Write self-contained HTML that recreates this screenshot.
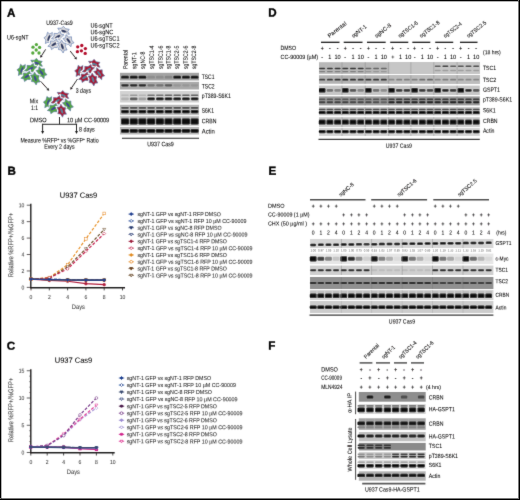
<!DOCTYPE html><html><head><meta charset="utf-8"><style>html,body{margin:0;padding:0;background:#fff;}svg{display:block;will-change:transform;}text{font-family:"Liberation Sans", sans-serif;text-rendering:geometricPrecision;}</style></head><body>
<svg width="520" height="500" viewBox="0 0 520 500">
<defs><filter id="bl" x="-20%" y="-50%" width="140%" height="200%"><feGaussianBlur stdDeviation="0.55"/></filter><filter id="gb" x="0" y="0" width="520" height="500" filterUnits="userSpaceOnUse"><feConvolveMatrix order="3" kernelMatrix="8.1 73.8 8.1 73.8 672.4 73.8 8.1 73.8 8.1" divisor="1000.0" edgeMode="duplicate" preserveAlpha="false"/></filter></defs>
<rect x="0.00" y="0.00" width="520.00" height="500.00" fill="#ffffff"/>
<g filter="url(#gb)">
<text x="7.00" y="16.70" font-size="11.6" font-weight="bold" fill="#000" stroke="#000" stroke-width="0.35" transform="rotate(0.05 7.00 12.70)">A</text>
<text x="7.45" y="174.80" font-size="11.6" font-weight="bold" fill="#000" stroke="#000" stroke-width="0.35" transform="rotate(0.05 7.45 170.80)">B</text>
<text x="6.85" y="349.80" font-size="11.6" font-weight="bold" fill="#000" stroke="#000" stroke-width="0.35" transform="rotate(0.05 6.85 345.80)">C</text>
<text x="268.25" y="16.45" font-size="11.6" font-weight="bold" fill="#000" stroke="#000" stroke-width="0.35" transform="rotate(0.05 268.25 12.45)">D</text>
<text x="268.55" y="174.75" font-size="11.6" font-weight="bold" fill="#000" stroke="#000" stroke-width="0.35" transform="rotate(0.05 268.55 170.75)">E</text>
<text x="268.35" y="349.55" font-size="11.6" font-weight="bold" fill="#000" stroke="#000" stroke-width="0.35" transform="rotate(0.05 268.35 345.55)">F</text>
<text x="46.20" y="24.94" font-size="6.48" textLength="26.50" lengthAdjust="spacingAndGlyphs" stroke="#231f20" stroke-width="0.06" transform="rotate(0.05 46.20 22.70)">U937-Cas9</text>
<text x="7.00" y="39.44" font-size="6.48" textLength="21.60" lengthAdjust="spacingAndGlyphs" stroke="#231f20" stroke-width="0.06" transform="rotate(0.05 7.00 37.20)">U6-sgNT</text>
<text x="90.40" y="27.64" font-size="6.48" textLength="22.29" lengthAdjust="spacingAndGlyphs" stroke="#231f20" stroke-width="0.06" transform="rotate(0.05 90.40 25.40)">U6-sgNT</text>
<text x="90.40" y="34.24" font-size="6.48" textLength="22.91" lengthAdjust="spacingAndGlyphs" stroke="#231f20" stroke-width="0.06" transform="rotate(0.05 90.40 32.00)">U6-sgNC</text>
<text x="90.40" y="40.84" font-size="6.48" textLength="29.11" lengthAdjust="spacingAndGlyphs" stroke="#231f20" stroke-width="0.06" transform="rotate(0.05 90.40 38.60)">U6-sgTSC1</text>
<text x="90.40" y="47.44" font-size="6.48" textLength="29.11" lengthAdjust="spacingAndGlyphs" stroke="#231f20" stroke-width="0.06" transform="rotate(0.05 90.40 45.20)">U6-sgTSC2</text>
<path d="M69.44,34.25 L65.81,34.12 L63.82,36.15 L61.63,33.70 L57.98,33.10 L59.42,30.78 L57.76,28.15 L61.39,28.28 L63.38,26.25 L65.57,28.70 L69.22,29.30 L67.78,31.62Z" fill="none" stroke="#ffffff" stroke-width="2.4"/>
<path d="M69.44,34.25 L65.81,34.12 L63.82,36.15 L61.63,33.70 L57.98,33.10 L59.42,30.78 L57.76,28.15 L61.39,28.28 L63.38,26.25 L65.57,28.70 L69.22,29.30 L67.78,31.62Z" fill="#d6d6da" stroke="#4466a6" stroke-width="0.55"/>
<ellipse cx="63.60" cy="31.20" rx="3.1" ry="1.15" fill="#22315e" transform="rotate(15 63.60 31.20)"/>
<path d="M52.44,32.45 L52.00,36.06 L53.85,38.21 L51.22,40.18 L50.31,43.76 L48.12,42.12 L45.36,43.55 L45.80,39.94 L43.95,37.79 L46.58,35.82 L47.49,32.24 L49.68,33.88Z" fill="none" stroke="#ffffff" stroke-width="2.4"/>
<path d="M52.44,32.45 L52.00,36.06 L53.85,38.21 L51.22,40.18 L50.31,43.76 L48.12,42.12 L45.36,43.55 L45.80,39.94 L43.95,37.79 L46.58,35.82 L47.49,32.24 L49.68,33.88Z" fill="#d6d6da" stroke="#4466a6" stroke-width="0.55"/>
<ellipse cx="48.90" cy="38.00" rx="3.1" ry="1.15" fill="#22315e" transform="rotate(-70 48.90 38.00)"/>
<path d="M63.98,34.73 L61.32,37.20 L61.35,40.05 L58.07,39.86 L55.07,42.02 L54.45,39.36 L51.42,38.67 L54.08,36.20 L54.05,33.35 L57.33,33.54 L60.33,31.38 L60.95,34.04Z" fill="none" stroke="#ffffff" stroke-width="2.4"/>
<path d="M63.98,34.73 L61.32,37.20 L61.35,40.05 L58.07,39.86 L55.07,42.02 L54.45,39.36 L51.42,38.67 L54.08,36.20 L54.05,33.35 L57.33,33.54 L60.33,31.38 L60.95,34.04Z" fill="#d6d6da" stroke="#4466a6" stroke-width="0.55"/>
<ellipse cx="57.70" cy="36.70" rx="3.1" ry="1.15" fill="#22315e" transform="rotate(-30 57.70 36.70)"/>
<path d="M71.01,46.78 L68.32,44.35 L65.49,44.63 L65.39,41.35 L62.97,38.55 L65.57,37.70 L65.99,34.62 L68.68,37.05 L71.51,36.77 L71.61,40.05 L74.03,42.85 L71.43,43.70Z" fill="none" stroke="#ffffff" stroke-width="2.4"/>
<path d="M71.01,46.78 L68.32,44.35 L65.49,44.63 L65.39,41.35 L62.97,38.55 L65.57,37.70 L65.99,34.62 L68.68,37.05 L71.51,36.77 L71.61,40.05 L74.03,42.85 L71.43,43.70Z" fill="#d6d6da" stroke="#4466a6" stroke-width="0.55"/>
<ellipse cx="68.50" cy="40.70" rx="3.1" ry="1.15" fill="#22315e" transform="rotate(55 68.50 40.70)"/>
<path d="M60.38,42.33 L57.72,44.80 L57.75,47.65 L54.47,47.46 L51.47,49.62 L50.85,46.96 L47.82,46.27 L50.48,43.80 L50.45,40.95 L53.73,41.14 L56.73,38.98 L57.35,41.64Z" fill="none" stroke="#ffffff" stroke-width="2.4"/>
<path d="M60.38,42.33 L57.72,44.80 L57.75,47.65 L54.47,47.46 L51.47,49.62 L50.85,46.96 L47.82,46.27 L50.48,43.80 L50.45,40.95 L53.73,41.14 L56.73,38.98 L57.35,41.64Z" fill="#d6d6da" stroke="#4466a6" stroke-width="0.55"/>
<ellipse cx="54.10" cy="44.30" rx="3.1" ry="1.15" fill="#22315e" transform="rotate(-30 54.10 44.30)"/>
<path d="M63.15,53.03 L61.18,49.98 L58.37,49.52 L59.12,46.32 L57.52,42.99 L60.25,42.84 L61.45,39.97 L63.42,43.02 L66.23,43.48 L65.48,46.68 L67.08,50.01 L64.35,50.16Z" fill="none" stroke="#ffffff" stroke-width="2.4"/>
<path d="M63.15,53.03 L61.18,49.98 L58.37,49.52 L59.12,46.32 L57.52,42.99 L60.25,42.84 L61.45,39.97 L63.42,43.02 L66.23,43.48 L65.48,46.68 L67.08,50.01 L64.35,50.16Z" fill="#d6d6da" stroke="#4466a6" stroke-width="0.55"/>
<ellipse cx="62.30" cy="46.50" rx="3.1" ry="1.15" fill="#22315e" transform="rotate(70 62.30 46.50)"/>
<circle cx="36.4" cy="44.6" r="1.65" fill="#55a83d"/>
<circle cx="33" cy="47.2" r="1.65" fill="#55a83d"/>
<circle cx="39.6" cy="47.4" r="1.65" fill="#55a83d"/>
<circle cx="36.2" cy="50" r="1.65" fill="#55a83d"/>
<circle cx="32.8" cy="53" r="1.65" fill="#55a83d"/>
<circle cx="39" cy="53" r="1.65" fill="#55a83d"/>
<circle cx="77.7" cy="46.8" r="1.65" fill="#b30f2d"/>
<circle cx="81.8" cy="45.5" r="1.65" fill="#b30f2d"/>
<circle cx="85.4" cy="48.6" r="1.65" fill="#b30f2d"/>
<circle cx="77.4" cy="51.7" r="1.65" fill="#b30f2d"/>
<circle cx="81.4" cy="50.8" r="1.65" fill="#b30f2d"/>
<circle cx="85.2" cy="53.4" r="1.65" fill="#b30f2d"/>
<path d="M42.44,66.25 L38.81,66.12 L36.82,68.15 L34.63,65.70 L30.98,65.10 L32.42,62.78 L30.76,60.15 L34.39,60.28 L36.38,58.25 L38.57,60.70 L42.22,61.30 L40.78,63.62Z" fill="none" stroke="#ffffff" stroke-width="2.4"/>
<path d="M42.44,66.25 L38.81,66.12 L36.82,68.15 L34.63,65.70 L30.98,65.10 L32.42,62.78 L30.76,60.15 L34.39,60.28 L36.38,58.25 L38.57,60.70 L42.22,61.30 L40.78,63.62Z" fill="#55a83e" stroke="#4466a6" stroke-width="0.55"/>
<ellipse cx="36.60" cy="63.20" rx="3.1" ry="1.15" fill="#3f4a8e" transform="rotate(15 36.60 63.20)"/>
<path d="M25.44,64.45 L25.00,68.06 L26.85,70.21 L24.22,72.18 L23.31,75.76 L21.12,74.12 L18.36,75.55 L18.80,71.94 L16.95,69.79 L19.58,67.82 L20.49,64.24 L22.68,65.88Z" fill="none" stroke="#ffffff" stroke-width="2.4"/>
<path d="M25.44,64.45 L25.00,68.06 L26.85,70.21 L24.22,72.18 L23.31,75.76 L21.12,74.12 L18.36,75.55 L18.80,71.94 L16.95,69.79 L19.58,67.82 L20.49,64.24 L22.68,65.88Z" fill="#55a83e" stroke="#4466a6" stroke-width="0.55"/>
<ellipse cx="21.90" cy="70.00" rx="3.1" ry="1.15" fill="#3f4a8e" transform="rotate(-70 21.90 70.00)"/>
<path d="M36.98,66.73 L34.32,69.20 L34.35,72.05 L31.07,71.86 L28.07,74.02 L27.45,71.36 L24.42,70.67 L27.08,68.20 L27.05,65.35 L30.33,65.54 L33.33,63.38 L33.95,66.04Z" fill="none" stroke="#ffffff" stroke-width="2.4"/>
<path d="M36.98,66.73 L34.32,69.20 L34.35,72.05 L31.07,71.86 L28.07,74.02 L27.45,71.36 L24.42,70.67 L27.08,68.20 L27.05,65.35 L30.33,65.54 L33.33,63.38 L33.95,66.04Z" fill="#55a83e" stroke="#4466a6" stroke-width="0.55"/>
<ellipse cx="30.70" cy="68.70" rx="3.1" ry="1.15" fill="#3f4a8e" transform="rotate(-30 30.70 68.70)"/>
<path d="M44.01,78.78 L41.32,76.35 L38.49,76.63 L38.39,73.35 L35.97,70.55 L38.57,69.70 L38.99,66.62 L41.68,69.05 L44.51,68.77 L44.61,72.05 L47.03,74.85 L44.43,75.70Z" fill="none" stroke="#ffffff" stroke-width="2.4"/>
<path d="M44.01,78.78 L41.32,76.35 L38.49,76.63 L38.39,73.35 L35.97,70.55 L38.57,69.70 L38.99,66.62 L41.68,69.05 L44.51,68.77 L44.61,72.05 L47.03,74.85 L44.43,75.70Z" fill="#55a83e" stroke="#4466a6" stroke-width="0.55"/>
<ellipse cx="41.50" cy="72.70" rx="3.1" ry="1.15" fill="#3f4a8e" transform="rotate(55 41.50 72.70)"/>
<path d="M33.38,74.33 L30.72,76.80 L30.75,79.65 L27.47,79.46 L24.47,81.62 L23.85,78.96 L20.82,78.27 L23.48,75.80 L23.45,72.95 L26.73,73.14 L29.73,70.98 L30.35,73.64Z" fill="none" stroke="#ffffff" stroke-width="2.4"/>
<path d="M33.38,74.33 L30.72,76.80 L30.75,79.65 L27.47,79.46 L24.47,81.62 L23.85,78.96 L20.82,78.27 L23.48,75.80 L23.45,72.95 L26.73,73.14 L29.73,70.98 L30.35,73.64Z" fill="#55a83e" stroke="#4466a6" stroke-width="0.55"/>
<ellipse cx="27.10" cy="76.30" rx="3.1" ry="1.15" fill="#3f4a8e" transform="rotate(-30 27.10 76.30)"/>
<path d="M36.15,85.03 L34.18,81.98 L31.37,81.52 L32.12,78.32 L30.52,74.99 L33.25,74.84 L34.45,71.97 L36.42,75.02 L39.23,75.48 L38.48,78.68 L40.08,82.01 L37.35,82.16Z" fill="none" stroke="#ffffff" stroke-width="2.4"/>
<path d="M36.15,85.03 L34.18,81.98 L31.37,81.52 L32.12,78.32 L30.52,74.99 L33.25,74.84 L34.45,71.97 L36.42,75.02 L39.23,75.48 L38.48,78.68 L40.08,82.01 L37.35,82.16Z" fill="#55a83e" stroke="#4466a6" stroke-width="0.55"/>
<ellipse cx="35.30" cy="78.50" rx="3.1" ry="1.15" fill="#3f4a8e" transform="rotate(70 35.30 78.50)"/>
<path d="M100.14,67.25 L96.51,67.12 L94.52,69.15 L92.33,66.70 L88.68,66.10 L90.12,63.78 L88.46,61.15 L92.09,61.28 L94.08,59.25 L96.27,61.70 L99.92,62.30 L98.48,64.62Z" fill="none" stroke="#ffffff" stroke-width="2.4"/>
<path d="M100.14,67.25 L96.51,67.12 L94.52,69.15 L92.33,66.70 L88.68,66.10 L90.12,63.78 L88.46,61.15 L92.09,61.28 L94.08,59.25 L96.27,61.70 L99.92,62.30 L98.48,64.62Z" fill="#a8102e" stroke="#4466a6" stroke-width="0.55"/>
<ellipse cx="94.30" cy="64.20" rx="3.1" ry="1.15" fill="#5a7d96" transform="rotate(15 94.30 64.20)"/>
<path d="M83.14,65.45 L82.70,69.06 L84.55,71.21 L81.92,73.18 L81.01,76.76 L78.82,75.12 L76.06,76.55 L76.50,72.94 L74.65,70.79 L77.28,68.82 L78.19,65.24 L80.38,66.88Z" fill="none" stroke="#ffffff" stroke-width="2.4"/>
<path d="M83.14,65.45 L82.70,69.06 L84.55,71.21 L81.92,73.18 L81.01,76.76 L78.82,75.12 L76.06,76.55 L76.50,72.94 L74.65,70.79 L77.28,68.82 L78.19,65.24 L80.38,66.88Z" fill="#a8102e" stroke="#4466a6" stroke-width="0.55"/>
<ellipse cx="79.60" cy="71.00" rx="3.1" ry="1.15" fill="#5a7d96" transform="rotate(-70 79.60 71.00)"/>
<path d="M94.68,67.73 L92.02,70.20 L92.05,73.05 L88.77,72.86 L85.77,75.02 L85.15,72.36 L82.12,71.67 L84.78,69.20 L84.75,66.35 L88.03,66.54 L91.03,64.38 L91.65,67.04Z" fill="none" stroke="#ffffff" stroke-width="2.4"/>
<path d="M94.68,67.73 L92.02,70.20 L92.05,73.05 L88.77,72.86 L85.77,75.02 L85.15,72.36 L82.12,71.67 L84.78,69.20 L84.75,66.35 L88.03,66.54 L91.03,64.38 L91.65,67.04Z" fill="#a8102e" stroke="#4466a6" stroke-width="0.55"/>
<ellipse cx="88.40" cy="69.70" rx="3.1" ry="1.15" fill="#5a7d96" transform="rotate(-30 88.40 69.70)"/>
<path d="M101.71,79.78 L99.02,77.35 L96.19,77.63 L96.09,74.35 L93.67,71.55 L96.27,70.70 L96.69,67.62 L99.38,70.05 L102.21,69.77 L102.31,73.05 L104.73,75.85 L102.13,76.70Z" fill="none" stroke="#ffffff" stroke-width="2.4"/>
<path d="M101.71,79.78 L99.02,77.35 L96.19,77.63 L96.09,74.35 L93.67,71.55 L96.27,70.70 L96.69,67.62 L99.38,70.05 L102.21,69.77 L102.31,73.05 L104.73,75.85 L102.13,76.70Z" fill="#a8102e" stroke="#4466a6" stroke-width="0.55"/>
<ellipse cx="99.20" cy="73.70" rx="3.1" ry="1.15" fill="#5a7d96" transform="rotate(55 99.20 73.70)"/>
<path d="M91.08,75.33 L88.42,77.80 L88.45,80.65 L85.17,80.46 L82.17,82.62 L81.55,79.96 L78.52,79.27 L81.18,76.80 L81.15,73.95 L84.43,74.14 L87.43,71.98 L88.05,74.64Z" fill="none" stroke="#ffffff" stroke-width="2.4"/>
<path d="M91.08,75.33 L88.42,77.80 L88.45,80.65 L85.17,80.46 L82.17,82.62 L81.55,79.96 L78.52,79.27 L81.18,76.80 L81.15,73.95 L84.43,74.14 L87.43,71.98 L88.05,74.64Z" fill="#a8102e" stroke="#4466a6" stroke-width="0.55"/>
<ellipse cx="84.80" cy="77.30" rx="3.1" ry="1.15" fill="#5a7d96" transform="rotate(-30 84.80 77.30)"/>
<path d="M93.85,86.03 L91.88,82.98 L89.07,82.52 L89.82,79.32 L88.22,75.99 L90.95,75.84 L92.15,72.97 L94.12,76.02 L96.93,76.48 L96.18,79.68 L97.78,83.01 L95.05,83.16Z" fill="none" stroke="#ffffff" stroke-width="2.4"/>
<path d="M93.85,86.03 L91.88,82.98 L89.07,82.52 L89.82,79.32 L88.22,75.99 L90.95,75.84 L92.15,72.97 L94.12,76.02 L96.93,76.48 L96.18,79.68 L97.78,83.01 L95.05,83.16Z" fill="#a8102e" stroke="#4466a6" stroke-width="0.55"/>
<ellipse cx="93.00" cy="79.50" rx="3.1" ry="1.15" fill="#5a7d96" transform="rotate(70 93.00 79.50)"/>
<path d="M68.84,98.45 L65.21,98.32 L63.22,100.35 L61.03,97.90 L57.38,97.30 L58.82,94.98 L57.16,92.35 L60.79,92.48 L62.78,90.45 L64.97,92.90 L68.62,93.50 L67.18,95.82Z" fill="none" stroke="#ffffff" stroke-width="2.4"/>
<path d="M68.84,98.45 L65.21,98.32 L63.22,100.35 L61.03,97.90 L57.38,97.30 L58.82,94.98 L57.16,92.35 L60.79,92.48 L62.78,90.45 L64.97,92.90 L68.62,93.50 L67.18,95.82Z" fill="#a8102e" stroke="#4466a6" stroke-width="0.55"/>
<ellipse cx="63.00" cy="95.40" rx="3.1" ry="1.15" fill="#5a7d96" transform="rotate(15 63.00 95.40)"/>
<path d="M51.84,96.65 L51.40,100.26 L53.25,102.41 L50.62,104.38 L49.71,107.96 L47.52,106.32 L44.76,107.75 L45.20,104.14 L43.35,101.99 L45.98,100.02 L46.89,96.44 L49.08,98.08Z" fill="none" stroke="#ffffff" stroke-width="2.4"/>
<path d="M51.84,96.65 L51.40,100.26 L53.25,102.41 L50.62,104.38 L49.71,107.96 L47.52,106.32 L44.76,107.75 L45.20,104.14 L43.35,101.99 L45.98,100.02 L46.89,96.44 L49.08,98.08Z" fill="#55a83e" stroke="#4466a6" stroke-width="0.55"/>
<ellipse cx="48.30" cy="102.20" rx="3.1" ry="1.15" fill="#3f4a8e" transform="rotate(-70 48.30 102.20)"/>
<path d="M63.38,98.93 L60.72,101.40 L60.75,104.25 L57.47,104.06 L54.47,106.22 L53.85,103.56 L50.82,102.87 L53.48,100.40 L53.45,97.55 L56.73,97.74 L59.73,95.58 L60.35,98.24Z" fill="none" stroke="#ffffff" stroke-width="2.4"/>
<path d="M63.38,98.93 L60.72,101.40 L60.75,104.25 L57.47,104.06 L54.47,106.22 L53.85,103.56 L50.82,102.87 L53.48,100.40 L53.45,97.55 L56.73,97.74 L59.73,95.58 L60.35,98.24Z" fill="#a8102e" stroke="#4466a6" stroke-width="0.55"/>
<ellipse cx="57.10" cy="100.90" rx="3.1" ry="1.15" fill="#5a7d96" transform="rotate(-30 57.10 100.90)"/>
<path d="M70.41,110.98 L67.72,108.55 L64.89,108.83 L64.79,105.55 L62.37,102.75 L64.97,101.90 L65.39,98.82 L68.08,101.25 L70.91,100.97 L71.01,104.25 L73.43,107.05 L70.83,107.90Z" fill="none" stroke="#ffffff" stroke-width="2.4"/>
<path d="M70.41,110.98 L67.72,108.55 L64.89,108.83 L64.79,105.55 L62.37,102.75 L64.97,101.90 L65.39,98.82 L68.08,101.25 L70.91,100.97 L71.01,104.25 L73.43,107.05 L70.83,107.90Z" fill="#55a83e" stroke="#4466a6" stroke-width="0.55"/>
<ellipse cx="67.90" cy="104.90" rx="3.1" ry="1.15" fill="#3f4a8e" transform="rotate(55 67.90 104.90)"/>
<path d="M59.78,106.53 L57.12,109.00 L57.15,111.85 L53.87,111.66 L50.87,113.82 L50.25,111.16 L47.22,110.47 L49.88,108.00 L49.85,105.15 L53.13,105.34 L56.13,103.18 L56.75,105.84Z" fill="none" stroke="#ffffff" stroke-width="2.4"/>
<path d="M59.78,106.53 L57.12,109.00 L57.15,111.85 L53.87,111.66 L50.87,113.82 L50.25,111.16 L47.22,110.47 L49.88,108.00 L49.85,105.15 L53.13,105.34 L56.13,103.18 L56.75,105.84Z" fill="#55a83e" stroke="#4466a6" stroke-width="0.55"/>
<ellipse cx="53.50" cy="108.50" rx="3.1" ry="1.15" fill="#3f4a8e" transform="rotate(-30 53.50 108.50)"/>
<path d="M62.55,117.23 L60.58,114.18 L57.77,113.72 L58.52,110.52 L56.92,107.19 L59.65,107.04 L60.85,104.17 L62.82,107.22 L65.63,107.68 L64.88,110.88 L66.48,114.21 L63.75,114.36Z" fill="none" stroke="#ffffff" stroke-width="2.4"/>
<path d="M62.55,117.23 L60.58,114.18 L57.77,113.72 L58.52,110.52 L56.92,107.19 L59.65,107.04 L60.85,104.17 L62.82,107.22 L65.63,107.68 L64.88,110.88 L66.48,114.21 L63.75,114.36Z" fill="#a8102e" stroke="#4466a6" stroke-width="0.55"/>
<ellipse cx="61.70" cy="110.70" rx="3.1" ry="1.15" fill="#5a7d96" transform="rotate(70 61.70 110.70)"/>
<line x1="45.60" y1="49.40" x2="41.41" y2="55.92" stroke="#231f20" stroke-width="0.95"/>
<polygon points="40.20,57.80 40.30,55.00 42.70,56.54" fill="#231f20"/>
<line x1="70.20" y1="51.00" x2="75.44" y2="57.82" stroke="#231f20" stroke-width="0.95"/>
<polygon points="76.80,59.60 74.20,58.56 76.46,56.82" fill="#231f20"/>
<line x1="40.50" y1="81.20" x2="47.69" y2="89.05" stroke="#231f20" stroke-width="0.95"/>
<polygon points="49.20,90.70 46.52,89.89 48.62,87.96" fill="#231f20"/>
<line x1="77.50" y1="79.00" x2="71.55" y2="87.84" stroke="#231f20" stroke-width="0.95"/>
<polygon points="70.30,89.70 70.46,86.90 72.83,88.50" fill="#231f20"/>
<text x="75.80" y="92.74" font-size="6.48" textLength="15.20" lengthAdjust="spacingAndGlyphs" stroke="#231f20" stroke-width="0.06" transform="rotate(0.05 75.80 90.50)">3 days</text>
<text x="29.80" y="103.24" font-size="6.48" textLength="8.40" lengthAdjust="spacingAndGlyphs" stroke="#231f20" stroke-width="0.06" transform="rotate(0.05 29.80 101.00)">Mix</text>
<text x="31.00" y="110.04" font-size="6.48" textLength="7.03" lengthAdjust="spacingAndGlyphs" stroke="#231f20" stroke-width="0.06" transform="rotate(0.05 31.00 107.80)">1:1</text>
<rect x="59.00" y="117.00" width="1.00" height="7.30" fill="#2a2a2a"/>
<rect x="42.10" y="123.80" width="35.00" height="1.00" fill="#2a2a2a"/>
<rect x="42.10" y="123.80" width="1.00" height="7.60" fill="#2a2a2a"/>
<rect x="76.00" y="123.80" width="1.00" height="7.60" fill="#2a2a2a"/>
<polygon points="41.1,130.9 44.1,130.9 42.6,134.0" fill="#1a1a1a"/>
<polygon points="75.0,130.9 78.0,130.9 76.5,134.0" fill="#1a1a1a"/>
<text x="30.00" y="122.24" font-size="6.48" textLength="16.70" lengthAdjust="spacingAndGlyphs" stroke="#231f20" stroke-width="0.06" transform="rotate(0.05 30.00 120.00)">DMSO</text>
<text x="67.00" y="122.24" font-size="6.48" textLength="42.20" lengthAdjust="spacingAndGlyphs" stroke="#231f20" stroke-width="0.06" transform="rotate(0.05 67.00 120.00)">10 µM CC-90009</text>
<text x="79.00" y="131.44" font-size="6.48" textLength="15.80" lengthAdjust="spacingAndGlyphs" stroke="#231f20" stroke-width="0.06" transform="rotate(0.05 79.00 129.20)">8 days</text>
<text x="20.40" y="142.44" font-size="6.48" textLength="78.30" lengthAdjust="spacingAndGlyphs" stroke="#231f20" stroke-width="0.06" transform="rotate(0.05 20.40 140.20)">Measure %RFP<tspan font-size="3.8" dy="-2">+</tspan><tspan dy="2"> vs %GFP</tspan><tspan font-size="3.8" dy="-2">+</tspan><tspan dy="2"> Ratio</tspan></text>
<text x="44.20" y="148.74" font-size="6.48" textLength="30.40" lengthAdjust="spacingAndGlyphs" stroke="#231f20" stroke-width="0.06" transform="rotate(0.05 44.20 146.50)">Every 2 days</text>
<text x="125.30" y="71.26" font-size="6.26" textLength="19.36" lengthAdjust="spacingAndGlyphs" stroke="#231f20" stroke-width="0.06" transform="rotate(-89.95 125.30 69.10)">Parental</text>
<text x="134.00" y="71.26" font-size="6.26" textLength="16.76" lengthAdjust="spacingAndGlyphs" stroke="#231f20" stroke-width="0.06" transform="rotate(-89.95 134.00 69.10)">sgNT-1</text>
<text x="142.60" y="71.26" font-size="6.26" textLength="17.62" lengthAdjust="spacingAndGlyphs" stroke="#231f20" stroke-width="0.06" transform="rotate(-89.95 142.60 69.10)">sgNC-8</text>
<text x="151.60" y="71.26" font-size="6.26" textLength="23.40" lengthAdjust="spacingAndGlyphs" stroke="#231f20" stroke-width="0.06" transform="rotate(-89.95 151.60 69.10)">sgTSC1-4</text>
<text x="160.50" y="71.26" font-size="6.26" textLength="23.40" lengthAdjust="spacingAndGlyphs" stroke="#231f20" stroke-width="0.06" transform="rotate(-89.95 160.50 69.10)">sgTSC1-6</text>
<text x="168.40" y="71.26" font-size="6.26" textLength="23.40" lengthAdjust="spacingAndGlyphs" stroke="#231f20" stroke-width="0.06" transform="rotate(-89.95 168.40 69.10)">sgTSC1-8</text>
<text x="176.60" y="71.26" font-size="6.26" textLength="23.40" lengthAdjust="spacingAndGlyphs" stroke="#231f20" stroke-width="0.06" transform="rotate(-89.95 176.60 69.10)">sgTSC2-5</text>
<text x="185.70" y="71.26" font-size="6.26" textLength="23.40" lengthAdjust="spacingAndGlyphs" stroke="#231f20" stroke-width="0.06" transform="rotate(-89.95 185.70 69.10)">sgTSC2-6</text>
<text x="193.90" y="71.26" font-size="6.26" textLength="23.40" lengthAdjust="spacingAndGlyphs" stroke="#231f20" stroke-width="0.06" transform="rotate(-89.95 193.90 69.10)">sgTSC2-8</text>
<rect x="120.00" y="72.80" width="79.00" height="7.70" fill="#a4a4a4"/>
<g filter="url(#bl)">
<rect x="121.20" y="75.80" width="7.60" height="2.80" rx="1.20" fill="#141414"/>
<rect x="129.90" y="75.80" width="7.60" height="2.80" rx="1.20" fill="#0c0c0c"/>
<rect x="138.60" y="75.80" width="7.60" height="2.80" rx="1.20" fill="#0c0c0c"/>
<rect x="147.30" y="75.80" width="7.60" height="2.80" rx="1.20" fill="#8d8d8d"/>
<rect x="156.00" y="75.80" width="7.60" height="2.80" rx="1.20" fill="#8d8d8d"/>
<rect x="164.70" y="75.80" width="7.60" height="2.80" rx="1.20" fill="#868686"/>
<rect x="173.40" y="75.80" width="7.60" height="2.80" rx="1.20" fill="#0c0c0c"/>
<rect x="182.10" y="75.80" width="7.60" height="2.80" rx="1.20" fill="#0c0c0c"/>
<rect x="190.80" y="75.80" width="7.60" height="2.80" rx="1.20" fill="#0c0c0c"/>
</g>
<rect x="120.00" y="81.80" width="79.00" height="7.70" fill="#a9a9a9"/>
<g filter="url(#bl)">
<rect x="121.30" y="84.20" width="7.40" height="2.20" rx="1.10" fill="#242424"/>
<rect x="130.00" y="84.20" width="7.40" height="2.20" rx="1.10" fill="#242424"/>
<rect x="138.70" y="84.20" width="7.40" height="2.20" rx="1.10" fill="#242424"/>
<rect x="147.40" y="84.20" width="7.40" height="2.20" rx="1.10" fill="#727272"/>
<rect x="156.10" y="84.20" width="7.40" height="2.20" rx="1.10" fill="#727272"/>
<rect x="164.80" y="84.20" width="7.40" height="2.20" rx="1.10" fill="#5a5a5a"/>
<rect x="173.50" y="84.20" width="7.40" height="2.20" rx="1.10" fill="#969696"/>
<rect x="182.20" y="84.20" width="7.40" height="2.20" rx="1.10" fill="#969696"/>
<rect x="190.90" y="84.20" width="7.40" height="2.20" rx="1.10" fill="#969696"/>
</g>
<rect x="120.00" y="91.00" width="79.00" height="11.50" fill="#d2d2d2"/>
<g filter="url(#bl)">
<rect x="121.20" y="94.40" width="7.60" height="1.60" rx="0.80" fill="#bababa"/>
<rect x="129.90" y="94.40" width="7.60" height="1.60" rx="0.80" fill="#979797"/>
<rect x="138.60" y="94.40" width="7.60" height="1.60" rx="0.80" fill="#b4b4b4"/>
<rect x="147.30" y="94.40" width="7.60" height="1.60" rx="0.80" fill="#6f6f6f"/>
<rect x="156.00" y="94.40" width="7.60" height="1.60" rx="0.80" fill="#6f6f6f"/>
<rect x="164.70" y="94.40" width="7.60" height="1.60" rx="0.80" fill="#5b5b5b"/>
<rect x="173.40" y="94.40" width="7.60" height="1.60" rx="0.80" fill="#5b5b5b"/>
<rect x="182.10" y="94.40" width="7.60" height="1.60" rx="0.80" fill="#5b5b5b"/>
<rect x="190.80" y="94.40" width="7.60" height="1.60" rx="0.80" fill="#5b5b5b"/>
<rect x="121.20" y="97.50" width="7.60" height="2.80" rx="1.20" fill="#b4b4b4"/>
<rect x="129.90" y="97.50" width="7.60" height="2.80" rx="1.20" fill="#5b5b5b"/>
<rect x="138.60" y="97.50" width="7.60" height="2.80" rx="1.20" fill="#a0a0a0"/>
<rect x="147.30" y="97.50" width="7.60" height="2.80" rx="1.20" fill="#0c0c0c"/>
<rect x="156.00" y="97.50" width="7.60" height="2.80" rx="1.20" fill="#0c0c0c"/>
<rect x="164.70" y="97.50" width="7.60" height="2.80" rx="1.20" fill="#0c0c0c"/>
<rect x="173.40" y="97.50" width="7.60" height="2.80" rx="1.20" fill="#0c0c0c"/>
<rect x="182.10" y="97.50" width="7.60" height="2.80" rx="1.20" fill="#0c0c0c"/>
<rect x="190.80" y="97.50" width="7.60" height="2.80" rx="1.20" fill="#0c0c0c"/>
</g>
<rect x="120.00" y="104.80" width="79.00" height="10.00" fill="#b6b6b6"/>
<g filter="url(#bl)">
<rect x="121.20" y="106.90" width="7.60" height="1.80" rx="0.90" fill="#484848"/>
<rect x="129.90" y="106.90" width="7.60" height="1.80" rx="0.90" fill="#484848"/>
<rect x="138.60" y="106.90" width="7.60" height="1.80" rx="0.90" fill="#484848"/>
<rect x="147.30" y="106.90" width="7.60" height="1.80" rx="0.90" fill="#484848"/>
<rect x="156.00" y="106.90" width="7.60" height="1.80" rx="0.90" fill="#484848"/>
<rect x="164.70" y="106.90" width="7.60" height="1.80" rx="0.90" fill="#484848"/>
<rect x="173.40" y="106.90" width="7.60" height="1.80" rx="0.90" fill="#484848"/>
<rect x="182.10" y="106.90" width="7.60" height="1.80" rx="0.90" fill="#484848"/>
<rect x="190.80" y="106.90" width="7.60" height="1.80" rx="0.90" fill="#484848"/>
<rect x="121.20" y="110.05" width="7.60" height="3.10" rx="1.20" fill="#0c0c0c"/>
<rect x="129.90" y="110.05" width="7.60" height="3.10" rx="1.20" fill="#0c0c0c"/>
<rect x="138.60" y="110.05" width="7.60" height="3.10" rx="1.20" fill="#0c0c0c"/>
<rect x="147.30" y="110.05" width="7.60" height="3.10" rx="1.20" fill="#0c0c0c"/>
<rect x="156.00" y="110.05" width="7.60" height="3.10" rx="1.20" fill="#0c0c0c"/>
<rect x="164.70" y="110.05" width="7.60" height="3.10" rx="1.20" fill="#0c0c0c"/>
<rect x="173.40" y="110.05" width="7.60" height="3.10" rx="1.20" fill="#0c0c0c"/>
<rect x="182.10" y="110.05" width="7.60" height="3.10" rx="1.20" fill="#0c0c0c"/>
<rect x="190.80" y="110.05" width="7.60" height="3.10" rx="1.20" fill="#0c0c0c"/>
</g>
<rect x="120.00" y="115.80" width="79.00" height="10.00" fill="#cacaca"/>
<g filter="url(#bl)">
<rect x="121.00" y="117.60" width="8.00" height="1.20" rx="0.60" fill="#9a9a9a"/>
<rect x="129.70" y="117.60" width="8.00" height="1.20" rx="0.60" fill="#9a9a9a"/>
<rect x="138.40" y="117.60" width="8.00" height="1.20" rx="0.60" fill="#9a9a9a"/>
<rect x="147.10" y="117.60" width="8.00" height="1.20" rx="0.60" fill="#9a9a9a"/>
<rect x="155.80" y="117.60" width="8.00" height="1.20" rx="0.60" fill="#9a9a9a"/>
<rect x="164.50" y="117.60" width="8.00" height="1.20" rx="0.60" fill="#9a9a9a"/>
<rect x="173.20" y="117.60" width="8.00" height="1.20" rx="0.60" fill="#9a9a9a"/>
<rect x="181.90" y="117.60" width="8.00" height="1.20" rx="0.60" fill="#9a9a9a"/>
<rect x="190.60" y="117.60" width="8.00" height="1.20" rx="0.60" fill="#9a9a9a"/>
<rect x="121.00" y="118.50" width="8.00" height="6.00" rx="1.20" fill="#0c0c0c"/>
<rect x="129.70" y="118.50" width="8.00" height="6.00" rx="1.20" fill="#0c0c0c"/>
<rect x="138.40" y="118.50" width="8.00" height="6.00" rx="1.20" fill="#0c0c0c"/>
<rect x="147.10" y="118.50" width="8.00" height="6.00" rx="1.20" fill="#0c0c0c"/>
<rect x="155.80" y="118.50" width="8.00" height="6.00" rx="1.20" fill="#0c0c0c"/>
<rect x="164.50" y="118.50" width="8.00" height="6.00" rx="1.20" fill="#0c0c0c"/>
<rect x="173.20" y="118.50" width="8.00" height="6.00" rx="1.20" fill="#0c0c0c"/>
<rect x="181.90" y="118.50" width="8.00" height="6.00" rx="1.20" fill="#0c0c0c"/>
<rect x="190.60" y="118.50" width="8.00" height="6.00" rx="1.20" fill="#0c0c0c"/>
</g>
<rect x="120.00" y="127.00" width="79.00" height="7.50" fill="#b8b8b8"/>
<g filter="url(#bl)">
<rect x="121.00" y="129.05" width="8.00" height="3.70" rx="1.20" fill="#0c0c0c"/>
<rect x="129.70" y="129.05" width="8.00" height="3.70" rx="1.20" fill="#0c0c0c"/>
<rect x="138.40" y="129.05" width="8.00" height="3.70" rx="1.20" fill="#0c0c0c"/>
<rect x="147.10" y="129.05" width="8.00" height="3.70" rx="1.20" fill="#0c0c0c"/>
<rect x="155.80" y="129.05" width="8.00" height="3.70" rx="1.20" fill="#0c0c0c"/>
<rect x="164.50" y="129.05" width="8.00" height="3.70" rx="1.20" fill="#0c0c0c"/>
<rect x="173.20" y="129.05" width="8.00" height="3.70" rx="1.20" fill="#0c0c0c"/>
<rect x="181.90" y="129.05" width="8.00" height="3.70" rx="1.20" fill="#0c0c0c"/>
<rect x="190.60" y="129.05" width="8.00" height="3.70" rx="1.20" fill="#0c0c0c"/>
</g>
<line x1="122.00" y1="138.30" x2="199.00" y2="138.30" stroke="#222222" stroke-width="1.1"/>
<text x="160.50" y="146.24" font-size="6.48" text-anchor="middle" textLength="26.50" lengthAdjust="spacingAndGlyphs" stroke="#231f20" stroke-width="0.06" transform="rotate(0.05 160.50 144.00)">U937 Cas9</text>
<text x="201.80" y="78.94" font-size="6.48" textLength="12.60" lengthAdjust="spacingAndGlyphs" stroke="#231f20" stroke-width="0.06" transform="rotate(0.05 201.80 76.70)">TSC1</text>
<text x="201.80" y="88.54" font-size="6.48" textLength="12.80" lengthAdjust="spacingAndGlyphs" stroke="#231f20" stroke-width="0.06" transform="rotate(0.05 201.80 86.30)">TSC2</text>
<text x="201.80" y="98.04" font-size="6.48" textLength="29.00" lengthAdjust="spacingAndGlyphs" stroke="#231f20" stroke-width="0.06" transform="rotate(0.05 201.80 95.80)">pT389-S6K1</text>
<text x="201.80" y="112.84" font-size="6.48" textLength="12.10" lengthAdjust="spacingAndGlyphs" stroke="#231f20" stroke-width="0.06" transform="rotate(0.05 201.80 110.60)">S6K1</text>
<text x="201.80" y="123.24" font-size="6.48" textLength="14.70" lengthAdjust="spacingAndGlyphs" stroke="#231f20" stroke-width="0.06" transform="rotate(0.05 201.80 121.00)">CRBN</text>
<text x="201.80" y="133.44" font-size="6.48" textLength="13.00" lengthAdjust="spacingAndGlyphs" stroke="#231f20" stroke-width="0.06" transform="rotate(0.05 201.80 131.20)">Actin</text>
<line x1="30.80" y1="203.70" x2="30.80" y2="288.20" stroke="#231f20" stroke-width="1.4"/>
<line x1="30.10" y1="287.75" x2="125.00" y2="287.75" stroke="#231f20" stroke-width="1.5"/>
<line x1="26.80" y1="287.40" x2="30.60" y2="287.40" stroke="#231f20" stroke-width="0.7"/>
<text x="24.40" y="289.41" font-size="5.83" text-anchor="end" textLength="2.79" lengthAdjust="spacingAndGlyphs" fill="#3a3a3a" stroke="#3a3a3a" stroke-width="0.06" transform="rotate(0.05 24.40 287.40)">0</text>
<line x1="26.80" y1="270.96" x2="30.60" y2="270.96" stroke="#231f20" stroke-width="0.7"/>
<text x="24.40" y="272.97" font-size="5.83" text-anchor="end" textLength="2.79" lengthAdjust="spacingAndGlyphs" fill="#3a3a3a" stroke="#3a3a3a" stroke-width="0.06" transform="rotate(0.05 24.40 270.96)">2</text>
<line x1="26.80" y1="254.52" x2="30.60" y2="254.52" stroke="#231f20" stroke-width="0.7"/>
<text x="24.40" y="256.53" font-size="5.83" text-anchor="end" textLength="2.79" lengthAdjust="spacingAndGlyphs" fill="#3a3a3a" stroke="#3a3a3a" stroke-width="0.06" transform="rotate(0.05 24.40 254.52)">4</text>
<line x1="26.80" y1="238.08" x2="30.60" y2="238.08" stroke="#231f20" stroke-width="0.7"/>
<text x="24.40" y="240.09" font-size="5.83" text-anchor="end" textLength="2.79" lengthAdjust="spacingAndGlyphs" fill="#3a3a3a" stroke="#3a3a3a" stroke-width="0.06" transform="rotate(0.05 24.40 238.08)">6</text>
<line x1="26.80" y1="221.64" x2="30.60" y2="221.64" stroke="#231f20" stroke-width="0.7"/>
<text x="24.40" y="223.65" font-size="5.83" text-anchor="end" textLength="2.79" lengthAdjust="spacingAndGlyphs" fill="#3a3a3a" stroke="#3a3a3a" stroke-width="0.06" transform="rotate(0.05 24.40 221.64)">8</text>
<line x1="26.80" y1="205.20" x2="30.60" y2="205.20" stroke="#231f20" stroke-width="0.7"/>
<text x="24.40" y="207.21" font-size="5.83" text-anchor="end" textLength="5.58" lengthAdjust="spacingAndGlyphs" fill="#3a3a3a" stroke="#3a3a3a" stroke-width="0.06" transform="rotate(0.05 24.40 205.20)">10</text>
<line x1="31.00" y1="287.40" x2="31.00" y2="290.40" stroke="#231f20" stroke-width="0.8"/>
<text x="31.00" y="299.01" font-size="5.83" text-anchor="middle" textLength="2.79" lengthAdjust="spacingAndGlyphs" fill="#3a3a3a" stroke="#3a3a3a" stroke-width="0.06" transform="rotate(0.05 31.00 297.00)">0</text>
<line x1="49.30" y1="287.40" x2="49.30" y2="290.40" stroke="#231f20" stroke-width="0.8"/>
<text x="49.30" y="299.01" font-size="5.83" text-anchor="middle" textLength="2.79" lengthAdjust="spacingAndGlyphs" fill="#3a3a3a" stroke="#3a3a3a" stroke-width="0.06" transform="rotate(0.05 49.30 297.00)">2</text>
<line x1="67.60" y1="287.40" x2="67.60" y2="290.40" stroke="#231f20" stroke-width="0.8"/>
<text x="67.60" y="299.01" font-size="5.83" text-anchor="middle" textLength="2.79" lengthAdjust="spacingAndGlyphs" fill="#3a3a3a" stroke="#3a3a3a" stroke-width="0.06" transform="rotate(0.05 67.60 297.00)">4</text>
<line x1="85.90" y1="287.40" x2="85.90" y2="290.40" stroke="#231f20" stroke-width="0.8"/>
<text x="85.90" y="299.01" font-size="5.83" text-anchor="middle" textLength="2.79" lengthAdjust="spacingAndGlyphs" fill="#3a3a3a" stroke="#3a3a3a" stroke-width="0.06" transform="rotate(0.05 85.90 297.00)">6</text>
<line x1="104.20" y1="287.40" x2="104.20" y2="290.40" stroke="#231f20" stroke-width="0.8"/>
<text x="104.20" y="299.01" font-size="5.83" text-anchor="middle" textLength="2.79" lengthAdjust="spacingAndGlyphs" fill="#3a3a3a" stroke="#3a3a3a" stroke-width="0.06" transform="rotate(0.05 104.20 297.00)">8</text>
<line x1="122.50" y1="287.40" x2="122.50" y2="290.40" stroke="#231f20" stroke-width="0.8"/>
<text x="122.50" y="299.01" font-size="5.83" text-anchor="middle" textLength="5.58" lengthAdjust="spacingAndGlyphs" fill="#3a3a3a" stroke="#3a3a3a" stroke-width="0.06" transform="rotate(0.05 122.50 297.00)">10</text>
<text x="78.50" y="197.79" font-size="7.51" text-anchor="middle" textLength="37.50" lengthAdjust="spacingAndGlyphs" stroke="#231f20" stroke-width="0.06" transform="rotate(0.05 78.50 195.20)">U937 Cas9</text>
<text x="10.80" y="247.42" font-size="7.02" text-anchor="middle" textLength="64.50" lengthAdjust="spacingAndGlyphs" fill="#3a3a3a" stroke="#3a3a3a" stroke-width="0.06" transform="rotate(-89.95 10.80 245.00)">Relative %RFP+/%GFP+</text>
<text x="78.40" y="308.94" font-size="6.48" text-anchor="middle" textLength="13.10" lengthAdjust="spacingAndGlyphs" fill="#3a3a3a" stroke="#3a3a3a" stroke-width="0.06" transform="rotate(0.05 78.40 306.70)">Days</text>
<path d="M31.00,279.18 L49.30,279.18 L67.60,279.76 L85.90,280.00 L104.20,280.00" fill="none" stroke="#1f4a9a" stroke-width="1.2" stroke-dasharray="3,1.6"/>
<polygon points="29.50,279.18 31.00,277.68 32.50,279.18 31.00,280.68" fill="#ffffff" stroke="#1f4a9a" stroke-width="0.6"/>
<polygon points="47.80,279.18 49.30,277.68 50.80,279.18 49.30,280.68" fill="#ffffff" stroke="#1f4a9a" stroke-width="0.6"/>
<polygon points="66.10,279.76 67.60,278.26 69.10,279.76 67.60,281.26" fill="#ffffff" stroke="#1f4a9a" stroke-width="0.6"/>
<polygon points="84.40,280.00 85.90,278.50 87.40,280.00 85.90,281.50" fill="#ffffff" stroke="#1f4a9a" stroke-width="0.6"/>
<polygon points="102.70,280.00 104.20,278.50 105.70,280.00 104.20,281.50" fill="#ffffff" stroke="#1f4a9a" stroke-width="0.6"/>
<path d="M31.00,279.18 L49.30,279.18 L67.60,279.76 L85.90,280.00 L104.20,280.00" fill="none" stroke="#4a5a8a" stroke-width="1.2" stroke-dasharray="3,1.6"/>
<polygon points="29.50,278.13 32.50,278.13 31.00,280.68" fill="#ffffff" stroke="#4a5a8a" stroke-width="0.6"/>
<polygon points="47.80,278.13 50.80,278.13 49.30,280.68" fill="#ffffff" stroke="#4a5a8a" stroke-width="0.6"/>
<polygon points="66.10,278.71 69.10,278.71 67.60,281.26" fill="#ffffff" stroke="#4a5a8a" stroke-width="0.6"/>
<polygon points="84.40,278.95 87.40,278.95 85.90,281.50" fill="#ffffff" stroke="#4a5a8a" stroke-width="0.6"/>
<polygon points="102.70,278.95 105.70,278.95 104.20,281.50" fill="#ffffff" stroke="#4a5a8a" stroke-width="0.6"/>
<path d="M31.00,279.18 L49.30,277.54 L67.60,264.79 L85.90,238.90 L104.20,213.42" fill="none" stroke="#e8922a" stroke-width="1.2" stroke-dasharray="3,1.6"/>
<rect x="29.70" y="277.88" width="2.60" height="2.60" fill="#ffffff" stroke="#e8922a" stroke-width="0.6"/>
<rect x="48.00" y="276.24" width="2.60" height="2.60" fill="#ffffff" stroke="#e8922a" stroke-width="0.6"/>
<rect x="66.30" y="263.49" width="2.60" height="2.60" fill="#ffffff" stroke="#e8922a" stroke-width="0.6"/>
<rect x="84.60" y="237.60" width="2.60" height="2.60" fill="#ffffff" stroke="#e8922a" stroke-width="0.6"/>
<rect x="102.90" y="212.12" width="2.60" height="2.60" fill="#ffffff" stroke="#e8922a" stroke-width="0.6"/>
<path d="M31.00,279.18 L49.30,278.36 L67.60,266.85 L85.90,248.77 L104.20,229.45" fill="none" stroke="#6e5030" stroke-width="1.2" stroke-dasharray="3,1.6"/>
<polygon points="29.50,278.13 32.50,278.13 31.00,280.68" fill="#ffffff" stroke="#6e5030" stroke-width="0.6"/>
<polygon points="47.80,277.31 50.80,277.31 49.30,279.86" fill="#ffffff" stroke="#6e5030" stroke-width="0.6"/>
<polygon points="66.10,265.80 69.10,265.80 67.60,268.35" fill="#ffffff" stroke="#6e5030" stroke-width="0.6"/>
<polygon points="84.40,247.72 87.40,247.72 85.90,250.27" fill="#ffffff" stroke="#6e5030" stroke-width="0.6"/>
<polygon points="102.70,228.40 105.70,228.40 104.20,230.95" fill="#ffffff" stroke="#6e5030" stroke-width="0.6"/>
<path d="M31.00,279.18 L49.30,277.95 L67.60,268.90 L85.90,251.23 L104.20,233.56" fill="none" stroke="#c4204c" stroke-width="1.2" stroke-dasharray="3,1.6"/>
<polygon points="29.50,279.18 31.00,277.68 32.50,279.18 31.00,280.68" fill="#ffffff" stroke="#c4204c" stroke-width="0.6"/>
<polygon points="47.80,277.95 49.30,276.45 50.80,277.95 49.30,279.45" fill="#ffffff" stroke="#c4204c" stroke-width="0.6"/>
<polygon points="66.10,268.90 67.60,267.40 69.10,268.90 67.60,270.40" fill="#ffffff" stroke="#c4204c" stroke-width="0.6"/>
<polygon points="84.40,251.23 85.90,249.73 87.40,251.23 85.90,252.73" fill="#ffffff" stroke="#c4204c" stroke-width="0.6"/>
<polygon points="102.70,233.56 104.20,232.06 105.70,233.56 104.20,235.06" fill="#ffffff" stroke="#c4204c" stroke-width="0.6"/>
<path d="M31.00,279.18 L49.30,280.41 L67.60,281.23 L85.90,283.70 L104.20,284.69" fill="none" stroke="#b01c3c" stroke-width="1.2"/>
<circle cx="31.00" cy="279.18" r="1.35" fill="#b01c3c" stroke="#b01c3c" stroke-width="0.6"/>
<circle cx="49.30" cy="280.41" r="1.35" fill="#b01c3c" stroke="#b01c3c" stroke-width="0.6"/>
<circle cx="67.60" cy="281.23" r="1.35" fill="#b01c3c" stroke="#b01c3c" stroke-width="0.6"/>
<circle cx="85.90" cy="283.70" r="1.35" fill="#b01c3c" stroke="#b01c3c" stroke-width="0.6"/>
<circle cx="104.20" cy="284.69" r="1.35" fill="#b01c3c" stroke="#b01c3c" stroke-width="0.6"/>
<path d="M31.00,279.18 L49.30,279.59 L67.60,280.00 L85.90,280.17 L104.20,280.17" fill="none" stroke="#6a4424" stroke-width="1.2"/>
<polygon points="29.50,278.13 32.50,278.13 31.00,280.68" fill="#6a4424" stroke="#6a4424" stroke-width="0.6"/>
<polygon points="47.80,278.54 50.80,278.54 49.30,281.09" fill="#6a4424" stroke="#6a4424" stroke-width="0.6"/>
<polygon points="66.10,278.95 69.10,278.95 67.60,281.50" fill="#6a4424" stroke="#6a4424" stroke-width="0.6"/>
<polygon points="84.40,279.12 87.40,279.12 85.90,281.67" fill="#6a4424" stroke="#6a4424" stroke-width="0.6"/>
<polygon points="102.70,279.12 105.70,279.12 104.20,281.67" fill="#6a4424" stroke="#6a4424" stroke-width="0.6"/>
<path d="M31.00,279.18 L49.30,279.59 L67.60,280.00 L85.90,280.17 L104.20,280.17" fill="none" stroke="#e08a1e" stroke-width="1.2"/>
<rect x="29.70" y="277.88" width="2.60" height="2.60" fill="#e08a1e" stroke="#e08a1e" stroke-width="0.6"/>
<rect x="48.00" y="278.29" width="2.60" height="2.60" fill="#e08a1e" stroke="#e08a1e" stroke-width="0.6"/>
<rect x="66.30" y="278.70" width="2.60" height="2.60" fill="#e08a1e" stroke="#e08a1e" stroke-width="0.6"/>
<rect x="84.60" y="278.87" width="2.60" height="2.60" fill="#e08a1e" stroke="#e08a1e" stroke-width="0.6"/>
<rect x="102.90" y="278.87" width="2.60" height="2.60" fill="#e08a1e" stroke="#e08a1e" stroke-width="0.6"/>
<path d="M31.00,279.18 L49.30,279.59 L67.60,280.00 L85.90,280.17 L104.20,280.17" fill="none" stroke="#2a3e70" stroke-width="1.2"/>
<polygon points="29.50,278.13 32.50,278.13 31.00,280.68" fill="#2a3e70" stroke="#2a3e70" stroke-width="0.6"/>
<polygon points="47.80,278.54 50.80,278.54 49.30,281.09" fill="#2a3e70" stroke="#2a3e70" stroke-width="0.6"/>
<polygon points="66.10,278.95 69.10,278.95 67.60,281.50" fill="#2a3e70" stroke="#2a3e70" stroke-width="0.6"/>
<polygon points="84.40,279.12 87.40,279.12 85.90,281.67" fill="#2a3e70" stroke="#2a3e70" stroke-width="0.6"/>
<polygon points="102.70,279.12 105.70,279.12 104.20,281.67" fill="#2a3e70" stroke="#2a3e70" stroke-width="0.6"/>
<path d="M31.00,279.18 L49.30,279.59 L67.60,280.00 L85.90,280.17 L104.20,280.17" fill="none" stroke="#1f3f8f" stroke-width="1.2"/>
<polygon points="29.50,279.18 31.00,277.68 32.50,279.18 31.00,280.68" fill="#1f3f8f" stroke="#1f3f8f" stroke-width="0.6"/>
<polygon points="47.80,279.59 49.30,278.09 50.80,279.59 49.30,281.09" fill="#1f3f8f" stroke="#1f3f8f" stroke-width="0.6"/>
<polygon points="66.10,280.00 67.60,278.50 69.10,280.00 67.60,281.50" fill="#1f3f8f" stroke="#1f3f8f" stroke-width="0.6"/>
<polygon points="84.40,280.17 85.90,278.67 87.40,280.17 85.90,281.67" fill="#1f3f8f" stroke="#1f3f8f" stroke-width="0.6"/>
<polygon points="102.70,280.17 104.20,278.67 105.70,280.17 104.20,281.67" fill="#1f3f8f" stroke="#1f3f8f" stroke-width="0.6"/>
<line x1="128.50" y1="214.10" x2="133.90" y2="214.10" stroke="#1f3f8f" stroke-width="0.8"/>
<polygon points="129.70,214.10 131.20,212.60 132.70,214.10 131.20,215.60" fill="#1f3f8f" stroke="#1f3f8f" stroke-width="0.85"/>
<text x="137.40" y="216.07" font-size="5.72" textLength="83.40" lengthAdjust="spacingAndGlyphs" fill="#2a2a2a" stroke="#2a2a2a" stroke-width="0.07" transform="rotate(0.05 137.40 214.10)">sgNT-1 GFP vs sgNT-1 RFP DMSO</text>
<line x1="128.50" y1="220.91" x2="133.90" y2="220.91" stroke="#1f4a9a" stroke-width="0.8"/>
<polygon points="129.70,220.91 131.20,219.41 132.70,220.91 131.20,222.41" fill="#ffffff" stroke="#1f4a9a" stroke-width="0.85"/>
<text x="137.40" y="222.88" font-size="5.72" textLength="109.00" lengthAdjust="spacingAndGlyphs" fill="#2a2a2a" stroke="#2a2a2a" stroke-width="0.07" transform="rotate(0.05 137.40 220.91)">sgNT-1 GFP vs sgNT-1 RFP 10 µM CC-90009</text>
<line x1="128.50" y1="227.72" x2="133.90" y2="227.72" stroke="#2a3e70" stroke-width="0.8"/>
<polygon points="129.70,226.67 132.70,226.67 131.20,229.22" fill="#2a3e70" stroke="#2a3e70" stroke-width="0.85"/>
<text x="137.40" y="229.69" font-size="5.72" textLength="84.20" lengthAdjust="spacingAndGlyphs" fill="#2a2a2a" stroke="#2a2a2a" stroke-width="0.07" transform="rotate(0.05 137.40 227.72)">sgNT-1 GFP vs sgNC-8 RFP DMSO</text>
<line x1="128.50" y1="234.53" x2="133.90" y2="234.53" stroke="#4a5a8a" stroke-width="0.8"/>
<polygon points="129.70,233.48 132.70,233.48 131.20,236.03" fill="#ffffff" stroke="#4a5a8a" stroke-width="0.85"/>
<text x="137.40" y="236.50" font-size="5.72" textLength="110.10" lengthAdjust="spacingAndGlyphs" fill="#2a2a2a" stroke="#2a2a2a" stroke-width="0.07" transform="rotate(0.05 137.40 234.53)">sgNT-1 GFP vs sgNC-8 RFP 10 µM CC-90009</text>
<line x1="128.50" y1="241.34" x2="133.90" y2="241.34" stroke="#9c1d3b" stroke-width="0.8"/>
<polygon points="129.70,241.34 131.20,239.84 132.70,241.34 131.20,242.84" fill="#9c1d3b" stroke="#9c1d3b" stroke-width="0.85"/>
<text x="137.40" y="243.31" font-size="5.72" textLength="89.50" lengthAdjust="spacingAndGlyphs" fill="#2a2a2a" stroke="#2a2a2a" stroke-width="0.07" transform="rotate(0.05 137.40 241.34)">sgNT-1 GFP vs sgTSC1-4 RFP DMSO</text>
<line x1="128.50" y1="248.15" x2="133.90" y2="248.15" stroke="#c4204c" stroke-width="0.8"/>
<polygon points="129.70,248.15 131.20,246.65 132.70,248.15 131.20,249.65" fill="#ffffff" stroke="#c4204c" stroke-width="0.85"/>
<text x="137.40" y="250.12" font-size="5.72" textLength="115.10" lengthAdjust="spacingAndGlyphs" fill="#2a2a2a" stroke="#2a2a2a" stroke-width="0.07" transform="rotate(0.05 137.40 248.15)">sgNT-1 GFP vs sgTSC1-4 RFP 10 µM CC-90009</text>
<line x1="128.50" y1="254.96" x2="133.90" y2="254.96" stroke="#e08a1e" stroke-width="0.8"/>
<polygon points="129.70,254.96 131.20,253.46 132.70,254.96 131.20,256.46" fill="#e08a1e" stroke="#e08a1e" stroke-width="0.85"/>
<text x="137.40" y="256.93" font-size="5.72" textLength="89.50" lengthAdjust="spacingAndGlyphs" fill="#2a2a2a" stroke="#2a2a2a" stroke-width="0.07" transform="rotate(0.05 137.40 254.96)">sgNT-1 GFP vs sgTSC1-6 RFP DMSO</text>
<line x1="128.50" y1="261.77" x2="133.90" y2="261.77" stroke="#e8922a" stroke-width="0.8"/>
<circle cx="131.20" cy="261.77" r="1.35" fill="#ffffff" stroke="#e8922a" stroke-width="0.85"/>
<text x="137.40" y="263.74" font-size="5.72" textLength="115.10" lengthAdjust="spacingAndGlyphs" fill="#2a2a2a" stroke="#2a2a2a" stroke-width="0.07" transform="rotate(0.05 137.40 261.77)">sgNT-1 GFP vs sgTSC1-6 RFP 10 µM CC-90009</text>
<line x1="128.50" y1="268.58" x2="133.90" y2="268.58" stroke="#6a4424" stroke-width="0.8"/>
<polygon points="129.70,267.53 132.70,267.53 131.20,270.08" fill="#6a4424" stroke="#6a4424" stroke-width="0.85"/>
<text x="137.40" y="270.55" font-size="5.72" textLength="89.50" lengthAdjust="spacingAndGlyphs" fill="#2a2a2a" stroke="#2a2a2a" stroke-width="0.07" transform="rotate(0.05 137.40 268.58)">sgNT-1 GFP vs sgTSC1-8 RFP DMSO</text>
<line x1="128.50" y1="275.39" x2="133.90" y2="275.39" stroke="#6e5030" stroke-width="0.8"/>
<polygon points="129.70,274.34 132.70,274.34 131.20,276.89" fill="#ffffff" stroke="#6e5030" stroke-width="0.85"/>
<text x="137.40" y="277.36" font-size="5.72" textLength="115.10" lengthAdjust="spacingAndGlyphs" fill="#2a2a2a" stroke="#2a2a2a" stroke-width="0.07" transform="rotate(0.05 137.40 275.39)">sgNT-1 GFP vs sgTSC1-8 RFP 10 µM CC-90009</text>
<line x1="30.80" y1="369.25" x2="30.80" y2="453.30" stroke="#231f20" stroke-width="1.4"/>
<line x1="30.10" y1="452.85" x2="114.70" y2="452.85" stroke="#231f20" stroke-width="1.5"/>
<line x1="26.80" y1="452.50" x2="30.60" y2="452.50" stroke="#231f20" stroke-width="0.7"/>
<text x="24.40" y="454.51" font-size="5.83" text-anchor="end" textLength="2.79" lengthAdjust="spacingAndGlyphs" fill="#3a3a3a" stroke="#3a3a3a" stroke-width="0.06" transform="rotate(0.05 24.40 452.50)">0</text>
<line x1="26.80" y1="425.25" x2="30.60" y2="425.25" stroke="#231f20" stroke-width="0.7"/>
<text x="24.40" y="427.26" font-size="5.83" text-anchor="end" textLength="2.79" lengthAdjust="spacingAndGlyphs" fill="#3a3a3a" stroke="#3a3a3a" stroke-width="0.06" transform="rotate(0.05 24.40 425.25)">5</text>
<line x1="26.80" y1="398.00" x2="30.60" y2="398.00" stroke="#231f20" stroke-width="0.7"/>
<text x="24.40" y="400.01" font-size="5.83" text-anchor="end" textLength="5.58" lengthAdjust="spacingAndGlyphs" fill="#3a3a3a" stroke="#3a3a3a" stroke-width="0.06" transform="rotate(0.05 24.40 398.00)">10</text>
<line x1="26.80" y1="370.75" x2="30.60" y2="370.75" stroke="#231f20" stroke-width="0.7"/>
<text x="24.40" y="372.76" font-size="5.83" text-anchor="end" textLength="5.58" lengthAdjust="spacingAndGlyphs" fill="#3a3a3a" stroke="#3a3a3a" stroke-width="0.06" transform="rotate(0.05 24.40 370.75)">15</text>
<line x1="29.10" y1="447.05" x2="30.60" y2="447.05" stroke="#231f20" stroke-width="0.45"/>
<line x1="29.10" y1="441.60" x2="30.60" y2="441.60" stroke="#231f20" stroke-width="0.45"/>
<line x1="29.10" y1="436.15" x2="30.60" y2="436.15" stroke="#231f20" stroke-width="0.45"/>
<line x1="29.10" y1="430.70" x2="30.60" y2="430.70" stroke="#231f20" stroke-width="0.45"/>
<line x1="29.10" y1="419.80" x2="30.60" y2="419.80" stroke="#231f20" stroke-width="0.45"/>
<line x1="29.10" y1="414.35" x2="30.60" y2="414.35" stroke="#231f20" stroke-width="0.45"/>
<line x1="29.10" y1="408.90" x2="30.60" y2="408.90" stroke="#231f20" stroke-width="0.45"/>
<line x1="29.10" y1="403.45" x2="30.60" y2="403.45" stroke="#231f20" stroke-width="0.45"/>
<line x1="29.10" y1="392.55" x2="30.60" y2="392.55" stroke="#231f20" stroke-width="0.45"/>
<line x1="29.10" y1="387.10" x2="30.60" y2="387.10" stroke="#231f20" stroke-width="0.45"/>
<line x1="29.10" y1="381.65" x2="30.60" y2="381.65" stroke="#231f20" stroke-width="0.45"/>
<line x1="29.10" y1="376.20" x2="30.60" y2="376.20" stroke="#231f20" stroke-width="0.45"/>
<line x1="30.80" y1="452.50" x2="30.80" y2="455.50" stroke="#231f20" stroke-width="0.8"/>
<text x="30.80" y="464.01" font-size="5.83" text-anchor="middle" textLength="2.79" lengthAdjust="spacingAndGlyphs" fill="#3a3a3a" stroke="#3a3a3a" stroke-width="0.06" transform="rotate(0.05 30.80 462.00)">0</text>
<line x1="47.20" y1="452.50" x2="47.20" y2="455.50" stroke="#231f20" stroke-width="0.8"/>
<text x="47.20" y="464.01" font-size="5.83" text-anchor="middle" textLength="2.79" lengthAdjust="spacingAndGlyphs" fill="#3a3a3a" stroke="#3a3a3a" stroke-width="0.06" transform="rotate(0.05 47.20 462.00)">2</text>
<line x1="63.60" y1="452.50" x2="63.60" y2="455.50" stroke="#231f20" stroke-width="0.8"/>
<text x="63.60" y="464.01" font-size="5.83" text-anchor="middle" textLength="2.79" lengthAdjust="spacingAndGlyphs" fill="#3a3a3a" stroke="#3a3a3a" stroke-width="0.06" transform="rotate(0.05 63.60 462.00)">4</text>
<line x1="80.00" y1="452.50" x2="80.00" y2="455.50" stroke="#231f20" stroke-width="0.8"/>
<text x="80.00" y="464.01" font-size="5.83" text-anchor="middle" textLength="2.79" lengthAdjust="spacingAndGlyphs" fill="#3a3a3a" stroke="#3a3a3a" stroke-width="0.06" transform="rotate(0.05 80.00 462.00)">6</text>
<line x1="96.40" y1="452.50" x2="96.40" y2="455.50" stroke="#231f20" stroke-width="0.8"/>
<text x="96.40" y="464.01" font-size="5.83" text-anchor="middle" textLength="2.79" lengthAdjust="spacingAndGlyphs" fill="#3a3a3a" stroke="#3a3a3a" stroke-width="0.06" transform="rotate(0.05 96.40 462.00)">8</text>
<line x1="112.80" y1="452.50" x2="112.80" y2="455.50" stroke="#231f20" stroke-width="0.8"/>
<text x="112.80" y="464.01" font-size="5.83" text-anchor="middle" textLength="5.58" lengthAdjust="spacingAndGlyphs" fill="#3a3a3a" stroke="#3a3a3a" stroke-width="0.06" transform="rotate(0.05 112.80 462.00)">10</text>
<text x="73.50" y="362.79" font-size="7.51" text-anchor="middle" textLength="37.50" lengthAdjust="spacingAndGlyphs" stroke="#231f20" stroke-width="0.06" transform="rotate(0.05 73.50 360.20)">U937 Cas9</text>
<text x="10.80" y="412.42" font-size="7.02" text-anchor="middle" textLength="64.50" lengthAdjust="spacingAndGlyphs" fill="#3a3a3a" stroke="#3a3a3a" stroke-width="0.06" transform="rotate(-89.95 10.80 410.00)">Relative %RFP+/%GFP+</text>
<text x="73.40" y="473.94" font-size="6.48" text-anchor="middle" textLength="13.10" lengthAdjust="spacingAndGlyphs" fill="#3a3a3a" stroke="#3a3a3a" stroke-width="0.06" transform="rotate(0.05 73.40 471.70)">Days</text>
<path d="M30.80,447.05 L47.20,447.05 L63.60,447.32 L80.00,447.60 L96.40,447.60" fill="none" stroke="#2f57a8" stroke-width="1.2" stroke-dasharray="3,1.6"/>
<polygon points="29.30,447.05 30.80,445.55 32.30,447.05 30.80,448.55" fill="#ffffff" stroke="#2f57a8" stroke-width="0.6"/>
<polygon points="45.70,447.05 47.20,445.55 48.70,447.05 47.20,448.55" fill="#ffffff" stroke="#2f57a8" stroke-width="0.6"/>
<polygon points="62.10,447.32 63.60,445.82 65.10,447.32 63.60,448.82" fill="#ffffff" stroke="#2f57a8" stroke-width="0.6"/>
<polygon points="78.50,447.60 80.00,446.10 81.50,447.60 80.00,449.10" fill="#ffffff" stroke="#2f57a8" stroke-width="0.6"/>
<polygon points="94.90,447.60 96.40,446.10 97.90,447.60 96.40,449.10" fill="#ffffff" stroke="#2f57a8" stroke-width="0.6"/>
<path d="M30.80,447.05 L47.20,445.96 L63.60,435.61 L80.00,419.80 L96.40,408.08" fill="none" stroke="#a89ad8" stroke-width="1.2" stroke-dasharray="3,1.6"/>
<polygon points="29.30,447.05 30.80,445.55 32.30,447.05 30.80,448.55" fill="#ffffff" stroke="#a89ad8" stroke-width="0.6"/>
<polygon points="45.70,445.96 47.20,444.46 48.70,445.96 47.20,447.46" fill="#ffffff" stroke="#a89ad8" stroke-width="0.6"/>
<polygon points="62.10,435.61 63.60,434.11 65.10,435.61 63.60,437.11" fill="#ffffff" stroke="#a89ad8" stroke-width="0.6"/>
<polygon points="78.50,419.80 80.00,418.30 81.50,419.80 80.00,421.30" fill="#ffffff" stroke="#a89ad8" stroke-width="0.6"/>
<polygon points="94.90,408.08 96.40,406.58 97.90,408.08 96.40,409.58" fill="#ffffff" stroke="#a89ad8" stroke-width="0.6"/>
<path d="M30.80,447.05 L47.20,445.69 L63.60,433.97 L80.00,419.25 L96.40,405.08" fill="none" stroke="#e0409a" stroke-width="1.2" stroke-dasharray="3,1.6"/>
<polygon points="29.30,446.00 32.30,446.00 30.80,448.55" fill="#ffffff" stroke="#e0409a" stroke-width="0.6"/>
<polygon points="45.70,444.64 48.70,444.64 47.20,447.19" fill="#ffffff" stroke="#e0409a" stroke-width="0.6"/>
<polygon points="62.10,432.92 65.10,432.92 63.60,435.47" fill="#ffffff" stroke="#e0409a" stroke-width="0.6"/>
<polygon points="78.50,418.20 81.50,418.20 80.00,420.75" fill="#ffffff" stroke="#e0409a" stroke-width="0.6"/>
<polygon points="94.90,404.03 97.90,404.03 96.40,406.58" fill="#ffffff" stroke="#e0409a" stroke-width="0.6"/>
<path d="M30.80,447.05 L47.20,445.42 L63.60,435.61 L80.00,414.89 L96.40,398.00" fill="none" stroke="#7a3a8a" stroke-width="1.2" stroke-dasharray="3,1.6"/>
<circle cx="30.80" cy="447.05" r="1.35" fill="#ffffff" stroke="#7a3a8a" stroke-width="0.6"/>
<circle cx="47.20" cy="445.42" r="1.35" fill="#ffffff" stroke="#7a3a8a" stroke-width="0.6"/>
<circle cx="63.60" cy="435.61" r="1.35" fill="#ffffff" stroke="#7a3a8a" stroke-width="0.6"/>
<circle cx="80.00" cy="414.89" r="1.35" fill="#ffffff" stroke="#7a3a8a" stroke-width="0.6"/>
<circle cx="96.40" cy="398.00" r="1.35" fill="#ffffff" stroke="#7a3a8a" stroke-width="0.6"/>
<path d="M30.80,447.05 L47.20,447.05 L63.60,446.78 L80.00,448.41 L96.40,449.23" fill="none" stroke="#6a2a6a" stroke-width="1.2"/>
<circle cx="30.80" cy="447.05" r="1.35" fill="#6a2a6a" stroke="#6a2a6a" stroke-width="0.6"/>
<circle cx="47.20" cy="447.05" r="1.35" fill="#6a2a6a" stroke="#6a2a6a" stroke-width="0.6"/>
<circle cx="63.60" cy="446.78" r="1.35" fill="#6a2a6a" stroke="#6a2a6a" stroke-width="0.6"/>
<circle cx="80.00" cy="448.41" r="1.35" fill="#6a2a6a" stroke="#6a2a6a" stroke-width="0.6"/>
<circle cx="96.40" cy="449.23" r="1.35" fill="#6a2a6a" stroke="#6a2a6a" stroke-width="0.6"/>
<path d="M30.80,447.05 L47.20,447.05 L63.60,447.32 L80.00,448.69 L96.40,449.50" fill="none" stroke="#d0208a" stroke-width="1.2"/>
<rect x="29.50" y="445.75" width="2.60" height="2.60" fill="#d0208a" stroke="#d0208a" stroke-width="0.6"/>
<rect x="45.90" y="445.75" width="2.60" height="2.60" fill="#d0208a" stroke="#d0208a" stroke-width="0.6"/>
<rect x="62.30" y="446.02" width="2.60" height="2.60" fill="#d0208a" stroke="#d0208a" stroke-width="0.6"/>
<rect x="78.70" y="447.38" width="2.60" height="2.60" fill="#d0208a" stroke="#d0208a" stroke-width="0.6"/>
<rect x="95.10" y="448.20" width="2.60" height="2.60" fill="#d0208a" stroke="#d0208a" stroke-width="0.6"/>
<path d="M30.80,447.05 L47.20,447.05 L63.60,447.32 L80.00,447.87 L96.40,448.14" fill="none" stroke="#9a8ad0" stroke-width="1.2"/>
<polygon points="29.30,447.05 30.80,445.55 32.30,447.05 30.80,448.55" fill="#9a8ad0" stroke="#9a8ad0" stroke-width="0.6"/>
<polygon points="45.70,447.05 47.20,445.55 48.70,447.05 47.20,448.55" fill="#9a8ad0" stroke="#9a8ad0" stroke-width="0.6"/>
<polygon points="62.10,447.32 63.60,445.82 65.10,447.32 63.60,448.82" fill="#9a8ad0" stroke="#9a8ad0" stroke-width="0.6"/>
<polygon points="78.50,447.87 80.00,446.37 81.50,447.87 80.00,449.37" fill="#9a8ad0" stroke="#9a8ad0" stroke-width="0.6"/>
<polygon points="94.90,448.14 96.40,446.64 97.90,448.14 96.40,449.64" fill="#9a8ad0" stroke="#9a8ad0" stroke-width="0.6"/>
<path d="M30.80,447.05 L47.20,447.32 L63.60,447.60 L80.00,447.70 L96.40,447.70" fill="none" stroke="#1f3f8f" stroke-width="1.2"/>
<polygon points="29.30,447.05 30.80,445.55 32.30,447.05 30.80,448.55" fill="#1f3f8f" stroke="#1f3f8f" stroke-width="0.6"/>
<polygon points="45.70,447.32 47.20,445.82 48.70,447.32 47.20,448.82" fill="#1f3f8f" stroke="#1f3f8f" stroke-width="0.6"/>
<polygon points="62.10,447.60 63.60,446.10 65.10,447.60 63.60,449.10" fill="#1f3f8f" stroke="#1f3f8f" stroke-width="0.6"/>
<polygon points="78.50,447.70 80.00,446.20 81.50,447.70 80.00,449.20" fill="#1f3f8f" stroke="#1f3f8f" stroke-width="0.6"/>
<polygon points="94.90,447.70 96.40,446.20 97.90,447.70 96.40,449.20" fill="#1f3f8f" stroke="#1f3f8f" stroke-width="0.6"/>
<path d="M30.80,447.05 L47.20,447.05 L63.60,447.32 L80.00,447.60 L96.40,447.60" fill="none" stroke="#3a4a70" stroke-width="1.2"/>
<polygon points="29.30,446.00 32.30,446.00 30.80,448.55" fill="#3a4a70" stroke="#3a4a70" stroke-width="0.6"/>
<polygon points="45.70,446.00 48.70,446.00 47.20,448.55" fill="#3a4a70" stroke="#3a4a70" stroke-width="0.6"/>
<polygon points="62.10,446.27 65.10,446.27 63.60,448.82" fill="#3a4a70" stroke="#3a4a70" stroke-width="0.6"/>
<polygon points="78.50,446.55 81.50,446.55 80.00,449.10" fill="#3a4a70" stroke="#3a4a70" stroke-width="0.6"/>
<polygon points="94.90,446.55 97.90,446.55 96.40,449.10" fill="#3a4a70" stroke="#3a4a70" stroke-width="0.6"/>
<line x1="118.80" y1="378.00" x2="124.20" y2="378.00" stroke="#1f3f8f" stroke-width="0.8"/>
<polygon points="120.00,378.00 121.50,376.50 123.00,378.00 121.50,379.50" fill="#1f3f8f" stroke="#1f3f8f" stroke-width="0.85"/>
<text x="126.70" y="379.97" font-size="5.72" textLength="84.50" lengthAdjust="spacingAndGlyphs" fill="#2a2a2a" stroke="#2a2a2a" stroke-width="0.07" transform="rotate(0.05 126.70 378.00)">sgNT-1 GFP vs sgNT-1 RFP DMSO</text>
<line x1="118.80" y1="385.04" x2="124.20" y2="385.04" stroke="#1f4a9a" stroke-width="0.8"/>
<polygon points="120.00,385.04 121.50,383.54 123.00,385.04 121.50,386.54" fill="#ffffff" stroke="#1f4a9a" stroke-width="0.85"/>
<text x="126.70" y="387.01" font-size="5.72" textLength="109.30" lengthAdjust="spacingAndGlyphs" fill="#2a2a2a" stroke="#2a2a2a" stroke-width="0.07" transform="rotate(0.05 126.70 385.04)">sgNT-1 GFP vs sgNT-1 RFP 10 µM CC-90009</text>
<line x1="118.80" y1="392.08" x2="124.20" y2="392.08" stroke="#3a4a70" stroke-width="0.8"/>
<polygon points="120.00,391.03 123.00,391.03 121.50,393.58" fill="#3a4a70" stroke="#3a4a70" stroke-width="0.85"/>
<text x="126.70" y="394.05" font-size="5.72" textLength="85.30" lengthAdjust="spacingAndGlyphs" fill="#2a2a2a" stroke="#2a2a2a" stroke-width="0.07" transform="rotate(0.05 126.70 392.08)">sgNT-1 GFP vs sgNC-8 RFP DMSO</text>
<line x1="118.80" y1="399.12" x2="124.20" y2="399.12" stroke="#4a5a8a" stroke-width="0.8"/>
<polygon points="120.00,398.07 123.00,398.07 121.50,400.62" fill="#ffffff" stroke="#4a5a8a" stroke-width="0.85"/>
<text x="126.70" y="401.09" font-size="5.72" textLength="110.90" lengthAdjust="spacingAndGlyphs" fill="#2a2a2a" stroke="#2a2a2a" stroke-width="0.07" transform="rotate(0.05 126.70 399.12)">sgNT-1 GFP vs sgNC-8 RFP 10 µM CC-90009</text>
<line x1="118.80" y1="406.16" x2="124.20" y2="406.16" stroke="#4a1a4a" stroke-width="0.8"/>
<ellipse cx="121.50" cy="406.16" rx="1.50" ry="1.05" fill="#4a1a4a" stroke="#4a1a4a" stroke-width="0.85"/>
<text x="126.70" y="408.13" font-size="5.72" textLength="90.10" lengthAdjust="spacingAndGlyphs" fill="#2a2a2a" stroke="#2a2a2a" stroke-width="0.07" transform="rotate(0.05 126.70 406.16)">sgNT-1 GFP vs sgTSC2-5 RFP DMSO</text>
<line x1="118.80" y1="413.20" x2="124.20" y2="413.20" stroke="#7a3a8a" stroke-width="0.8"/>
<circle cx="121.50" cy="413.20" r="1.35" fill="#ffffff" stroke="#7a3a8a" stroke-width="0.85"/>
<text x="126.70" y="415.17" font-size="5.72" textLength="115.70" lengthAdjust="spacingAndGlyphs" fill="#2a2a2a" stroke="#2a2a2a" stroke-width="0.07" transform="rotate(0.05 126.70 413.20)">sgNT-1 GFP vs sgTSC2-5 RFP 10 µM CC-90009</text>
<line x1="118.80" y1="420.24" x2="124.20" y2="420.24" stroke="#9a8ad0" stroke-width="0.8"/>
<polygon points="120.00,420.24 121.50,418.74 123.00,420.24 121.50,421.74" fill="#9a8ad0" stroke="#9a8ad0" stroke-width="0.85"/>
<text x="126.70" y="422.21" font-size="5.72" textLength="90.10" lengthAdjust="spacingAndGlyphs" fill="#2a2a2a" stroke="#2a2a2a" stroke-width="0.07" transform="rotate(0.05 126.70 420.24)">sgNT-1 GFP vs sgTSC2-6 RFP DMSO</text>
<line x1="118.80" y1="427.28" x2="124.20" y2="427.28" stroke="#9a8ad0" stroke-width="0.8"/>
<polygon points="120.00,427.28 121.50,425.78 123.00,427.28 121.50,428.78" fill="#ffffff" stroke="#9a8ad0" stroke-width="0.85"/>
<text x="126.70" y="429.25" font-size="5.72" textLength="115.70" lengthAdjust="spacingAndGlyphs" fill="#2a2a2a" stroke="#2a2a2a" stroke-width="0.07" transform="rotate(0.05 126.70 427.28)">sgNT-1 GFP vs sgTSC2-6 RFP 10 µM CC-90009</text>
<line x1="118.80" y1="434.32" x2="124.20" y2="434.32" stroke="#d0208a" stroke-width="0.8"/>
<ellipse cx="121.50" cy="434.32" rx="1.50" ry="1.05" fill="#d0208a" stroke="#d0208a" stroke-width="0.85"/>
<text x="126.70" y="436.29" font-size="5.72" textLength="90.10" lengthAdjust="spacingAndGlyphs" fill="#2a2a2a" stroke="#2a2a2a" stroke-width="0.07" transform="rotate(0.05 126.70 434.32)">sgNT-1 GFP vs sgTSC2-8 RFP DMSO</text>
<line x1="118.80" y1="441.36" x2="124.20" y2="441.36" stroke="#e0409a" stroke-width="0.8"/>
<polygon points="120.00,440.31 123.00,440.31 121.50,442.86" fill="#ffffff" stroke="#e0409a" stroke-width="0.85"/>
<text x="126.70" y="443.33" font-size="5.72" textLength="115.70" lengthAdjust="spacingAndGlyphs" fill="#2a2a2a" stroke="#2a2a2a" stroke-width="0.07" transform="rotate(0.05 126.70 441.36)">sgNT-1 GFP vs sgTSC2-8 RFP 10 µM CC-90009</text>
<line x1="321.00" y1="42.30" x2="339.50" y2="42.30" stroke="#1a1a1a" stroke-width="1.3"/>
<text x="328.30" y="38.54" font-size="5.62" textLength="22.30" lengthAdjust="spacingAndGlyphs" stroke="#231f20" stroke-width="0.06" transform="rotate(-38.45 328.30 36.60)">Parental</text>
<line x1="343.70" y1="42.30" x2="362.50" y2="42.30" stroke="#1a1a1a" stroke-width="1.3"/>
<text x="352.20" y="38.54" font-size="5.62" textLength="17.40" lengthAdjust="spacingAndGlyphs" stroke="#231f20" stroke-width="0.06" transform="rotate(-38.45 352.20 36.60)">sgNT-1</text>
<line x1="367.00" y1="42.30" x2="385.70" y2="42.30" stroke="#1a1a1a" stroke-width="1.3"/>
<text x="375.30" y="38.54" font-size="5.62" textLength="19.30" lengthAdjust="spacingAndGlyphs" stroke="#231f20" stroke-width="0.06" transform="rotate(-38.45 375.30 36.60)">sgNC-8</text>
<line x1="390.20" y1="42.30" x2="408.30" y2="42.30" stroke="#1a1a1a" stroke-width="1.3"/>
<text x="398.90" y="38.54" font-size="5.62" textLength="23.30" lengthAdjust="spacingAndGlyphs" stroke="#231f20" stroke-width="0.06" transform="rotate(-38.45 398.90 36.60)">sgTSC1-6</text>
<line x1="412.30" y1="42.30" x2="430.30" y2="42.30" stroke="#1a1a1a" stroke-width="1.3"/>
<text x="420.10" y="38.54" font-size="5.62" textLength="24.00" lengthAdjust="spacingAndGlyphs" stroke="#231f20" stroke-width="0.06" transform="rotate(-38.45 420.10 36.60)">sgTSC1-8</text>
<line x1="435.20" y1="42.30" x2="453.20" y2="42.30" stroke="#1a1a1a" stroke-width="1.3"/>
<text x="444.10" y="38.54" font-size="5.62" textLength="21.90" lengthAdjust="spacingAndGlyphs" stroke="#231f20" stroke-width="0.06" transform="rotate(-38.45 444.10 36.60)">sgTSC2-4</text>
<line x1="460.00" y1="42.30" x2="477.50" y2="42.30" stroke="#1a1a1a" stroke-width="1.3"/>
<text x="467.20" y="38.54" font-size="5.62" textLength="23.50" lengthAdjust="spacingAndGlyphs" stroke="#231f20" stroke-width="0.06" transform="rotate(-38.45 467.20 36.60)">sgTSC2.5</text>
<text x="280.50" y="49.89" font-size="6.05" textLength="15.60" lengthAdjust="spacingAndGlyphs" stroke="#231f20" stroke-width="0.06" transform="rotate(0.05 280.50 47.80)">DMSO</text>
<text x="280.50" y="59.09" font-size="6.05" textLength="37.50" lengthAdjust="spacingAndGlyphs" stroke="#231f20" stroke-width="0.06" transform="rotate(0.05 280.50 57.00)">CC-90009 (µM)</text>
<text x="322.20" y="50.31" font-size="5.83" text-anchor="middle" textLength="2.93" lengthAdjust="spacingAndGlyphs" stroke="#231f20" stroke-width="0.2" transform="rotate(0.05 322.20 48.30)">+</text>
<text x="322.20" y="59.09" font-size="6.05" text-anchor="middle" textLength="1.85" lengthAdjust="spacingAndGlyphs" stroke="#231f20" stroke-width="0.06" transform="rotate(0.05 322.20 57.00)">-</text>
<text x="329.90" y="50.31" font-size="5.83" text-anchor="middle" textLength="1.67" lengthAdjust="spacingAndGlyphs" stroke="#231f20" stroke-width="0.2" transform="rotate(0.05 329.90 48.30)">-</text>
<text x="329.90" y="59.09" font-size="6.05" text-anchor="middle" textLength="3.09" lengthAdjust="spacingAndGlyphs" stroke="#231f20" stroke-width="0.06" transform="rotate(0.05 329.90 57.00)">1</text>
<text x="337.60" y="50.31" font-size="5.83" text-anchor="middle" textLength="1.67" lengthAdjust="spacingAndGlyphs" stroke="#231f20" stroke-width="0.2" transform="rotate(0.05 337.60 48.30)">-</text>
<text x="337.60" y="59.09" font-size="6.05" text-anchor="middle" textLength="6.19" lengthAdjust="spacingAndGlyphs" stroke="#231f20" stroke-width="0.06" transform="rotate(0.05 337.60 57.00)">10</text>
<text x="345.30" y="50.31" font-size="5.83" text-anchor="middle" textLength="2.93" lengthAdjust="spacingAndGlyphs" stroke="#231f20" stroke-width="0.2" transform="rotate(0.05 345.30 48.30)">+</text>
<text x="345.30" y="59.09" font-size="6.05" text-anchor="middle" textLength="1.85" lengthAdjust="spacingAndGlyphs" stroke="#231f20" stroke-width="0.06" transform="rotate(0.05 345.30 57.00)">-</text>
<text x="353.00" y="50.31" font-size="5.83" text-anchor="middle" textLength="1.67" lengthAdjust="spacingAndGlyphs" stroke="#231f20" stroke-width="0.2" transform="rotate(0.05 353.00 48.30)">-</text>
<text x="353.00" y="59.09" font-size="6.05" text-anchor="middle" textLength="3.09" lengthAdjust="spacingAndGlyphs" stroke="#231f20" stroke-width="0.06" transform="rotate(0.05 353.00 57.00)">1</text>
<text x="360.70" y="50.31" font-size="5.83" text-anchor="middle" textLength="1.67" lengthAdjust="spacingAndGlyphs" stroke="#231f20" stroke-width="0.2" transform="rotate(0.05 360.70 48.30)">-</text>
<text x="360.70" y="59.09" font-size="6.05" text-anchor="middle" textLength="6.19" lengthAdjust="spacingAndGlyphs" stroke="#231f20" stroke-width="0.06" transform="rotate(0.05 360.70 57.00)">10</text>
<text x="368.40" y="50.31" font-size="5.83" text-anchor="middle" textLength="2.93" lengthAdjust="spacingAndGlyphs" stroke="#231f20" stroke-width="0.2" transform="rotate(0.05 368.40 48.30)">+</text>
<text x="368.40" y="59.09" font-size="6.05" text-anchor="middle" textLength="1.85" lengthAdjust="spacingAndGlyphs" stroke="#231f20" stroke-width="0.06" transform="rotate(0.05 368.40 57.00)">-</text>
<text x="376.10" y="50.31" font-size="5.83" text-anchor="middle" textLength="1.67" lengthAdjust="spacingAndGlyphs" stroke="#231f20" stroke-width="0.2" transform="rotate(0.05 376.10 48.30)">-</text>
<text x="376.10" y="59.09" font-size="6.05" text-anchor="middle" textLength="3.09" lengthAdjust="spacingAndGlyphs" stroke="#231f20" stroke-width="0.06" transform="rotate(0.05 376.10 57.00)">1</text>
<text x="383.80" y="50.31" font-size="5.83" text-anchor="middle" textLength="1.67" lengthAdjust="spacingAndGlyphs" stroke="#231f20" stroke-width="0.2" transform="rotate(0.05 383.80 48.30)">-</text>
<text x="383.80" y="59.09" font-size="6.05" text-anchor="middle" textLength="6.19" lengthAdjust="spacingAndGlyphs" stroke="#231f20" stroke-width="0.06" transform="rotate(0.05 383.80 57.00)">10</text>
<text x="392.80" y="50.31" font-size="5.83" text-anchor="middle" textLength="2.93" lengthAdjust="spacingAndGlyphs" stroke="#231f20" stroke-width="0.2" transform="rotate(0.05 392.80 48.30)">+</text>
<text x="392.80" y="59.09" font-size="6.05" text-anchor="middle" textLength="3.25" lengthAdjust="spacingAndGlyphs" stroke="#231f20" stroke-width="0.06" transform="rotate(0.05 392.80 57.00)">+</text>
<text x="400.50" y="50.31" font-size="5.83" text-anchor="middle" textLength="1.67" lengthAdjust="spacingAndGlyphs" stroke="#231f20" stroke-width="0.2" transform="rotate(0.05 400.50 48.30)">-</text>
<text x="400.50" y="59.09" font-size="6.05" text-anchor="middle" textLength="3.09" lengthAdjust="spacingAndGlyphs" stroke="#231f20" stroke-width="0.06" transform="rotate(0.05 400.50 57.00)">1</text>
<text x="408.20" y="50.31" font-size="5.83" text-anchor="middle" textLength="1.67" lengthAdjust="spacingAndGlyphs" stroke="#231f20" stroke-width="0.2" transform="rotate(0.05 408.20 48.30)">-</text>
<text x="408.20" y="59.09" font-size="6.05" text-anchor="middle" textLength="6.19" lengthAdjust="spacingAndGlyphs" stroke="#231f20" stroke-width="0.06" transform="rotate(0.05 408.20 57.00)">10</text>
<text x="414.60" y="50.31" font-size="5.83" text-anchor="middle" textLength="2.93" lengthAdjust="spacingAndGlyphs" stroke="#231f20" stroke-width="0.2" transform="rotate(0.05 414.60 48.30)">+</text>
<text x="414.60" y="59.09" font-size="6.05" text-anchor="middle" textLength="1.85" lengthAdjust="spacingAndGlyphs" stroke="#231f20" stroke-width="0.06" transform="rotate(0.05 414.60 57.00)">-</text>
<text x="422.30" y="50.31" font-size="5.83" text-anchor="middle" textLength="1.67" lengthAdjust="spacingAndGlyphs" stroke="#231f20" stroke-width="0.2" transform="rotate(0.05 422.30 48.30)">-</text>
<text x="422.30" y="59.09" font-size="6.05" text-anchor="middle" textLength="3.09" lengthAdjust="spacingAndGlyphs" stroke="#231f20" stroke-width="0.06" transform="rotate(0.05 422.30 57.00)">1</text>
<text x="430.00" y="50.31" font-size="5.83" text-anchor="middle" textLength="1.67" lengthAdjust="spacingAndGlyphs" stroke="#231f20" stroke-width="0.2" transform="rotate(0.05 430.00 48.30)">-</text>
<text x="430.00" y="59.09" font-size="6.05" text-anchor="middle" textLength="6.19" lengthAdjust="spacingAndGlyphs" stroke="#231f20" stroke-width="0.06" transform="rotate(0.05 430.00 57.00)">10</text>
<text x="437.70" y="50.31" font-size="5.83" text-anchor="middle" textLength="2.93" lengthAdjust="spacingAndGlyphs" stroke="#231f20" stroke-width="0.2" transform="rotate(0.05 437.70 48.30)">+</text>
<text x="437.70" y="59.09" font-size="6.05" text-anchor="middle" textLength="1.85" lengthAdjust="spacingAndGlyphs" stroke="#231f20" stroke-width="0.06" transform="rotate(0.05 437.70 57.00)">-</text>
<text x="445.40" y="50.31" font-size="5.83" text-anchor="middle" textLength="1.67" lengthAdjust="spacingAndGlyphs" stroke="#231f20" stroke-width="0.2" transform="rotate(0.05 445.40 48.30)">-</text>
<text x="445.40" y="59.09" font-size="6.05" text-anchor="middle" textLength="3.09" lengthAdjust="spacingAndGlyphs" stroke="#231f20" stroke-width="0.06" transform="rotate(0.05 445.40 57.00)">1</text>
<text x="453.10" y="50.31" font-size="5.83" text-anchor="middle" textLength="1.67" lengthAdjust="spacingAndGlyphs" stroke="#231f20" stroke-width="0.2" transform="rotate(0.05 453.10 48.30)">-</text>
<text x="453.10" y="59.09" font-size="6.05" text-anchor="middle" textLength="6.19" lengthAdjust="spacingAndGlyphs" stroke="#231f20" stroke-width="0.06" transform="rotate(0.05 453.10 57.00)">10</text>
<text x="460.80" y="50.31" font-size="5.83" text-anchor="middle" textLength="2.93" lengthAdjust="spacingAndGlyphs" stroke="#231f20" stroke-width="0.2" transform="rotate(0.05 460.80 48.30)">+</text>
<text x="460.80" y="59.09" font-size="6.05" text-anchor="middle" textLength="1.85" lengthAdjust="spacingAndGlyphs" stroke="#231f20" stroke-width="0.06" transform="rotate(0.05 460.80 57.00)">-</text>
<text x="468.50" y="50.31" font-size="5.83" text-anchor="middle" textLength="1.67" lengthAdjust="spacingAndGlyphs" stroke="#231f20" stroke-width="0.2" transform="rotate(0.05 468.50 48.30)">-</text>
<text x="468.50" y="59.09" font-size="6.05" text-anchor="middle" textLength="3.09" lengthAdjust="spacingAndGlyphs" stroke="#231f20" stroke-width="0.06" transform="rotate(0.05 468.50 57.00)">1</text>
<text x="476.20" y="50.31" font-size="5.83" text-anchor="middle" textLength="1.67" lengthAdjust="spacingAndGlyphs" stroke="#231f20" stroke-width="0.2" transform="rotate(0.05 476.20 48.30)">-</text>
<text x="476.20" y="59.09" font-size="6.05" text-anchor="middle" textLength="6.19" lengthAdjust="spacingAndGlyphs" stroke="#231f20" stroke-width="0.06" transform="rotate(0.05 476.20 57.00)">10</text>
<text x="483.00" y="54.31" font-size="5.83" textLength="17.60" lengthAdjust="spacingAndGlyphs" stroke="#231f20" stroke-width="0.06" transform="rotate(0.05 483.00 52.30)">(18 hrs)</text>
<rect x="319.00" y="62.20" width="160.80" height="11.70" fill="#b8b8b8"/>
<rect x="388.70" y="62.20" width="91.10" height="11.70" fill="#c6c6c6"/>
<g filter="url(#bl)">
<rect x="319.20" y="67.70" width="6.00" height="1.60" rx="0.80" fill="#262626"/>
<rect x="326.90" y="67.70" width="6.00" height="1.60" rx="0.80" fill="#262626"/>
<rect x="334.60" y="67.70" width="6.00" height="1.60" rx="0.80" fill="#262626"/>
<rect x="342.30" y="67.70" width="6.00" height="1.60" rx="0.80" fill="#262626"/>
<rect x="350.00" y="67.70" width="6.00" height="1.60" rx="0.80" fill="#262626"/>
<rect x="357.70" y="67.70" width="6.00" height="1.60" rx="0.80" fill="#262626"/>
<rect x="365.40" y="67.70" width="6.00" height="1.60" rx="0.80" fill="#626262"/>
<rect x="373.10" y="67.70" width="6.00" height="1.60" rx="0.80" fill="#626262"/>
<rect x="380.80" y="67.70" width="6.00" height="1.60" rx="0.80" fill="#626262"/>
<rect x="319.20" y="70.90" width="6.00" height="1.40" rx="0.70" fill="#7c7c7c"/>
<rect x="326.90" y="70.90" width="6.00" height="1.40" rx="0.70" fill="#7c7c7c"/>
<rect x="334.60" y="70.90" width="6.00" height="1.40" rx="0.70" fill="#7c7c7c"/>
<rect x="342.30" y="70.90" width="6.00" height="1.40" rx="0.70" fill="#7c7c7c"/>
<rect x="350.00" y="70.90" width="6.00" height="1.40" rx="0.70" fill="#7c7c7c"/>
<rect x="357.70" y="70.90" width="6.00" height="1.40" rx="0.70" fill="#7c7c7c"/>
<rect x="365.40" y="70.90" width="6.00" height="1.40" rx="0.70" fill="#969696"/>
<rect x="373.10" y="70.90" width="6.00" height="1.40" rx="0.70" fill="#969696"/>
<rect x="380.80" y="70.90" width="6.00" height="1.40" rx="0.70" fill="#969696"/>
<rect x="434.70" y="65.45" width="6.00" height="1.50" rx="0.75" fill="#565656"/>
<rect x="442.40" y="65.45" width="6.00" height="1.50" rx="0.75" fill="#313131"/>
<rect x="450.10" y="65.45" width="6.00" height="1.50" rx="0.75" fill="#565656"/>
<rect x="457.80" y="65.45" width="6.00" height="1.50" rx="0.75" fill="#4d4d4d"/>
<rect x="465.50" y="65.45" width="6.00" height="1.50" rx="0.75" fill="#444444"/>
<rect x="473.20" y="65.45" width="6.00" height="1.50" rx="0.75" fill="#444444"/>
<rect x="434.70" y="69.85" width="6.00" height="1.50" rx="0.75" fill="#9d9d9d"/>
<rect x="442.40" y="69.85" width="6.00" height="1.50" rx="0.75" fill="#9d9d9d"/>
<rect x="450.10" y="69.85" width="6.00" height="1.50" rx="0.75" fill="#9d9d9d"/>
<rect x="457.80" y="69.85" width="6.00" height="1.50" rx="0.75" fill="#9d9d9d"/>
<rect x="465.50" y="69.85" width="6.00" height="1.50" rx="0.75" fill="#9d9d9d"/>
<rect x="473.20" y="69.85" width="6.00" height="1.50" rx="0.75" fill="#9d9d9d"/>
</g>
<line x1="342.00" y1="62.20" x2="342.00" y2="73.90" stroke="#707070" stroke-width="0.35"/>
<line x1="365.20" y1="62.20" x2="365.20" y2="73.90" stroke="#707070" stroke-width="0.35"/>
<line x1="388.70" y1="62.20" x2="388.70" y2="73.90" stroke="#707070" stroke-width="0.35"/>
<line x1="410.90" y1="62.20" x2="410.90" y2="73.90" stroke="#707070" stroke-width="0.35"/>
<line x1="433.80" y1="62.20" x2="433.80" y2="73.90" stroke="#707070" stroke-width="0.35"/>
<line x1="457.10" y1="62.20" x2="457.10" y2="73.90" stroke="#707070" stroke-width="0.35"/>
<rect x="319.00" y="75.20" width="160.80" height="8.60" fill="#b3b3b3"/>
<rect x="388.70" y="75.20" width="91.10" height="8.60" fill="#bdbdbd"/>
<g filter="url(#bl)">
<rect x="319.20" y="78.80" width="6.00" height="1.80" rx="0.90" fill="#3e3e3e"/>
<rect x="326.90" y="78.80" width="6.00" height="1.80" rx="0.90" fill="#363636"/>
<rect x="334.60" y="78.80" width="6.00" height="1.80" rx="0.90" fill="#252525"/>
<rect x="342.30" y="78.80" width="6.00" height="1.80" rx="0.90" fill="#1d1d1d"/>
<rect x="350.00" y="78.80" width="6.00" height="1.80" rx="0.90" fill="#252525"/>
<rect x="357.70" y="78.80" width="6.00" height="1.80" rx="0.90" fill="#2d2d2d"/>
<rect x="365.40" y="78.80" width="6.00" height="1.80" rx="0.90" fill="#2d2d2d"/>
<rect x="373.10" y="78.80" width="6.00" height="1.80" rx="0.90" fill="#2d2d2d"/>
<rect x="380.80" y="78.80" width="6.00" height="1.80" rx="0.90" fill="#2d2d2d"/>
<rect x="388.50" y="78.80" width="6.00" height="1.80" rx="0.90" fill="#888888"/>
<rect x="396.20" y="78.80" width="6.00" height="1.80" rx="0.90" fill="#7f7f7f"/>
<rect x="403.90" y="78.80" width="6.00" height="1.80" rx="0.90" fill="#7f7f7f"/>
<rect x="411.60" y="78.80" width="6.00" height="1.80" rx="0.90" fill="#7f7f7f"/>
<rect x="419.30" y="78.80" width="6.00" height="1.80" rx="0.90" fill="#6d6d6d"/>
<rect x="427.00" y="78.80" width="6.00" height="1.80" rx="0.90" fill="#646464"/>
<rect x="434.70" y="78.80" width="6.00" height="1.80" rx="0.90" fill="#888888"/>
<rect x="442.40" y="78.80" width="6.00" height="1.80" rx="0.90" fill="#7f7f7f"/>
<rect x="450.10" y="78.80" width="6.00" height="1.80" rx="0.90" fill="#7f7f7f"/>
<rect x="457.80" y="78.80" width="6.00" height="1.80" rx="0.90" fill="#888888"/>
<rect x="465.50" y="78.80" width="6.00" height="1.80" rx="0.90" fill="#888888"/>
<rect x="473.20" y="78.80" width="6.00" height="1.80" rx="0.90" fill="#888888"/>
</g>
<line x1="342.00" y1="75.20" x2="342.00" y2="83.80" stroke="#707070" stroke-width="0.35"/>
<line x1="365.20" y1="75.20" x2="365.20" y2="83.80" stroke="#707070" stroke-width="0.35"/>
<line x1="388.70" y1="75.20" x2="388.70" y2="83.80" stroke="#707070" stroke-width="0.35"/>
<line x1="410.90" y1="75.20" x2="410.90" y2="83.80" stroke="#707070" stroke-width="0.35"/>
<line x1="433.80" y1="75.20" x2="433.80" y2="83.80" stroke="#707070" stroke-width="0.35"/>
<line x1="457.10" y1="75.20" x2="457.10" y2="83.80" stroke="#707070" stroke-width="0.35"/>
<rect x="319.00" y="85.60" width="160.80" height="9.40" fill="#c6c6c6"/>
<g filter="url(#bl)">
<rect x="319.00" y="88.00" width="6.40" height="4.60" rx="1.20" fill="#0c0c0c"/>
<rect x="326.70" y="88.90" width="6.40" height="2.80" rx="1.20" fill="#727272"/>
<rect x="334.40" y="88.90" width="6.40" height="2.80" rx="1.20" fill="#858585"/>
<rect x="342.10" y="88.00" width="6.40" height="4.60" rx="1.20" fill="#0c0c0c"/>
<rect x="349.80" y="88.90" width="6.40" height="2.80" rx="1.20" fill="#565656"/>
<rect x="357.50" y="88.90" width="6.40" height="2.80" rx="1.20" fill="#858585"/>
<rect x="365.20" y="88.00" width="6.40" height="4.60" rx="1.20" fill="#0c0c0c"/>
<rect x="372.90" y="88.90" width="6.40" height="2.80" rx="1.20" fill="#727272"/>
<rect x="380.60" y="88.90" width="6.40" height="2.80" rx="1.20" fill="#8e8e8e"/>
<rect x="388.30" y="88.00" width="6.40" height="4.60" rx="1.20" fill="#0c0c0c"/>
<rect x="396.00" y="88.90" width="6.40" height="2.80" rx="1.20" fill="#3a3a3a"/>
<rect x="403.70" y="88.90" width="6.40" height="2.80" rx="1.20" fill="#3a3a3a"/>
<rect x="411.40" y="88.00" width="6.40" height="4.60" rx="1.20" fill="#0c0c0c"/>
<rect x="419.10" y="88.90" width="6.40" height="2.80" rx="1.20" fill="#3a3a3a"/>
<rect x="426.80" y="88.90" width="6.40" height="2.80" rx="1.20" fill="#444444"/>
<rect x="434.50" y="88.00" width="6.40" height="4.60" rx="1.20" fill="#0c0c0c"/>
<rect x="442.20" y="88.90" width="6.40" height="2.80" rx="1.20" fill="#282828"/>
<rect x="449.90" y="88.90" width="6.40" height="2.80" rx="1.20" fill="#3a3a3a"/>
<rect x="457.60" y="88.00" width="6.40" height="4.60" rx="1.20" fill="#0c0c0c"/>
<rect x="465.30" y="88.90" width="6.40" height="2.80" rx="1.20" fill="#282828"/>
<rect x="473.00" y="88.90" width="6.40" height="2.80" rx="1.20" fill="#565656"/>
</g>
<line x1="342.00" y1="85.60" x2="342.00" y2="95.00" stroke="#707070" stroke-width="0.35"/>
<line x1="365.20" y1="85.60" x2="365.20" y2="95.00" stroke="#707070" stroke-width="0.35"/>
<line x1="388.70" y1="85.60" x2="388.70" y2="95.00" stroke="#707070" stroke-width="0.35"/>
<line x1="410.90" y1="85.60" x2="410.90" y2="95.00" stroke="#707070" stroke-width="0.35"/>
<line x1="433.80" y1="85.60" x2="433.80" y2="95.00" stroke="#707070" stroke-width="0.35"/>
<line x1="457.10" y1="85.60" x2="457.10" y2="95.00" stroke="#707070" stroke-width="0.35"/>
<rect x="319.00" y="96.40" width="160.80" height="9.00" fill="#9a9a9a"/>
<g filter="url(#bl)">
<rect x="319.00" y="98.55" width="6.40" height="1.70" rx="0.85" fill="#535353"/>
<rect x="326.70" y="98.55" width="6.40" height="1.70" rx="0.85" fill="#535353"/>
<rect x="334.40" y="98.55" width="6.40" height="1.70" rx="0.85" fill="#535353"/>
<rect x="342.10" y="98.55" width="6.40" height="1.70" rx="0.85" fill="#535353"/>
<rect x="349.80" y="98.55" width="6.40" height="1.70" rx="0.85" fill="#535353"/>
<rect x="357.50" y="98.55" width="6.40" height="1.70" rx="0.85" fill="#535353"/>
<rect x="365.20" y="98.55" width="6.40" height="1.70" rx="0.85" fill="#535353"/>
<rect x="372.90" y="98.55" width="6.40" height="1.70" rx="0.85" fill="#535353"/>
<rect x="380.60" y="98.55" width="6.40" height="1.70" rx="0.85" fill="#535353"/>
<rect x="388.30" y="98.55" width="6.40" height="1.70" rx="0.85" fill="#303030"/>
<rect x="396.00" y="98.55" width="6.40" height="1.70" rx="0.85" fill="#303030"/>
<rect x="403.70" y="98.55" width="6.40" height="1.70" rx="0.85" fill="#303030"/>
<rect x="411.40" y="98.55" width="6.40" height="1.70" rx="0.85" fill="#303030"/>
<rect x="419.10" y="98.55" width="6.40" height="1.70" rx="0.85" fill="#303030"/>
<rect x="426.80" y="98.55" width="6.40" height="1.70" rx="0.85" fill="#303030"/>
<rect x="434.50" y="98.55" width="6.40" height="1.70" rx="0.85" fill="#303030"/>
<rect x="442.20" y="98.55" width="6.40" height="1.70" rx="0.85" fill="#303030"/>
<rect x="449.90" y="98.55" width="6.40" height="1.70" rx="0.85" fill="#303030"/>
<rect x="457.60" y="98.55" width="6.40" height="1.70" rx="0.85" fill="#303030"/>
<rect x="465.30" y="98.55" width="6.40" height="1.70" rx="0.85" fill="#303030"/>
<rect x="473.00" y="98.55" width="6.40" height="1.70" rx="0.85" fill="#303030"/>
<rect x="319.00" y="101.30" width="6.40" height="2.00" rx="1.00" fill="#3e3e3e"/>
<rect x="326.70" y="101.30" width="6.40" height="2.00" rx="1.00" fill="#3e3e3e"/>
<rect x="334.40" y="101.30" width="6.40" height="2.00" rx="1.00" fill="#3e3e3e"/>
<rect x="342.10" y="101.30" width="6.40" height="2.00" rx="1.00" fill="#3e3e3e"/>
<rect x="349.80" y="101.30" width="6.40" height="2.00" rx="1.00" fill="#454545"/>
<rect x="357.50" y="101.30" width="6.40" height="2.00" rx="1.00" fill="#454545"/>
<rect x="365.20" y="101.30" width="6.40" height="2.00" rx="1.00" fill="#454545"/>
<rect x="372.90" y="101.30" width="6.40" height="2.00" rx="1.00" fill="#4c4c4c"/>
<rect x="380.60" y="101.30" width="6.40" height="2.00" rx="1.00" fill="#616161"/>
<rect x="388.30" y="101.30" width="6.40" height="2.00" rx="1.00" fill="#171717"/>
<rect x="396.00" y="101.30" width="6.40" height="2.00" rx="1.00" fill="#171717"/>
<rect x="403.70" y="101.30" width="6.40" height="2.00" rx="1.00" fill="#171717"/>
<rect x="411.40" y="101.30" width="6.40" height="2.00" rx="1.00" fill="#171717"/>
<rect x="419.10" y="101.30" width="6.40" height="2.00" rx="1.00" fill="#171717"/>
<rect x="426.80" y="101.30" width="6.40" height="2.00" rx="1.00" fill="#171717"/>
<rect x="434.50" y="101.30" width="6.40" height="2.00" rx="1.00" fill="#171717"/>
<rect x="442.20" y="101.30" width="6.40" height="2.00" rx="1.00" fill="#171717"/>
<rect x="449.90" y="101.30" width="6.40" height="2.00" rx="1.00" fill="#171717"/>
<rect x="457.60" y="101.30" width="6.40" height="2.00" rx="1.00" fill="#171717"/>
<rect x="465.30" y="101.30" width="6.40" height="2.00" rx="1.00" fill="#171717"/>
<rect x="473.00" y="101.30" width="6.40" height="2.00" rx="1.00" fill="#171717"/>
</g>
<line x1="342.00" y1="96.40" x2="342.00" y2="105.40" stroke="#707070" stroke-width="0.35"/>
<line x1="365.20" y1="96.40" x2="365.20" y2="105.40" stroke="#707070" stroke-width="0.35"/>
<line x1="388.70" y1="96.40" x2="388.70" y2="105.40" stroke="#707070" stroke-width="0.35"/>
<line x1="410.90" y1="96.40" x2="410.90" y2="105.40" stroke="#707070" stroke-width="0.35"/>
<line x1="433.80" y1="96.40" x2="433.80" y2="105.40" stroke="#707070" stroke-width="0.35"/>
<line x1="457.10" y1="96.40" x2="457.10" y2="105.40" stroke="#707070" stroke-width="0.35"/>
<rect x="319.00" y="107.20" width="160.80" height="8.10" fill="#bebebe"/>
<g filter="url(#bl)">
<rect x="318.80" y="108.70" width="6.80" height="1.60" rx="0.80" fill="#414141"/>
<rect x="326.50" y="108.70" width="6.80" height="1.60" rx="0.80" fill="#414141"/>
<rect x="334.20" y="108.70" width="6.80" height="1.60" rx="0.80" fill="#414141"/>
<rect x="341.90" y="108.70" width="6.80" height="1.60" rx="0.80" fill="#414141"/>
<rect x="349.60" y="108.70" width="6.80" height="1.60" rx="0.80" fill="#414141"/>
<rect x="357.30" y="108.70" width="6.80" height="1.60" rx="0.80" fill="#414141"/>
<rect x="365.00" y="108.70" width="6.80" height="1.60" rx="0.80" fill="#414141"/>
<rect x="372.70" y="108.70" width="6.80" height="1.60" rx="0.80" fill="#414141"/>
<rect x="380.40" y="108.70" width="6.80" height="1.60" rx="0.80" fill="#414141"/>
<rect x="388.10" y="108.70" width="6.80" height="1.60" rx="0.80" fill="#414141"/>
<rect x="395.80" y="108.70" width="6.80" height="1.60" rx="0.80" fill="#414141"/>
<rect x="403.50" y="108.70" width="6.80" height="1.60" rx="0.80" fill="#414141"/>
<rect x="411.20" y="108.70" width="6.80" height="1.60" rx="0.80" fill="#414141"/>
<rect x="418.90" y="108.70" width="6.80" height="1.60" rx="0.80" fill="#414141"/>
<rect x="426.60" y="108.70" width="6.80" height="1.60" rx="0.80" fill="#414141"/>
<rect x="434.30" y="108.70" width="6.80" height="1.60" rx="0.80" fill="#414141"/>
<rect x="442.00" y="108.70" width="6.80" height="1.60" rx="0.80" fill="#414141"/>
<rect x="449.70" y="108.70" width="6.80" height="1.60" rx="0.80" fill="#414141"/>
<rect x="457.40" y="108.70" width="6.80" height="1.60" rx="0.80" fill="#414141"/>
<rect x="465.10" y="108.70" width="6.80" height="1.60" rx="0.80" fill="#414141"/>
<rect x="472.80" y="108.70" width="6.80" height="1.60" rx="0.80" fill="#414141"/>
<rect x="318.80" y="111.10" width="6.80" height="3.00" rx="1.20" fill="#0c0c0c"/>
<rect x="326.50" y="111.10" width="6.80" height="3.00" rx="1.20" fill="#0c0c0c"/>
<rect x="334.20" y="111.10" width="6.80" height="3.00" rx="1.20" fill="#0c0c0c"/>
<rect x="341.90" y="111.10" width="6.80" height="3.00" rx="1.20" fill="#0c0c0c"/>
<rect x="349.60" y="111.10" width="6.80" height="3.00" rx="1.20" fill="#0c0c0c"/>
<rect x="357.30" y="111.10" width="6.80" height="3.00" rx="1.20" fill="#0c0c0c"/>
<rect x="365.00" y="111.10" width="6.80" height="3.00" rx="1.20" fill="#0c0c0c"/>
<rect x="372.70" y="111.10" width="6.80" height="3.00" rx="1.20" fill="#0c0c0c"/>
<rect x="380.40" y="111.10" width="6.80" height="3.00" rx="1.20" fill="#0c0c0c"/>
<rect x="388.10" y="111.10" width="6.80" height="3.00" rx="1.20" fill="#0c0c0c"/>
<rect x="395.80" y="111.10" width="6.80" height="3.00" rx="1.20" fill="#0c0c0c"/>
<rect x="403.50" y="111.10" width="6.80" height="3.00" rx="1.20" fill="#0c0c0c"/>
<rect x="411.20" y="111.10" width="6.80" height="3.00" rx="1.20" fill="#0c0c0c"/>
<rect x="418.90" y="111.10" width="6.80" height="3.00" rx="1.20" fill="#0c0c0c"/>
<rect x="426.60" y="111.10" width="6.80" height="3.00" rx="1.20" fill="#0c0c0c"/>
<rect x="434.30" y="111.10" width="6.80" height="3.00" rx="1.20" fill="#0c0c0c"/>
<rect x="442.00" y="111.10" width="6.80" height="3.00" rx="1.20" fill="#0c0c0c"/>
<rect x="449.70" y="111.10" width="6.80" height="3.00" rx="1.20" fill="#0c0c0c"/>
<rect x="457.40" y="111.10" width="6.80" height="3.00" rx="1.20" fill="#0c0c0c"/>
<rect x="465.10" y="111.10" width="6.80" height="3.00" rx="1.20" fill="#0c0c0c"/>
<rect x="472.80" y="111.10" width="6.80" height="3.00" rx="1.20" fill="#0c0c0c"/>
</g>
<line x1="342.00" y1="107.20" x2="342.00" y2="115.30" stroke="#707070" stroke-width="0.35"/>
<line x1="365.20" y1="107.20" x2="365.20" y2="115.30" stroke="#707070" stroke-width="0.35"/>
<line x1="388.70" y1="107.20" x2="388.70" y2="115.30" stroke="#707070" stroke-width="0.35"/>
<line x1="410.90" y1="107.20" x2="410.90" y2="115.30" stroke="#707070" stroke-width="0.35"/>
<line x1="433.80" y1="107.20" x2="433.80" y2="115.30" stroke="#707070" stroke-width="0.35"/>
<line x1="457.10" y1="107.20" x2="457.10" y2="115.30" stroke="#707070" stroke-width="0.35"/>
<rect x="319.00" y="117.10" width="160.80" height="9.90" fill="#cccccc"/>
<g filter="url(#bl)">
<rect x="318.80" y="118.80" width="6.80" height="1.00" rx="0.50" fill="#9c9c9c"/>
<rect x="326.50" y="118.80" width="6.80" height="1.00" rx="0.50" fill="#9c9c9c"/>
<rect x="334.20" y="118.80" width="6.80" height="1.00" rx="0.50" fill="#9c9c9c"/>
<rect x="341.90" y="118.80" width="6.80" height="1.00" rx="0.50" fill="#9c9c9c"/>
<rect x="349.60" y="118.80" width="6.80" height="1.00" rx="0.50" fill="#9c9c9c"/>
<rect x="357.30" y="118.80" width="6.80" height="1.00" rx="0.50" fill="#9c9c9c"/>
<rect x="365.00" y="118.80" width="6.80" height="1.00" rx="0.50" fill="#9c9c9c"/>
<rect x="372.70" y="118.80" width="6.80" height="1.00" rx="0.50" fill="#9c9c9c"/>
<rect x="380.40" y="118.80" width="6.80" height="1.00" rx="0.50" fill="#9c9c9c"/>
<rect x="388.10" y="118.80" width="6.80" height="1.00" rx="0.50" fill="#9c9c9c"/>
<rect x="395.80" y="118.80" width="6.80" height="1.00" rx="0.50" fill="#9c9c9c"/>
<rect x="403.50" y="118.80" width="6.80" height="1.00" rx="0.50" fill="#9c9c9c"/>
<rect x="411.20" y="118.80" width="6.80" height="1.00" rx="0.50" fill="#9c9c9c"/>
<rect x="418.90" y="118.80" width="6.80" height="1.00" rx="0.50" fill="#9c9c9c"/>
<rect x="426.60" y="118.80" width="6.80" height="1.00" rx="0.50" fill="#9c9c9c"/>
<rect x="434.30" y="118.80" width="6.80" height="1.00" rx="0.50" fill="#9c9c9c"/>
<rect x="442.00" y="118.80" width="6.80" height="1.00" rx="0.50" fill="#9c9c9c"/>
<rect x="449.70" y="118.80" width="6.80" height="1.00" rx="0.50" fill="#9c9c9c"/>
<rect x="457.40" y="118.80" width="6.80" height="1.00" rx="0.50" fill="#9c9c9c"/>
<rect x="465.10" y="118.80" width="6.80" height="1.00" rx="0.50" fill="#9c9c9c"/>
<rect x="472.80" y="118.80" width="6.80" height="1.00" rx="0.50" fill="#9c9c9c"/>
<rect x="318.80" y="119.80" width="6.80" height="4.80" rx="1.20" fill="#0c0c0c"/>
<rect x="326.50" y="119.80" width="6.80" height="4.80" rx="1.20" fill="#0c0c0c"/>
<rect x="334.20" y="119.80" width="6.80" height="4.80" rx="1.20" fill="#0c0c0c"/>
<rect x="341.90" y="119.80" width="6.80" height="4.80" rx="1.20" fill="#0c0c0c"/>
<rect x="349.60" y="119.80" width="6.80" height="4.80" rx="1.20" fill="#0c0c0c"/>
<rect x="357.30" y="119.80" width="6.80" height="4.80" rx="1.20" fill="#0c0c0c"/>
<rect x="365.00" y="119.80" width="6.80" height="4.80" rx="1.20" fill="#0c0c0c"/>
<rect x="372.70" y="119.80" width="6.80" height="4.80" rx="1.20" fill="#0c0c0c"/>
<rect x="380.40" y="119.80" width="6.80" height="4.80" rx="1.20" fill="#0c0c0c"/>
<rect x="388.10" y="119.80" width="6.80" height="4.80" rx="1.20" fill="#0c0c0c"/>
<rect x="395.80" y="119.80" width="6.80" height="4.80" rx="1.20" fill="#0c0c0c"/>
<rect x="403.50" y="119.80" width="6.80" height="4.80" rx="1.20" fill="#0c0c0c"/>
<rect x="411.20" y="119.80" width="6.80" height="4.80" rx="1.20" fill="#0c0c0c"/>
<rect x="418.90" y="119.80" width="6.80" height="4.80" rx="1.20" fill="#0c0c0c"/>
<rect x="426.60" y="119.80" width="6.80" height="4.80" rx="1.20" fill="#0c0c0c"/>
<rect x="434.30" y="119.80" width="6.80" height="4.80" rx="1.20" fill="#0c0c0c"/>
<rect x="442.00" y="119.80" width="6.80" height="4.80" rx="1.20" fill="#0c0c0c"/>
<rect x="449.70" y="119.80" width="6.80" height="4.80" rx="1.20" fill="#0c0c0c"/>
<rect x="457.40" y="119.80" width="6.80" height="4.80" rx="1.20" fill="#0c0c0c"/>
<rect x="465.10" y="119.80" width="6.80" height="4.80" rx="1.20" fill="#0c0c0c"/>
<rect x="472.80" y="119.80" width="6.80" height="4.80" rx="1.20" fill="#0c0c0c"/>
</g>
<line x1="342.00" y1="117.10" x2="342.00" y2="127.00" stroke="#707070" stroke-width="0.35"/>
<line x1="365.20" y1="117.10" x2="365.20" y2="127.00" stroke="#707070" stroke-width="0.35"/>
<line x1="388.70" y1="117.10" x2="388.70" y2="127.00" stroke="#707070" stroke-width="0.35"/>
<line x1="410.90" y1="117.10" x2="410.90" y2="127.00" stroke="#707070" stroke-width="0.35"/>
<line x1="433.80" y1="117.10" x2="433.80" y2="127.00" stroke="#707070" stroke-width="0.35"/>
<line x1="457.10" y1="117.10" x2="457.10" y2="127.00" stroke="#707070" stroke-width="0.35"/>
<rect x="319.00" y="127.90" width="160.80" height="8.10" fill="#d4d4d4"/>
<g filter="url(#bl)">
<rect x="318.80" y="130.10" width="6.80" height="3.20" rx="1.20" fill="#0c0c0c"/>
<rect x="326.50" y="130.10" width="6.80" height="3.20" rx="1.20" fill="#0c0c0c"/>
<rect x="334.20" y="130.10" width="6.80" height="3.20" rx="1.20" fill="#0c0c0c"/>
<rect x="341.90" y="130.10" width="6.80" height="3.20" rx="1.20" fill="#0c0c0c"/>
<rect x="349.60" y="130.10" width="6.80" height="3.20" rx="1.20" fill="#0c0c0c"/>
<rect x="357.30" y="130.10" width="6.80" height="3.20" rx="1.20" fill="#0c0c0c"/>
<rect x="365.00" y="130.10" width="6.80" height="3.20" rx="1.20" fill="#0c0c0c"/>
<rect x="372.70" y="130.10" width="6.80" height="3.20" rx="1.20" fill="#0c0c0c"/>
<rect x="380.40" y="130.10" width="6.80" height="3.20" rx="1.20" fill="#0c0c0c"/>
<rect x="388.10" y="130.10" width="6.80" height="3.20" rx="1.20" fill="#0c0c0c"/>
<rect x="395.80" y="130.10" width="6.80" height="3.20" rx="1.20" fill="#0c0c0c"/>
<rect x="403.50" y="130.10" width="6.80" height="3.20" rx="1.20" fill="#0c0c0c"/>
<rect x="411.20" y="130.10" width="6.80" height="3.20" rx="1.20" fill="#0c0c0c"/>
<rect x="418.90" y="130.10" width="6.80" height="3.20" rx="1.20" fill="#0c0c0c"/>
<rect x="426.60" y="130.10" width="6.80" height="3.20" rx="1.20" fill="#0c0c0c"/>
<rect x="434.30" y="130.10" width="6.80" height="3.20" rx="1.20" fill="#0c0c0c"/>
<rect x="442.00" y="130.10" width="6.80" height="3.20" rx="1.20" fill="#0c0c0c"/>
<rect x="449.70" y="130.10" width="6.80" height="3.20" rx="1.20" fill="#0c0c0c"/>
<rect x="457.40" y="130.10" width="6.80" height="3.20" rx="1.20" fill="#0c0c0c"/>
<rect x="465.10" y="130.10" width="6.80" height="3.20" rx="1.20" fill="#0c0c0c"/>
<rect x="472.80" y="130.10" width="6.80" height="3.20" rx="1.20" fill="#0c0c0c"/>
</g>
<line x1="342.00" y1="127.90" x2="342.00" y2="136.00" stroke="#707070" stroke-width="0.35"/>
<line x1="365.20" y1="127.90" x2="365.20" y2="136.00" stroke="#707070" stroke-width="0.35"/>
<line x1="388.70" y1="127.90" x2="388.70" y2="136.00" stroke="#707070" stroke-width="0.35"/>
<line x1="410.90" y1="127.90" x2="410.90" y2="136.00" stroke="#707070" stroke-width="0.35"/>
<line x1="433.80" y1="127.90" x2="433.80" y2="136.00" stroke="#707070" stroke-width="0.35"/>
<line x1="457.10" y1="127.90" x2="457.10" y2="136.00" stroke="#707070" stroke-width="0.35"/>
<line x1="318.50" y1="139.40" x2="479.80" y2="139.40" stroke="#3a3a3a" stroke-width="1.2"/>
<text x="398.90" y="147.69" font-size="6.05" text-anchor="middle" textLength="26.30" lengthAdjust="spacingAndGlyphs" stroke="#231f20" stroke-width="0.06" transform="rotate(0.05 398.90 145.60)">U937 Cas9</text>
<text x="482.90" y="70.09" font-size="6.05" textLength="13.29" lengthAdjust="spacingAndGlyphs" stroke="#231f20" stroke-width="0.06" transform="rotate(0.05 482.90 68.00)">TSC1</text>
<text x="482.90" y="82.09" font-size="6.05" textLength="13.29" lengthAdjust="spacingAndGlyphs" stroke="#231f20" stroke-width="0.06" transform="rotate(0.05 482.90 80.00)">TSC2</text>
<text x="482.90" y="91.79" font-size="6.05" textLength="17.05" lengthAdjust="spacingAndGlyphs" stroke="#231f20" stroke-width="0.06" transform="rotate(0.05 482.90 89.70)">GSPT1</text>
<text x="482.90" y="101.39" font-size="6.05" textLength="29.20" lengthAdjust="spacingAndGlyphs" stroke="#231f20" stroke-width="0.06" transform="rotate(0.05 482.90 99.30)">pT389-S6K1</text>
<text x="482.90" y="112.39" font-size="6.05" textLength="12.72" lengthAdjust="spacingAndGlyphs" stroke="#231f20" stroke-width="0.06" transform="rotate(0.05 482.90 110.30)">S6K1</text>
<text x="482.90" y="122.99" font-size="6.05" textLength="14.74" lengthAdjust="spacingAndGlyphs" stroke="#231f20" stroke-width="0.06" transform="rotate(0.05 482.90 120.90)">CRBN</text>
<text x="482.90" y="132.69" font-size="6.05" textLength="11.56" lengthAdjust="spacingAndGlyphs" stroke="#231f20" stroke-width="0.06" transform="rotate(0.05 482.90 130.60)">Actin</text>
<line x1="310.00" y1="199.70" x2="365.50" y2="199.70" stroke="#505050" stroke-width="1.4"/>
<text x="339.50" y="197.26" font-size="5.40" textLength="17.94" lengthAdjust="spacingAndGlyphs" stroke="#231f20" stroke-width="0.06" transform="rotate(-40.95 339.50 195.40)">sgNC-8</text>
<line x1="371.20" y1="199.70" x2="427.10" y2="199.70" stroke="#505050" stroke-width="1.4"/>
<text x="397.80" y="197.26" font-size="5.40" textLength="23.82" lengthAdjust="spacingAndGlyphs" stroke="#231f20" stroke-width="0.06" transform="rotate(-40.95 397.80 195.40)">sgTSC1-6</text>
<line x1="433.30" y1="199.70" x2="489.00" y2="199.70" stroke="#505050" stroke-width="1.4"/>
<text x="458.30" y="197.26" font-size="5.40" textLength="23.53" lengthAdjust="spacingAndGlyphs" stroke="#231f20" stroke-width="0.06" transform="rotate(-40.95 458.30 195.40)">sgTSC2.5</text>
<text x="267.90" y="207.81" font-size="5.83" textLength="16.60" lengthAdjust="spacingAndGlyphs" stroke="#231f20" stroke-width="0.06" transform="rotate(0.05 267.90 205.80)">DMSO</text>
<text x="267.90" y="216.41" font-size="5.83" textLength="41.60" lengthAdjust="spacingAndGlyphs" stroke="#231f20" stroke-width="0.06" transform="rotate(0.05 267.90 214.40)">CC-90009 (1 µM)</text>
<text x="267.90" y="225.51" font-size="5.83" textLength="39.20" lengthAdjust="spacingAndGlyphs" stroke="#231f20" stroke-width="0.06" transform="rotate(0.05 267.90 223.50)">CHX (50 µg/ml )</text>
<text x="313.20" y="207.94" font-size="5.62" text-anchor="middle" textLength="2.82" lengthAdjust="spacingAndGlyphs" stroke="#231f20" stroke-width="0.25" transform="rotate(0.05 313.20 206.00)">+</text>
<text x="313.20" y="225.74" font-size="5.62" text-anchor="middle" textLength="2.82" lengthAdjust="spacingAndGlyphs" stroke="#231f20" stroke-width="0.25" transform="rotate(0.05 313.20 223.80)">+</text>
<text x="313.20" y="234.51" font-size="5.83" text-anchor="middle" textLength="2.79" lengthAdjust="spacingAndGlyphs" stroke="#231f20" stroke-width="0.06" transform="rotate(0.05 313.20 232.50)">0</text>
<text x="320.83" y="207.94" font-size="5.62" text-anchor="middle" textLength="2.82" lengthAdjust="spacingAndGlyphs" stroke="#231f20" stroke-width="0.25" transform="rotate(0.05 320.83 206.00)">+</text>
<text x="320.83" y="225.74" font-size="5.62" text-anchor="middle" textLength="2.82" lengthAdjust="spacingAndGlyphs" stroke="#231f20" stroke-width="0.25" transform="rotate(0.05 320.83 223.80)">+</text>
<text x="320.83" y="234.51" font-size="5.83" text-anchor="middle" textLength="2.79" lengthAdjust="spacingAndGlyphs" stroke="#231f20" stroke-width="0.06" transform="rotate(0.05 320.83 232.50)">1</text>
<text x="328.46" y="207.94" font-size="5.62" text-anchor="middle" textLength="2.82" lengthAdjust="spacingAndGlyphs" stroke="#231f20" stroke-width="0.25" transform="rotate(0.05 328.46 206.00)">+</text>
<text x="328.46" y="225.74" font-size="5.62" text-anchor="middle" textLength="2.82" lengthAdjust="spacingAndGlyphs" stroke="#231f20" stroke-width="0.25" transform="rotate(0.05 328.46 223.80)">+</text>
<text x="328.46" y="234.51" font-size="5.83" text-anchor="middle" textLength="2.79" lengthAdjust="spacingAndGlyphs" stroke="#231f20" stroke-width="0.06" transform="rotate(0.05 328.46 232.50)">2</text>
<text x="336.09" y="207.94" font-size="5.62" text-anchor="middle" textLength="2.82" lengthAdjust="spacingAndGlyphs" stroke="#231f20" stroke-width="0.25" transform="rotate(0.05 336.09 206.00)">+</text>
<text x="336.09" y="225.74" font-size="5.62" text-anchor="middle" textLength="2.82" lengthAdjust="spacingAndGlyphs" stroke="#231f20" stroke-width="0.25" transform="rotate(0.05 336.09 223.80)">+</text>
<text x="336.09" y="234.51" font-size="5.83" text-anchor="middle" textLength="2.79" lengthAdjust="spacingAndGlyphs" stroke="#231f20" stroke-width="0.06" transform="rotate(0.05 336.09 232.50)">4</text>
<text x="343.72" y="216.74" font-size="5.62" text-anchor="middle" textLength="2.82" lengthAdjust="spacingAndGlyphs" stroke="#231f20" stroke-width="0.25" transform="rotate(0.05 343.72 214.80)">+</text>
<text x="343.72" y="225.74" font-size="5.62" text-anchor="middle" textLength="2.82" lengthAdjust="spacingAndGlyphs" stroke="#231f20" stroke-width="0.25" transform="rotate(0.05 343.72 223.80)">+</text>
<text x="343.72" y="234.51" font-size="5.83" text-anchor="middle" textLength="2.79" lengthAdjust="spacingAndGlyphs" stroke="#231f20" stroke-width="0.06" transform="rotate(0.05 343.72 232.50)">0</text>
<text x="351.35" y="216.74" font-size="5.62" text-anchor="middle" textLength="2.82" lengthAdjust="spacingAndGlyphs" stroke="#231f20" stroke-width="0.25" transform="rotate(0.05 351.35 214.80)">+</text>
<text x="351.35" y="225.74" font-size="5.62" text-anchor="middle" textLength="2.82" lengthAdjust="spacingAndGlyphs" stroke="#231f20" stroke-width="0.25" transform="rotate(0.05 351.35 223.80)">+</text>
<text x="351.35" y="234.51" font-size="5.83" text-anchor="middle" textLength="2.79" lengthAdjust="spacingAndGlyphs" stroke="#231f20" stroke-width="0.06" transform="rotate(0.05 351.35 232.50)">1</text>
<text x="358.98" y="216.74" font-size="5.62" text-anchor="middle" textLength="2.82" lengthAdjust="spacingAndGlyphs" stroke="#231f20" stroke-width="0.25" transform="rotate(0.05 358.98 214.80)">+</text>
<text x="358.98" y="225.74" font-size="5.62" text-anchor="middle" textLength="2.82" lengthAdjust="spacingAndGlyphs" stroke="#231f20" stroke-width="0.25" transform="rotate(0.05 358.98 223.80)">+</text>
<text x="358.98" y="234.51" font-size="5.83" text-anchor="middle" textLength="2.79" lengthAdjust="spacingAndGlyphs" stroke="#231f20" stroke-width="0.06" transform="rotate(0.05 358.98 232.50)">2</text>
<text x="366.61" y="216.74" font-size="5.62" text-anchor="middle" textLength="2.82" lengthAdjust="spacingAndGlyphs" stroke="#231f20" stroke-width="0.25" transform="rotate(0.05 366.61 214.80)">+</text>
<text x="366.61" y="225.74" font-size="5.62" text-anchor="middle" textLength="2.82" lengthAdjust="spacingAndGlyphs" stroke="#231f20" stroke-width="0.25" transform="rotate(0.05 366.61 223.80)">+</text>
<text x="366.61" y="234.51" font-size="5.83" text-anchor="middle" textLength="2.79" lengthAdjust="spacingAndGlyphs" stroke="#231f20" stroke-width="0.06" transform="rotate(0.05 366.61 232.50)">4</text>
<text x="374.24" y="207.94" font-size="5.62" text-anchor="middle" textLength="2.82" lengthAdjust="spacingAndGlyphs" stroke="#231f20" stroke-width="0.25" transform="rotate(0.05 374.24 206.00)">+</text>
<text x="374.24" y="225.74" font-size="5.62" text-anchor="middle" textLength="2.82" lengthAdjust="spacingAndGlyphs" stroke="#231f20" stroke-width="0.25" transform="rotate(0.05 374.24 223.80)">+</text>
<text x="374.24" y="234.51" font-size="5.83" text-anchor="middle" textLength="2.79" lengthAdjust="spacingAndGlyphs" stroke="#231f20" stroke-width="0.06" transform="rotate(0.05 374.24 232.50)">0</text>
<text x="381.87" y="207.94" font-size="5.62" text-anchor="middle" textLength="2.82" lengthAdjust="spacingAndGlyphs" stroke="#231f20" stroke-width="0.25" transform="rotate(0.05 381.87 206.00)">+</text>
<text x="381.87" y="225.74" font-size="5.62" text-anchor="middle" textLength="2.82" lengthAdjust="spacingAndGlyphs" stroke="#231f20" stroke-width="0.25" transform="rotate(0.05 381.87 223.80)">+</text>
<text x="381.87" y="234.51" font-size="5.83" text-anchor="middle" textLength="2.79" lengthAdjust="spacingAndGlyphs" stroke="#231f20" stroke-width="0.06" transform="rotate(0.05 381.87 232.50)">1</text>
<text x="389.50" y="207.94" font-size="5.62" text-anchor="middle" textLength="2.82" lengthAdjust="spacingAndGlyphs" stroke="#231f20" stroke-width="0.25" transform="rotate(0.05 389.50 206.00)">+</text>
<text x="389.50" y="225.74" font-size="5.62" text-anchor="middle" textLength="2.82" lengthAdjust="spacingAndGlyphs" stroke="#231f20" stroke-width="0.25" transform="rotate(0.05 389.50 223.80)">+</text>
<text x="389.50" y="234.51" font-size="5.83" text-anchor="middle" textLength="2.79" lengthAdjust="spacingAndGlyphs" stroke="#231f20" stroke-width="0.06" transform="rotate(0.05 389.50 232.50)">2</text>
<text x="397.13" y="207.94" font-size="5.62" text-anchor="middle" textLength="2.82" lengthAdjust="spacingAndGlyphs" stroke="#231f20" stroke-width="0.25" transform="rotate(0.05 397.13 206.00)">+</text>
<text x="397.13" y="225.74" font-size="5.62" text-anchor="middle" textLength="2.82" lengthAdjust="spacingAndGlyphs" stroke="#231f20" stroke-width="0.25" transform="rotate(0.05 397.13 223.80)">+</text>
<text x="397.13" y="234.51" font-size="5.83" text-anchor="middle" textLength="2.79" lengthAdjust="spacingAndGlyphs" stroke="#231f20" stroke-width="0.06" transform="rotate(0.05 397.13 232.50)">4</text>
<text x="404.76" y="216.74" font-size="5.62" text-anchor="middle" textLength="2.82" lengthAdjust="spacingAndGlyphs" stroke="#231f20" stroke-width="0.25" transform="rotate(0.05 404.76 214.80)">+</text>
<text x="404.76" y="225.74" font-size="5.62" text-anchor="middle" textLength="2.82" lengthAdjust="spacingAndGlyphs" stroke="#231f20" stroke-width="0.25" transform="rotate(0.05 404.76 223.80)">+</text>
<text x="404.76" y="234.51" font-size="5.83" text-anchor="middle" textLength="2.79" lengthAdjust="spacingAndGlyphs" stroke="#231f20" stroke-width="0.06" transform="rotate(0.05 404.76 232.50)">0</text>
<text x="412.39" y="216.74" font-size="5.62" text-anchor="middle" textLength="2.82" lengthAdjust="spacingAndGlyphs" stroke="#231f20" stroke-width="0.25" transform="rotate(0.05 412.39 214.80)">+</text>
<text x="412.39" y="225.74" font-size="5.62" text-anchor="middle" textLength="2.82" lengthAdjust="spacingAndGlyphs" stroke="#231f20" stroke-width="0.25" transform="rotate(0.05 412.39 223.80)">+</text>
<text x="412.39" y="234.51" font-size="5.83" text-anchor="middle" textLength="2.79" lengthAdjust="spacingAndGlyphs" stroke="#231f20" stroke-width="0.06" transform="rotate(0.05 412.39 232.50)">1</text>
<text x="420.02" y="216.74" font-size="5.62" text-anchor="middle" textLength="2.82" lengthAdjust="spacingAndGlyphs" stroke="#231f20" stroke-width="0.25" transform="rotate(0.05 420.02 214.80)">+</text>
<text x="420.02" y="225.74" font-size="5.62" text-anchor="middle" textLength="2.82" lengthAdjust="spacingAndGlyphs" stroke="#231f20" stroke-width="0.25" transform="rotate(0.05 420.02 223.80)">+</text>
<text x="420.02" y="234.51" font-size="5.83" text-anchor="middle" textLength="2.79" lengthAdjust="spacingAndGlyphs" stroke="#231f20" stroke-width="0.06" transform="rotate(0.05 420.02 232.50)">2</text>
<text x="427.65" y="216.74" font-size="5.62" text-anchor="middle" textLength="2.82" lengthAdjust="spacingAndGlyphs" stroke="#231f20" stroke-width="0.25" transform="rotate(0.05 427.65 214.80)">+</text>
<text x="427.65" y="225.74" font-size="5.62" text-anchor="middle" textLength="2.82" lengthAdjust="spacingAndGlyphs" stroke="#231f20" stroke-width="0.25" transform="rotate(0.05 427.65 223.80)">+</text>
<text x="427.65" y="234.51" font-size="5.83" text-anchor="middle" textLength="2.79" lengthAdjust="spacingAndGlyphs" stroke="#231f20" stroke-width="0.06" transform="rotate(0.05 427.65 232.50)">4</text>
<text x="435.28" y="207.94" font-size="5.62" text-anchor="middle" textLength="2.82" lengthAdjust="spacingAndGlyphs" stroke="#231f20" stroke-width="0.25" transform="rotate(0.05 435.28 206.00)">+</text>
<text x="435.28" y="225.74" font-size="5.62" text-anchor="middle" textLength="2.82" lengthAdjust="spacingAndGlyphs" stroke="#231f20" stroke-width="0.25" transform="rotate(0.05 435.28 223.80)">+</text>
<text x="435.28" y="234.51" font-size="5.83" text-anchor="middle" textLength="2.79" lengthAdjust="spacingAndGlyphs" stroke="#231f20" stroke-width="0.06" transform="rotate(0.05 435.28 232.50)">0</text>
<text x="442.91" y="207.94" font-size="5.62" text-anchor="middle" textLength="2.82" lengthAdjust="spacingAndGlyphs" stroke="#231f20" stroke-width="0.25" transform="rotate(0.05 442.91 206.00)">+</text>
<text x="442.91" y="225.74" font-size="5.62" text-anchor="middle" textLength="2.82" lengthAdjust="spacingAndGlyphs" stroke="#231f20" stroke-width="0.25" transform="rotate(0.05 442.91 223.80)">+</text>
<text x="442.91" y="234.51" font-size="5.83" text-anchor="middle" textLength="2.79" lengthAdjust="spacingAndGlyphs" stroke="#231f20" stroke-width="0.06" transform="rotate(0.05 442.91 232.50)">1</text>
<text x="450.54" y="207.94" font-size="5.62" text-anchor="middle" textLength="2.82" lengthAdjust="spacingAndGlyphs" stroke="#231f20" stroke-width="0.25" transform="rotate(0.05 450.54 206.00)">+</text>
<text x="450.54" y="225.74" font-size="5.62" text-anchor="middle" textLength="2.82" lengthAdjust="spacingAndGlyphs" stroke="#231f20" stroke-width="0.25" transform="rotate(0.05 450.54 223.80)">+</text>
<text x="450.54" y="234.51" font-size="5.83" text-anchor="middle" textLength="2.79" lengthAdjust="spacingAndGlyphs" stroke="#231f20" stroke-width="0.06" transform="rotate(0.05 450.54 232.50)">2</text>
<text x="458.17" y="207.94" font-size="5.62" text-anchor="middle" textLength="2.82" lengthAdjust="spacingAndGlyphs" stroke="#231f20" stroke-width="0.25" transform="rotate(0.05 458.17 206.00)">+</text>
<text x="458.17" y="225.74" font-size="5.62" text-anchor="middle" textLength="2.82" lengthAdjust="spacingAndGlyphs" stroke="#231f20" stroke-width="0.25" transform="rotate(0.05 458.17 223.80)">+</text>
<text x="458.17" y="234.51" font-size="5.83" text-anchor="middle" textLength="2.79" lengthAdjust="spacingAndGlyphs" stroke="#231f20" stroke-width="0.06" transform="rotate(0.05 458.17 232.50)">4</text>
<text x="465.80" y="216.74" font-size="5.62" text-anchor="middle" textLength="2.82" lengthAdjust="spacingAndGlyphs" stroke="#231f20" stroke-width="0.25" transform="rotate(0.05 465.80 214.80)">+</text>
<text x="465.80" y="225.74" font-size="5.62" text-anchor="middle" textLength="2.82" lengthAdjust="spacingAndGlyphs" stroke="#231f20" stroke-width="0.25" transform="rotate(0.05 465.80 223.80)">+</text>
<text x="465.80" y="234.51" font-size="5.83" text-anchor="middle" textLength="2.79" lengthAdjust="spacingAndGlyphs" stroke="#231f20" stroke-width="0.06" transform="rotate(0.05 465.80 232.50)">0</text>
<text x="473.43" y="216.74" font-size="5.62" text-anchor="middle" textLength="2.82" lengthAdjust="spacingAndGlyphs" stroke="#231f20" stroke-width="0.25" transform="rotate(0.05 473.43 214.80)">+</text>
<text x="473.43" y="225.74" font-size="5.62" text-anchor="middle" textLength="2.82" lengthAdjust="spacingAndGlyphs" stroke="#231f20" stroke-width="0.25" transform="rotate(0.05 473.43 223.80)">+</text>
<text x="473.43" y="234.51" font-size="5.83" text-anchor="middle" textLength="2.79" lengthAdjust="spacingAndGlyphs" stroke="#231f20" stroke-width="0.06" transform="rotate(0.05 473.43 232.50)">1</text>
<text x="481.06" y="216.74" font-size="5.62" text-anchor="middle" textLength="2.82" lengthAdjust="spacingAndGlyphs" stroke="#231f20" stroke-width="0.25" transform="rotate(0.05 481.06 214.80)">+</text>
<text x="481.06" y="225.74" font-size="5.62" text-anchor="middle" textLength="2.82" lengthAdjust="spacingAndGlyphs" stroke="#231f20" stroke-width="0.25" transform="rotate(0.05 481.06 223.80)">+</text>
<text x="481.06" y="234.51" font-size="5.83" text-anchor="middle" textLength="2.79" lengthAdjust="spacingAndGlyphs" stroke="#231f20" stroke-width="0.06" transform="rotate(0.05 481.06 232.50)">2</text>
<text x="488.69" y="216.74" font-size="5.62" text-anchor="middle" textLength="2.82" lengthAdjust="spacingAndGlyphs" stroke="#231f20" stroke-width="0.25" transform="rotate(0.05 488.69 214.80)">+</text>
<text x="488.69" y="225.74" font-size="5.62" text-anchor="middle" textLength="2.82" lengthAdjust="spacingAndGlyphs" stroke="#231f20" stroke-width="0.25" transform="rotate(0.05 488.69 223.80)">+</text>
<text x="488.69" y="234.51" font-size="5.83" text-anchor="middle" textLength="2.79" lengthAdjust="spacingAndGlyphs" stroke="#231f20" stroke-width="0.06" transform="rotate(0.05 488.69 232.50)">4</text>
<text x="496.30" y="234.56" font-size="5.40" textLength="10.20" lengthAdjust="spacingAndGlyphs" stroke="#231f20" stroke-width="0.06" transform="rotate(0.05 496.30 232.70)">(hrs)</text>
<rect x="310.00" y="239.00" width="183.40" height="9.00" fill="#d6d6d6"/>
<g filter="url(#bl)">
<rect x="310.25" y="243.65" width="5.90" height="2.50" rx="1.20" fill="#161616"/>
<rect x="317.88" y="243.56" width="5.90" height="2.50" rx="1.20" fill="#161616"/>
<rect x="325.51" y="243.47" width="5.90" height="2.50" rx="1.20" fill="#161616"/>
<rect x="333.14" y="243.38" width="5.90" height="2.50" rx="1.20" fill="#161616"/>
<rect x="340.77" y="243.29" width="5.90" height="2.50" rx="1.20" fill="#161616"/>
<rect x="348.40" y="243.20" width="5.90" height="2.50" rx="1.20" fill="#161616"/>
<rect x="356.03" y="243.11" width="5.90" height="2.50" rx="1.20" fill="#202020"/>
<rect x="363.66" y="243.02" width="5.90" height="2.50" rx="1.20" fill="#343434"/>
<rect x="371.29" y="242.93" width="5.90" height="2.50" rx="1.20" fill="#161616"/>
<rect x="378.92" y="242.84" width="5.90" height="2.50" rx="1.20" fill="#161616"/>
<rect x="386.55" y="242.75" width="5.90" height="2.50" rx="1.20" fill="#161616"/>
<rect x="394.18" y="242.66" width="5.90" height="2.50" rx="1.20" fill="#161616"/>
<rect x="401.81" y="242.57" width="5.90" height="2.50" rx="1.20" fill="#0c0c0c"/>
<rect x="409.44" y="242.48" width="5.90" height="2.50" rx="1.20" fill="#0c0c0c"/>
<rect x="417.07" y="242.39" width="5.90" height="2.50" rx="1.20" fill="#0c0c0c"/>
<rect x="424.70" y="242.30" width="5.90" height="2.50" rx="1.20" fill="#0c0c0c"/>
<rect x="432.33" y="242.21" width="5.90" height="2.50" rx="1.20" fill="#0c0c0c"/>
<rect x="439.96" y="242.12" width="5.90" height="2.50" rx="1.20" fill="#0c0c0c"/>
<rect x="447.59" y="242.03" width="5.90" height="2.50" rx="1.20" fill="#0c0c0c"/>
<rect x="455.22" y="241.94" width="5.90" height="2.50" rx="1.20" fill="#0c0c0c"/>
<rect x="462.85" y="241.85" width="5.90" height="2.50" rx="1.20" fill="#0c0c0c"/>
<rect x="470.48" y="241.76" width="5.90" height="2.50" rx="1.20" fill="#161616"/>
<rect x="478.11" y="241.67" width="5.90" height="2.50" rx="1.20" fill="#161616"/>
<rect x="485.74" y="241.58" width="5.90" height="2.50" rx="1.20" fill="#161616"/>
</g>
<line x1="341.40" y1="239.00" x2="341.40" y2="248.00" stroke="#707070" stroke-width="0.35"/>
<line x1="371.60" y1="239.00" x2="371.60" y2="248.00" stroke="#707070" stroke-width="0.35"/>
<line x1="402.20" y1="239.00" x2="402.20" y2="248.00" stroke="#707070" stroke-width="0.35"/>
<line x1="432.50" y1="239.00" x2="432.50" y2="248.00" stroke="#707070" stroke-width="0.35"/>
<line x1="463.00" y1="239.00" x2="463.00" y2="248.00" stroke="#707070" stroke-width="0.35"/>
<text x="313.20" y="251.62" font-size="3.24" text-anchor="middle" textLength="5.60" lengthAdjust="spacingAndGlyphs" fill="#4a4a4a" transform="rotate(0.05 313.20 250.50)">1.00</text>
<text x="320.83" y="251.62" font-size="3.24" text-anchor="middle" textLength="5.60" lengthAdjust="spacingAndGlyphs" fill="#4a4a4a" transform="rotate(0.05 320.83 250.50)">0.97</text>
<text x="328.46" y="251.62" font-size="3.24" text-anchor="middle" textLength="5.60" lengthAdjust="spacingAndGlyphs" fill="#4a4a4a" transform="rotate(0.05 328.46 250.50)">1.05</text>
<text x="336.09" y="251.62" font-size="3.24" text-anchor="middle" textLength="5.60" lengthAdjust="spacingAndGlyphs" fill="#4a4a4a" transform="rotate(0.05 336.09 250.50)">1.10</text>
<text x="343.72" y="251.62" font-size="3.24" text-anchor="middle" textLength="5.60" lengthAdjust="spacingAndGlyphs" fill="#4a4a4a" transform="rotate(0.05 343.72 250.50)">1.05</text>
<text x="351.35" y="251.62" font-size="3.24" text-anchor="middle" textLength="5.60" lengthAdjust="spacingAndGlyphs" fill="#4a4a4a" transform="rotate(0.05 351.35 250.50)">1.00</text>
<text x="358.98" y="251.62" font-size="3.24" text-anchor="middle" textLength="5.60" lengthAdjust="spacingAndGlyphs" fill="#4a4a4a" transform="rotate(0.05 358.98 250.50)">0.75</text>
<text x="366.61" y="251.62" font-size="3.24" text-anchor="middle" textLength="5.60" lengthAdjust="spacingAndGlyphs" fill="#4a4a4a" transform="rotate(0.05 366.61 250.50)">0.55</text>
<text x="374.24" y="251.62" font-size="3.24" text-anchor="middle" textLength="5.60" lengthAdjust="spacingAndGlyphs" fill="#4a4a4a" transform="rotate(0.05 374.24 250.50)">0.92</text>
<text x="381.87" y="251.62" font-size="3.24" text-anchor="middle" textLength="5.60" lengthAdjust="spacingAndGlyphs" fill="#4a4a4a" transform="rotate(0.05 381.87 250.50)">1.02</text>
<text x="389.50" y="251.62" font-size="3.24" text-anchor="middle" textLength="5.60" lengthAdjust="spacingAndGlyphs" fill="#4a4a4a" transform="rotate(0.05 389.50 250.50)">1.07</text>
<text x="397.13" y="251.62" font-size="3.24" text-anchor="middle" textLength="5.60" lengthAdjust="spacingAndGlyphs" fill="#4a4a4a" transform="rotate(0.05 397.13 250.50)">0.85</text>
<text x="404.76" y="251.62" font-size="3.24" text-anchor="middle" textLength="5.60" lengthAdjust="spacingAndGlyphs" fill="#4a4a4a" transform="rotate(0.05 404.76 250.50)">0.93</text>
<text x="412.39" y="251.62" font-size="3.24" text-anchor="middle" textLength="5.60" lengthAdjust="spacingAndGlyphs" fill="#4a4a4a" transform="rotate(0.05 412.39 250.50)">1.02</text>
<text x="420.02" y="251.62" font-size="3.24" text-anchor="middle" textLength="5.60" lengthAdjust="spacingAndGlyphs" fill="#4a4a4a" transform="rotate(0.05 420.02 250.50)">1.07</text>
<text x="427.65" y="251.62" font-size="3.24" text-anchor="middle" textLength="5.60" lengthAdjust="spacingAndGlyphs" fill="#4a4a4a" transform="rotate(0.05 427.65 250.50)">0.85</text>
<text x="435.28" y="251.62" font-size="3.24" text-anchor="middle" textLength="5.60" lengthAdjust="spacingAndGlyphs" fill="#4a4a4a" transform="rotate(0.05 435.28 250.50)">1.30</text>
<text x="442.91" y="251.62" font-size="3.24" text-anchor="middle" textLength="5.60" lengthAdjust="spacingAndGlyphs" fill="#4a4a4a" transform="rotate(0.05 442.91 250.50)">1.19</text>
<text x="450.54" y="251.62" font-size="3.24" text-anchor="middle" textLength="5.60" lengthAdjust="spacingAndGlyphs" fill="#4a4a4a" transform="rotate(0.05 450.54 250.50)">1.23</text>
<text x="458.17" y="251.62" font-size="3.24" text-anchor="middle" textLength="5.60" lengthAdjust="spacingAndGlyphs" fill="#4a4a4a" transform="rotate(0.05 458.17 250.50)">1.11</text>
<text x="465.80" y="251.62" font-size="3.24" text-anchor="middle" textLength="5.60" lengthAdjust="spacingAndGlyphs" fill="#4a4a4a" transform="rotate(0.05 465.80 250.50)">1.22</text>
<text x="473.43" y="251.62" font-size="3.24" text-anchor="middle" textLength="5.60" lengthAdjust="spacingAndGlyphs" fill="#4a4a4a" transform="rotate(0.05 473.43 250.50)">1.16</text>
<text x="481.06" y="251.62" font-size="3.24" text-anchor="middle" textLength="5.60" lengthAdjust="spacingAndGlyphs" fill="#4a4a4a" transform="rotate(0.05 481.06 250.50)">1.15</text>
<text x="488.69" y="251.62" font-size="3.24" text-anchor="middle" textLength="5.60" lengthAdjust="spacingAndGlyphs" fill="#4a4a4a" transform="rotate(0.05 488.69 250.50)">0.81</text>
<rect x="310.00" y="253.60" width="183.40" height="10.40" fill="#e6e6e6"/>
<g filter="url(#bl)">
<rect x="309.80" y="256.20" width="6.80" height="5.20" rx="1.20" fill="#0c0c0c"/>
<rect x="317.43" y="256.80" width="6.80" height="4.00" rx="1.20" fill="#424242"/>
<rect x="325.06" y="256.80" width="6.80" height="4.00" rx="1.20" fill="#848484"/>
<rect x="332.69" y="256.80" width="6.80" height="4.00" rx="1.20" fill="#c5c5c5"/>
<rect x="340.32" y="256.20" width="6.80" height="5.20" rx="1.20" fill="#0c0c0c"/>
<rect x="347.95" y="256.80" width="6.80" height="4.00" rx="1.20" fill="#2d2d2d"/>
<rect x="355.58" y="256.80" width="6.80" height="4.00" rx="1.20" fill="#8f8f8f"/>
<rect x="363.21" y="256.80" width="6.80" height="4.00" rx="1.20" fill="#d0d0d0"/>
<rect x="370.84" y="256.20" width="6.80" height="5.20" rx="1.20" fill="#171717"/>
<rect x="378.47" y="256.80" width="6.80" height="4.00" rx="1.20" fill="#848484"/>
<rect x="386.10" y="256.80" width="6.80" height="4.00" rx="1.20" fill="#b0b0b0"/>
<rect x="393.73" y="256.80" width="6.80" height="4.00" rx="1.20" fill="#dbdbdb"/>
<rect x="401.36" y="256.20" width="6.80" height="5.20" rx="1.20" fill="#171717"/>
<rect x="408.99" y="256.80" width="6.80" height="4.00" rx="1.20" fill="#797979"/>
<rect x="416.62" y="256.80" width="6.80" height="4.00" rx="1.20" fill="#b0b0b0"/>
<rect x="424.25" y="256.80" width="6.80" height="4.00" rx="1.20" fill="#dbdbdb"/>
<rect x="431.88" y="256.20" width="6.80" height="5.20" rx="1.20" fill="#0c0c0c"/>
<rect x="439.51" y="256.80" width="6.80" height="4.00" rx="1.20" fill="#797979"/>
<rect x="447.14" y="256.80" width="6.80" height="4.00" rx="1.20" fill="#a9a9a9"/>
<rect x="454.77" y="256.80" width="6.80" height="4.00" rx="1.20" fill="#d5d5d5"/>
<rect x="462.40" y="256.20" width="6.80" height="5.20" rx="1.20" fill="#0c0c0c"/>
<rect x="470.03" y="256.80" width="6.80" height="4.00" rx="1.20" fill="#6e6e6e"/>
<rect x="477.66" y="256.80" width="6.80" height="4.00" rx="1.20" fill="#b6b6b6"/>
<rect x="485.29" y="256.80" width="6.80" height="4.00" rx="1.20" fill="#d9d9d9"/>
</g>
<line x1="341.40" y1="253.60" x2="341.40" y2="264.00" stroke="#b0b0b0" stroke-width="0.35"/>
<line x1="371.60" y1="253.60" x2="371.60" y2="264.00" stroke="#b0b0b0" stroke-width="0.35"/>
<line x1="402.20" y1="253.60" x2="402.20" y2="264.00" stroke="#b0b0b0" stroke-width="0.35"/>
<line x1="432.50" y1="253.60" x2="432.50" y2="264.00" stroke="#b0b0b0" stroke-width="0.35"/>
<line x1="463.00" y1="253.60" x2="463.00" y2="264.00" stroke="#b0b0b0" stroke-width="0.35"/>
<rect x="310.00" y="265.60" width="183.40" height="9.40" fill="#cfcfcf"/>
<g filter="url(#bl)">
<rect x="310.20" y="269.20" width="6.00" height="2.00" rx="1.00" fill="#1f1f1f"/>
<rect x="317.83" y="269.20" width="6.00" height="2.00" rx="1.00" fill="#1f1f1f"/>
<rect x="325.46" y="269.20" width="6.00" height="2.00" rx="1.00" fill="#1f1f1f"/>
<rect x="333.09" y="269.20" width="6.00" height="2.00" rx="1.00" fill="#1f1f1f"/>
<rect x="340.72" y="269.20" width="6.00" height="2.00" rx="1.00" fill="#1f1f1f"/>
<rect x="348.35" y="269.20" width="6.00" height="2.00" rx="1.00" fill="#1f1f1f"/>
<rect x="355.98" y="269.20" width="6.00" height="2.00" rx="1.00" fill="#1f1f1f"/>
<rect x="363.61" y="269.20" width="6.00" height="2.00" rx="1.00" fill="#1f1f1f"/>
<rect x="371.24" y="269.20" width="6.00" height="2.00" rx="1.00" fill="#bcbcbc"/>
<rect x="378.87" y="269.20" width="6.00" height="2.00" rx="1.00" fill="#bcbcbc"/>
<rect x="386.50" y="269.20" width="6.00" height="2.00" rx="1.00" fill="#bcbcbc"/>
<rect x="394.13" y="269.20" width="6.00" height="2.00" rx="1.00" fill="#bcbcbc"/>
<rect x="401.76" y="269.20" width="6.00" height="2.00" rx="1.00" fill="#bcbcbc"/>
<rect x="409.39" y="269.20" width="6.00" height="2.00" rx="1.00" fill="#bcbcbc"/>
<rect x="417.02" y="269.20" width="6.00" height="2.00" rx="1.00" fill="#bcbcbc"/>
<rect x="424.65" y="269.20" width="6.00" height="2.00" rx="1.00" fill="#bcbcbc"/>
<rect x="432.28" y="269.20" width="6.00" height="2.00" rx="1.00" fill="#1f1f1f"/>
<rect x="439.91" y="269.20" width="6.00" height="2.00" rx="1.00" fill="#1f1f1f"/>
<rect x="447.54" y="269.20" width="6.00" height="2.00" rx="1.00" fill="#1f1f1f"/>
<rect x="455.17" y="269.20" width="6.00" height="2.00" rx="1.00" fill="#1f1f1f"/>
<rect x="462.80" y="269.20" width="6.00" height="2.00" rx="1.00" fill="#1f1f1f"/>
<rect x="470.43" y="269.20" width="6.00" height="2.00" rx="1.00" fill="#1f1f1f"/>
<rect x="478.06" y="269.20" width="6.00" height="2.00" rx="1.00" fill="#1f1f1f"/>
<rect x="485.69" y="269.20" width="6.00" height="2.00" rx="1.00" fill="#1f1f1f"/>
</g>
<line x1="341.40" y1="265.60" x2="341.40" y2="275.00" stroke="#707070" stroke-width="0.35"/>
<line x1="371.60" y1="265.60" x2="371.60" y2="275.00" stroke="#707070" stroke-width="0.35"/>
<line x1="402.20" y1="265.60" x2="402.20" y2="275.00" stroke="#707070" stroke-width="0.35"/>
<line x1="432.50" y1="265.60" x2="432.50" y2="275.00" stroke="#707070" stroke-width="0.35"/>
<line x1="463.00" y1="265.60" x2="463.00" y2="275.00" stroke="#707070" stroke-width="0.35"/>
<rect x="310.00" y="277.00" width="183.40" height="12.00" fill="#909090"/>
<g filter="url(#bl)">
<rect x="309.90" y="281.90" width="6.60" height="2.20" rx="1.10" fill="#262626"/>
<rect x="317.53" y="281.90" width="6.60" height="2.20" rx="1.10" fill="#262626"/>
<rect x="325.16" y="281.90" width="6.60" height="2.20" rx="1.10" fill="#262626"/>
<rect x="332.79" y="281.90" width="6.60" height="2.20" rx="1.10" fill="#262626"/>
<rect x="340.42" y="281.90" width="6.60" height="2.20" rx="1.10" fill="#262626"/>
<rect x="348.05" y="281.90" width="6.60" height="2.20" rx="1.10" fill="#262626"/>
<rect x="355.68" y="281.90" width="6.60" height="2.20" rx="1.10" fill="#262626"/>
<rect x="363.31" y="281.90" width="6.60" height="2.20" rx="1.10" fill="#262626"/>
<rect x="370.94" y="281.90" width="6.60" height="2.20" rx="1.10" fill="#202020"/>
<rect x="378.57" y="281.90" width="6.60" height="2.20" rx="1.10" fill="#202020"/>
<rect x="386.20" y="281.90" width="6.60" height="2.20" rx="1.10" fill="#202020"/>
<rect x="393.83" y="281.90" width="6.60" height="2.20" rx="1.10" fill="#202020"/>
<rect x="401.46" y="281.90" width="6.60" height="2.20" rx="1.10" fill="#202020"/>
<rect x="409.09" y="281.90" width="6.60" height="2.20" rx="1.10" fill="#202020"/>
<rect x="416.72" y="281.90" width="6.60" height="2.20" rx="1.10" fill="#202020"/>
<rect x="424.35" y="281.90" width="6.60" height="2.20" rx="1.10" fill="#202020"/>
<rect x="431.98" y="281.90" width="6.60" height="2.20" rx="1.10" fill="#3a3a3a"/>
<rect x="439.61" y="281.90" width="6.60" height="2.20" rx="1.10" fill="#3a3a3a"/>
<rect x="447.24" y="281.90" width="6.60" height="2.20" rx="1.10" fill="#3a3a3a"/>
<rect x="454.87" y="281.90" width="6.60" height="2.20" rx="1.10" fill="#3a3a3a"/>
<rect x="462.50" y="281.90" width="6.60" height="2.20" rx="1.10" fill="#3a3a3a"/>
<rect x="470.13" y="281.90" width="6.60" height="2.20" rx="1.10" fill="#3a3a3a"/>
<rect x="477.76" y="281.90" width="6.60" height="2.20" rx="1.10" fill="#3a3a3a"/>
<rect x="485.39" y="281.90" width="6.60" height="2.20" rx="1.10" fill="#3a3a3a"/>
</g>
<line x1="341.40" y1="277.00" x2="341.40" y2="289.00" stroke="#707070" stroke-width="0.35"/>
<line x1="371.60" y1="277.00" x2="371.60" y2="289.00" stroke="#707070" stroke-width="0.35"/>
<line x1="402.20" y1="277.00" x2="402.20" y2="289.00" stroke="#707070" stroke-width="0.35"/>
<line x1="432.50" y1="277.00" x2="432.50" y2="289.00" stroke="#707070" stroke-width="0.35"/>
<line x1="463.00" y1="277.00" x2="463.00" y2="289.00" stroke="#707070" stroke-width="0.35"/>
<rect x="310.00" y="290.00" width="183.40" height="10.00" fill="#d3d3d3"/>
<g filter="url(#bl)">
<rect x="309.80" y="291.60" width="6.80" height="0.80" rx="0.40" fill="#ababab"/>
<rect x="317.43" y="291.60" width="6.80" height="0.80" rx="0.40" fill="#ababab"/>
<rect x="325.06" y="291.60" width="6.80" height="0.80" rx="0.40" fill="#ababab"/>
<rect x="332.69" y="291.60" width="6.80" height="0.80" rx="0.40" fill="#ababab"/>
<rect x="340.32" y="291.60" width="6.80" height="0.80" rx="0.40" fill="#ababab"/>
<rect x="347.95" y="291.60" width="6.80" height="0.80" rx="0.40" fill="#ababab"/>
<rect x="355.58" y="291.60" width="6.80" height="0.80" rx="0.40" fill="#ababab"/>
<rect x="363.21" y="291.60" width="6.80" height="0.80" rx="0.40" fill="#ababab"/>
<rect x="370.84" y="291.60" width="6.80" height="0.80" rx="0.40" fill="#ababab"/>
<rect x="378.47" y="291.60" width="6.80" height="0.80" rx="0.40" fill="#ababab"/>
<rect x="386.10" y="291.60" width="6.80" height="0.80" rx="0.40" fill="#ababab"/>
<rect x="393.73" y="291.60" width="6.80" height="0.80" rx="0.40" fill="#ababab"/>
<rect x="401.36" y="291.60" width="6.80" height="0.80" rx="0.40" fill="#ababab"/>
<rect x="408.99" y="291.60" width="6.80" height="0.80" rx="0.40" fill="#ababab"/>
<rect x="416.62" y="291.60" width="6.80" height="0.80" rx="0.40" fill="#ababab"/>
<rect x="424.25" y="291.60" width="6.80" height="0.80" rx="0.40" fill="#ababab"/>
<rect x="431.88" y="291.60" width="6.80" height="0.80" rx="0.40" fill="#ababab"/>
<rect x="439.51" y="291.60" width="6.80" height="0.80" rx="0.40" fill="#ababab"/>
<rect x="447.14" y="291.60" width="6.80" height="0.80" rx="0.40" fill="#ababab"/>
<rect x="454.77" y="291.60" width="6.80" height="0.80" rx="0.40" fill="#ababab"/>
<rect x="462.40" y="291.60" width="6.80" height="0.80" rx="0.40" fill="#ababab"/>
<rect x="470.03" y="291.60" width="6.80" height="0.80" rx="0.40" fill="#ababab"/>
<rect x="477.66" y="291.60" width="6.80" height="0.80" rx="0.40" fill="#ababab"/>
<rect x="485.29" y="291.60" width="6.80" height="0.80" rx="0.40" fill="#ababab"/>
<rect x="309.80" y="293.50" width="6.80" height="4.60" rx="1.20" fill="#0c0c0c"/>
<rect x="317.43" y="293.50" width="6.80" height="4.60" rx="1.20" fill="#0c0c0c"/>
<rect x="325.06" y="293.50" width="6.80" height="4.60" rx="1.20" fill="#0c0c0c"/>
<rect x="332.69" y="293.50" width="6.80" height="4.60" rx="1.20" fill="#0c0c0c"/>
<rect x="340.32" y="293.50" width="6.80" height="4.60" rx="1.20" fill="#0c0c0c"/>
<rect x="347.95" y="293.50" width="6.80" height="4.60" rx="1.20" fill="#0c0c0c"/>
<rect x="355.58" y="293.50" width="6.80" height="4.60" rx="1.20" fill="#0c0c0c"/>
<rect x="363.21" y="293.50" width="6.80" height="4.60" rx="1.20" fill="#0c0c0c"/>
<rect x="370.84" y="293.50" width="6.80" height="4.60" rx="1.20" fill="#0c0c0c"/>
<rect x="378.47" y="293.50" width="6.80" height="4.60" rx="1.20" fill="#0c0c0c"/>
<rect x="386.10" y="293.50" width="6.80" height="4.60" rx="1.20" fill="#0c0c0c"/>
<rect x="393.73" y="293.50" width="6.80" height="4.60" rx="1.20" fill="#0c0c0c"/>
<rect x="401.36" y="293.50" width="6.80" height="4.60" rx="1.20" fill="#0c0c0c"/>
<rect x="408.99" y="293.50" width="6.80" height="4.60" rx="1.20" fill="#0c0c0c"/>
<rect x="416.62" y="293.50" width="6.80" height="4.60" rx="1.20" fill="#0c0c0c"/>
<rect x="424.25" y="293.50" width="6.80" height="4.60" rx="1.20" fill="#0c0c0c"/>
<rect x="431.88" y="293.50" width="6.80" height="4.60" rx="1.20" fill="#0c0c0c"/>
<rect x="439.51" y="293.50" width="6.80" height="4.60" rx="1.20" fill="#0c0c0c"/>
<rect x="447.14" y="293.50" width="6.80" height="4.60" rx="1.20" fill="#0c0c0c"/>
<rect x="454.77" y="293.50" width="6.80" height="4.60" rx="1.20" fill="#0c0c0c"/>
<rect x="462.40" y="293.50" width="6.80" height="4.60" rx="1.20" fill="#0c0c0c"/>
<rect x="470.03" y="293.50" width="6.80" height="4.60" rx="1.20" fill="#0c0c0c"/>
<rect x="477.66" y="293.50" width="6.80" height="4.60" rx="1.20" fill="#0c0c0c"/>
<rect x="485.29" y="293.50" width="6.80" height="4.60" rx="1.20" fill="#0c0c0c"/>
</g>
<line x1="341.40" y1="290.00" x2="341.40" y2="300.00" stroke="#a0a0a0" stroke-width="0.35"/>
<line x1="371.60" y1="290.00" x2="371.60" y2="300.00" stroke="#a0a0a0" stroke-width="0.35"/>
<line x1="402.20" y1="290.00" x2="402.20" y2="300.00" stroke="#a0a0a0" stroke-width="0.35"/>
<line x1="432.50" y1="290.00" x2="432.50" y2="300.00" stroke="#a0a0a0" stroke-width="0.35"/>
<line x1="463.00" y1="290.00" x2="463.00" y2="300.00" stroke="#a0a0a0" stroke-width="0.35"/>
<rect x="310.00" y="301.00" width="183.40" height="12.00" fill="#cccccc"/>
<g filter="url(#bl)">
<rect x="309.70" y="305.50" width="7.00" height="3.40" rx="1.20" fill="#0c0c0c"/>
<rect x="317.33" y="305.50" width="7.00" height="3.40" rx="1.20" fill="#0c0c0c"/>
<rect x="324.96" y="305.50" width="7.00" height="3.40" rx="1.20" fill="#0c0c0c"/>
<rect x="332.59" y="305.50" width="7.00" height="3.40" rx="1.20" fill="#0c0c0c"/>
<rect x="340.22" y="305.50" width="7.00" height="3.40" rx="1.20" fill="#0c0c0c"/>
<rect x="347.85" y="305.50" width="7.00" height="3.40" rx="1.20" fill="#0c0c0c"/>
<rect x="355.48" y="305.50" width="7.00" height="3.40" rx="1.20" fill="#0c0c0c"/>
<rect x="363.11" y="305.50" width="7.00" height="3.40" rx="1.20" fill="#0c0c0c"/>
<rect x="370.74" y="305.50" width="7.00" height="3.40" rx="1.20" fill="#0c0c0c"/>
<rect x="378.37" y="305.50" width="7.00" height="3.40" rx="1.20" fill="#0c0c0c"/>
<rect x="386.00" y="305.50" width="7.00" height="3.40" rx="1.20" fill="#0c0c0c"/>
<rect x="393.63" y="305.50" width="7.00" height="3.40" rx="1.20" fill="#0c0c0c"/>
<rect x="401.26" y="305.50" width="7.00" height="3.40" rx="1.20" fill="#0c0c0c"/>
<rect x="408.89" y="305.50" width="7.00" height="3.40" rx="1.20" fill="#0c0c0c"/>
<rect x="416.52" y="305.50" width="7.00" height="3.40" rx="1.20" fill="#0c0c0c"/>
<rect x="424.15" y="305.50" width="7.00" height="3.40" rx="1.20" fill="#0c0c0c"/>
<rect x="431.78" y="305.50" width="7.00" height="3.40" rx="1.20" fill="#0c0c0c"/>
<rect x="439.41" y="305.50" width="7.00" height="3.40" rx="1.20" fill="#0c0c0c"/>
<rect x="447.04" y="305.50" width="7.00" height="3.40" rx="1.20" fill="#0c0c0c"/>
<rect x="454.67" y="305.50" width="7.00" height="3.40" rx="1.20" fill="#0c0c0c"/>
<rect x="462.30" y="305.50" width="7.00" height="3.40" rx="1.20" fill="#0c0c0c"/>
<rect x="469.93" y="305.50" width="7.00" height="3.40" rx="1.20" fill="#0c0c0c"/>
<rect x="477.56" y="305.50" width="7.00" height="3.40" rx="1.20" fill="#0c0c0c"/>
<rect x="485.19" y="305.50" width="7.00" height="3.40" rx="1.20" fill="#0c0c0c"/>
</g>
<line x1="341.40" y1="301.00" x2="341.40" y2="313.00" stroke="#a0a0a0" stroke-width="0.35"/>
<line x1="371.60" y1="301.00" x2="371.60" y2="313.00" stroke="#a0a0a0" stroke-width="0.35"/>
<line x1="402.20" y1="301.00" x2="402.20" y2="313.00" stroke="#a0a0a0" stroke-width="0.35"/>
<line x1="432.50" y1="301.00" x2="432.50" y2="313.00" stroke="#a0a0a0" stroke-width="0.35"/>
<line x1="463.00" y1="301.00" x2="463.00" y2="313.00" stroke="#a0a0a0" stroke-width="0.35"/>
<line x1="309.50" y1="315.10" x2="493.40" y2="315.10" stroke="#3a3a3a" stroke-width="1.2"/>
<text x="402.00" y="323.49" font-size="6.05" text-anchor="middle" textLength="26.30" lengthAdjust="spacingAndGlyphs" stroke="#231f20" stroke-width="0.06" transform="rotate(0.05 402.00 321.40)">U937 Cas9</text>
<text x="495.60" y="244.94" font-size="5.62" textLength="15.84" lengthAdjust="spacingAndGlyphs" stroke="#231f20" stroke-width="0.06" transform="rotate(0.05 495.60 243.00)">GSPT1</text>
<text x="495.60" y="260.54" font-size="5.62" textLength="12.88" lengthAdjust="spacingAndGlyphs" stroke="#231f20" stroke-width="0.06" transform="rotate(0.05 495.60 258.60)">c-Myc</text>
<text x="495.60" y="271.74" font-size="5.62" textLength="12.35" lengthAdjust="spacingAndGlyphs" stroke="#231f20" stroke-width="0.06" transform="rotate(0.05 495.60 269.80)">TSC1</text>
<text x="495.60" y="283.24" font-size="5.62" textLength="12.35" lengthAdjust="spacingAndGlyphs" stroke="#231f20" stroke-width="0.06" transform="rotate(0.05 495.60 281.30)">TSC2</text>
<text x="495.60" y="296.74" font-size="5.62" textLength="13.69" lengthAdjust="spacingAndGlyphs" stroke="#231f20" stroke-width="0.06" transform="rotate(0.05 495.60 294.80)">CRBN</text>
<text x="495.60" y="309.54" font-size="5.62" textLength="10.74" lengthAdjust="spacingAndGlyphs" stroke="#231f20" stroke-width="0.06" transform="rotate(0.05 495.60 307.60)">Actin</text>
<line x1="359.60" y1="362.90" x2="372.40" y2="362.90" stroke="#4a4a4a" stroke-width="1.4"/>
<text x="364.70" y="359.54" font-size="5.62" textLength="18.82" lengthAdjust="spacingAndGlyphs" stroke="#231f20" stroke-width="0.06" transform="rotate(-43.95 364.70 357.60)">Parental</text>
<line x1="376.00" y1="362.90" x2="390.00" y2="362.90" stroke="#4a4a4a" stroke-width="1.4"/>
<text x="382.40" y="359.54" font-size="5.62" textLength="16.29" lengthAdjust="spacingAndGlyphs" stroke="#231f20" stroke-width="0.06" transform="rotate(-43.95 382.40 357.60)">sgNT-1</text>
<line x1="394.00" y1="362.90" x2="407.00" y2="362.90" stroke="#4a4a4a" stroke-width="1.4"/>
<text x="399.30" y="359.54" font-size="5.62" textLength="22.75" lengthAdjust="spacingAndGlyphs" stroke="#231f20" stroke-width="0.06" transform="rotate(-43.95 399.30 357.60)">sgTSC1-4</text>
<line x1="411.00" y1="362.90" x2="424.00" y2="362.90" stroke="#4a4a4a" stroke-width="1.4"/>
<text x="416.30" y="359.54" font-size="5.62" textLength="22.75" lengthAdjust="spacingAndGlyphs" stroke="#231f20" stroke-width="0.06" transform="rotate(-43.95 416.30 357.60)">sgTSC1-6</text>
<text x="321.30" y="371.39" font-size="6.05" textLength="16.60" lengthAdjust="spacingAndGlyphs" stroke="#231f20" stroke-width="0.06" transform="rotate(0.05 321.30 369.30)">DMSO</text>
<text x="321.30" y="379.69" font-size="6.05" textLength="20.60" lengthAdjust="spacingAndGlyphs" stroke="#231f20" stroke-width="0.06" transform="rotate(0.05 321.30 377.60)">CC-90009</text>
<text x="321.30" y="388.89" font-size="6.05" textLength="21.10" lengthAdjust="spacingAndGlyphs" stroke="#231f20" stroke-width="0.06" transform="rotate(0.05 321.30 386.80)">MLN4924</text>
<text x="361.20" y="371.54" font-size="5.62" text-anchor="middle" textLength="2.82" lengthAdjust="spacingAndGlyphs" stroke="#231f20" stroke-width="0.25" transform="rotate(0.05 361.20 369.60)">+</text>
<text x="361.20" y="379.74" font-size="5.62" text-anchor="middle" textLength="1.61" lengthAdjust="spacingAndGlyphs" stroke="#231f20" stroke-width="0.25" transform="rotate(0.05 361.20 377.80)">-</text>
<text x="361.20" y="388.94" font-size="5.62" text-anchor="middle" textLength="2.82" lengthAdjust="spacingAndGlyphs" stroke="#231f20" stroke-width="0.25" transform="rotate(0.05 361.20 387.00)">+</text>
<text x="370.00" y="371.54" font-size="5.62" text-anchor="middle" textLength="1.61" lengthAdjust="spacingAndGlyphs" stroke="#231f20" stroke-width="0.25" transform="rotate(0.05 370.00 369.60)">-</text>
<text x="370.00" y="379.74" font-size="5.62" text-anchor="middle" textLength="2.82" lengthAdjust="spacingAndGlyphs" stroke="#231f20" stroke-width="0.25" transform="rotate(0.05 370.00 377.80)">+</text>
<text x="370.00" y="388.94" font-size="5.62" text-anchor="middle" textLength="2.82" lengthAdjust="spacingAndGlyphs" stroke="#231f20" stroke-width="0.25" transform="rotate(0.05 370.00 387.00)">+</text>
<text x="378.70" y="371.54" font-size="5.62" text-anchor="middle" textLength="2.82" lengthAdjust="spacingAndGlyphs" stroke="#231f20" stroke-width="0.25" transform="rotate(0.05 378.70 369.60)">+</text>
<text x="378.70" y="379.74" font-size="5.62" text-anchor="middle" textLength="1.61" lengthAdjust="spacingAndGlyphs" stroke="#231f20" stroke-width="0.25" transform="rotate(0.05 378.70 377.80)">-</text>
<text x="378.70" y="388.94" font-size="5.62" text-anchor="middle" textLength="2.82" lengthAdjust="spacingAndGlyphs" stroke="#231f20" stroke-width="0.25" transform="rotate(0.05 378.70 387.00)">+</text>
<text x="387.40" y="371.54" font-size="5.62" text-anchor="middle" textLength="1.61" lengthAdjust="spacingAndGlyphs" stroke="#231f20" stroke-width="0.25" transform="rotate(0.05 387.40 369.60)">-</text>
<text x="387.40" y="379.74" font-size="5.62" text-anchor="middle" textLength="2.82" lengthAdjust="spacingAndGlyphs" stroke="#231f20" stroke-width="0.25" transform="rotate(0.05 387.40 377.80)">+</text>
<text x="387.40" y="388.94" font-size="5.62" text-anchor="middle" textLength="2.82" lengthAdjust="spacingAndGlyphs" stroke="#231f20" stroke-width="0.25" transform="rotate(0.05 387.40 387.00)">+</text>
<text x="395.60" y="371.54" font-size="5.62" text-anchor="middle" textLength="2.82" lengthAdjust="spacingAndGlyphs" stroke="#231f20" stroke-width="0.25" transform="rotate(0.05 395.60 369.60)">+</text>
<text x="395.60" y="379.74" font-size="5.62" text-anchor="middle" textLength="1.61" lengthAdjust="spacingAndGlyphs" stroke="#231f20" stroke-width="0.25" transform="rotate(0.05 395.60 377.80)">-</text>
<text x="395.60" y="388.94" font-size="5.62" text-anchor="middle" textLength="2.82" lengthAdjust="spacingAndGlyphs" stroke="#231f20" stroke-width="0.25" transform="rotate(0.05 395.60 387.00)">+</text>
<text x="404.10" y="371.54" font-size="5.62" text-anchor="middle" textLength="1.61" lengthAdjust="spacingAndGlyphs" stroke="#231f20" stroke-width="0.25" transform="rotate(0.05 404.10 369.60)">-</text>
<text x="404.10" y="379.74" font-size="5.62" text-anchor="middle" textLength="2.82" lengthAdjust="spacingAndGlyphs" stroke="#231f20" stroke-width="0.25" transform="rotate(0.05 404.10 377.80)">+</text>
<text x="404.10" y="388.94" font-size="5.62" text-anchor="middle" textLength="2.82" lengthAdjust="spacingAndGlyphs" stroke="#231f20" stroke-width="0.25" transform="rotate(0.05 404.10 387.00)">+</text>
<text x="412.60" y="371.54" font-size="5.62" text-anchor="middle" textLength="2.82" lengthAdjust="spacingAndGlyphs" stroke="#231f20" stroke-width="0.25" transform="rotate(0.05 412.60 369.60)">+</text>
<text x="412.60" y="379.74" font-size="5.62" text-anchor="middle" textLength="1.61" lengthAdjust="spacingAndGlyphs" stroke="#231f20" stroke-width="0.25" transform="rotate(0.05 412.60 377.80)">-</text>
<text x="412.60" y="388.94" font-size="5.62" text-anchor="middle" textLength="2.82" lengthAdjust="spacingAndGlyphs" stroke="#231f20" stroke-width="0.25" transform="rotate(0.05 412.60 387.00)">+</text>
<text x="421.10" y="371.54" font-size="5.62" text-anchor="middle" textLength="1.61" lengthAdjust="spacingAndGlyphs" stroke="#231f20" stroke-width="0.25" transform="rotate(0.05 421.10 369.60)">-</text>
<text x="421.10" y="379.74" font-size="5.62" text-anchor="middle" textLength="2.82" lengthAdjust="spacingAndGlyphs" stroke="#231f20" stroke-width="0.25" transform="rotate(0.05 421.10 377.80)">+</text>
<text x="421.10" y="388.94" font-size="5.62" text-anchor="middle" textLength="2.82" lengthAdjust="spacingAndGlyphs" stroke="#231f20" stroke-width="0.25" transform="rotate(0.05 421.10 387.00)">+</text>
<text x="426.00" y="388.94" font-size="5.62" textLength="15.00" lengthAdjust="spacingAndGlyphs" stroke="#231f20" stroke-width="0.06" transform="rotate(0.05 426.00 387.00)">(4 hrs)</text>
<rect x="358.80" y="392.00" width="66.90" height="9.70" fill="#8e8e8e"/>
<g filter="url(#bl)">
<rect x="366.80" y="395.40" width="6.40" height="3.20" rx="1.20" fill="#161616"/>
<rect x="384.20" y="395.40" width="6.40" height="3.20" rx="1.20" fill="#161616"/>
<rect x="400.90" y="395.40" width="6.40" height="3.20" rx="1.20" fill="#4d4d4d"/>
<rect x="417.90" y="395.40" width="6.40" height="3.20" rx="1.20" fill="#464646"/>
</g>
<rect x="358.80" y="404.20" width="66.90" height="9.80" fill="#d2d2d2"/>
<g filter="url(#bl)">
<rect x="357.50" y="405.10" width="7.40" height="1.60" rx="0.80" fill="#797979"/>
<rect x="366.30" y="405.10" width="7.40" height="1.60" rx="0.80" fill="#797979"/>
<rect x="375.00" y="405.10" width="7.40" height="1.60" rx="0.80" fill="#797979"/>
<rect x="383.70" y="405.10" width="7.40" height="1.60" rx="0.80" fill="#797979"/>
<rect x="391.90" y="405.10" width="7.40" height="1.60" rx="0.80" fill="#797979"/>
<rect x="400.40" y="405.10" width="7.40" height="1.60" rx="0.80" fill="#797979"/>
<rect x="408.90" y="405.10" width="7.40" height="1.60" rx="0.80" fill="#797979"/>
<rect x="417.40" y="405.10" width="7.40" height="1.60" rx="0.80" fill="#797979"/>
<rect x="357.50" y="407.60" width="7.40" height="4.60" rx="1.20" fill="#0c0c0c"/>
<rect x="366.30" y="407.60" width="7.40" height="4.60" rx="1.20" fill="#0c0c0c"/>
<rect x="375.00" y="407.60" width="7.40" height="4.60" rx="1.20" fill="#0c0c0c"/>
<rect x="383.70" y="407.60" width="7.40" height="4.60" rx="1.20" fill="#0c0c0c"/>
<rect x="391.90" y="407.60" width="7.40" height="4.60" rx="1.20" fill="#0c0c0c"/>
<rect x="400.40" y="407.60" width="7.40" height="4.60" rx="1.20" fill="#0c0c0c"/>
<rect x="408.90" y="407.60" width="7.40" height="4.60" rx="1.20" fill="#0c0c0c"/>
<rect x="417.40" y="407.60" width="7.40" height="4.60" rx="1.20" fill="#0c0c0c"/>
</g>
<line x1="365.60" y1="404.20" x2="365.60" y2="414.00" stroke="#f4f4f4" stroke-width="0.35"/>
<line x1="374.35" y1="404.20" x2="374.35" y2="414.00" stroke="#f4f4f4" stroke-width="0.35"/>
<line x1="383.05" y1="404.20" x2="383.05" y2="414.00" stroke="#f4f4f4" stroke-width="0.35"/>
<line x1="391.50" y1="404.20" x2="391.50" y2="414.00" stroke="#f4f4f4" stroke-width="0.35"/>
<line x1="399.85" y1="404.20" x2="399.85" y2="414.00" stroke="#f4f4f4" stroke-width="0.35"/>
<line x1="408.35" y1="404.20" x2="408.35" y2="414.00" stroke="#f4f4f4" stroke-width="0.35"/>
<line x1="416.85" y1="404.20" x2="416.85" y2="414.00" stroke="#f4f4f4" stroke-width="0.35"/>
<rect x="358.80" y="418.30" width="66.90" height="11.50" fill="#a2a2a2"/>
<g filter="url(#bl)">
<rect x="357.40" y="421.60" width="7.60" height="3.60" rx="1.20" fill="#181818"/>
<rect x="366.20" y="421.60" width="7.60" height="3.60" rx="1.20" fill="#181818"/>
<rect x="374.90" y="421.60" width="7.60" height="3.60" rx="1.20" fill="#181818"/>
<rect x="383.60" y="421.60" width="7.60" height="3.60" rx="1.20" fill="#181818"/>
<rect x="391.80" y="421.60" width="7.60" height="3.60" rx="1.20" fill="#181818"/>
<rect x="400.30" y="421.60" width="7.60" height="3.60" rx="1.20" fill="#181818"/>
<rect x="408.80" y="421.60" width="7.60" height="3.60" rx="1.20" fill="#181818"/>
<rect x="417.30" y="421.60" width="7.60" height="3.60" rx="1.20" fill="#181818"/>
<rect x="357.40" y="426.20" width="7.60" height="2.00" rx="1.00" fill="#848484"/>
<rect x="366.20" y="426.20" width="7.60" height="2.00" rx="1.00" fill="#848484"/>
<rect x="374.90" y="426.20" width="7.60" height="2.00" rx="1.00" fill="#848484"/>
<rect x="383.60" y="426.20" width="7.60" height="2.00" rx="1.00" fill="#848484"/>
<rect x="391.80" y="426.20" width="7.60" height="2.00" rx="1.00" fill="#848484"/>
<rect x="400.30" y="426.20" width="7.60" height="2.00" rx="1.00" fill="#848484"/>
<rect x="408.80" y="426.20" width="7.60" height="2.00" rx="1.00" fill="#848484"/>
<rect x="417.30" y="426.20" width="7.60" height="2.00" rx="1.00" fill="#848484"/>
</g>
<line x1="365.60" y1="418.30" x2="365.60" y2="429.80" stroke="#c4c4c4" stroke-width="0.35"/>
<line x1="374.35" y1="418.30" x2="374.35" y2="429.80" stroke="#c4c4c4" stroke-width="0.35"/>
<line x1="383.05" y1="418.30" x2="383.05" y2="429.80" stroke="#c4c4c4" stroke-width="0.35"/>
<line x1="391.50" y1="418.30" x2="391.50" y2="429.80" stroke="#c4c4c4" stroke-width="0.35"/>
<line x1="399.85" y1="418.30" x2="399.85" y2="429.80" stroke="#c4c4c4" stroke-width="0.35"/>
<line x1="408.35" y1="418.30" x2="408.35" y2="429.80" stroke="#c4c4c4" stroke-width="0.35"/>
<line x1="416.85" y1="418.30" x2="416.85" y2="429.80" stroke="#c4c4c4" stroke-width="0.35"/>
<rect x="358.80" y="432.00" width="66.90" height="9.30" fill="#c0c0c0"/>
<g filter="url(#bl)">
<rect x="357.50" y="434.50" width="7.40" height="3.00" rx="1.20" fill="#0c0c0c"/>
<rect x="366.30" y="434.50" width="7.40" height="3.00" rx="1.20" fill="#1e1e1e"/>
<rect x="375.00" y="434.50" width="7.40" height="3.00" rx="1.20" fill="#1e1e1e"/>
<rect x="383.70" y="434.50" width="7.40" height="3.00" rx="1.20" fill="#1e1e1e"/>
<rect x="391.90" y="434.50" width="7.40" height="3.00" rx="1.20" fill="#1e1e1e"/>
<rect x="400.40" y="434.50" width="7.40" height="3.00" rx="1.20" fill="#1e1e1e"/>
<rect x="408.90" y="434.50" width="7.40" height="3.00" rx="1.20" fill="#272727"/>
<rect x="417.40" y="434.50" width="7.40" height="3.00" rx="1.20" fill="#1e1e1e"/>
</g>
<rect x="358.80" y="442.90" width="66.90" height="7.50" fill="#8a8a8a"/>
<g filter="url(#bl)">
<rect x="357.60" y="444.50" width="7.20" height="1.80" rx="0.90" fill="#2c2c2c"/>
<rect x="366.40" y="444.50" width="7.20" height="1.80" rx="0.90" fill="#323232"/>
<rect x="375.10" y="444.50" width="7.20" height="1.80" rx="0.90" fill="#323232"/>
<rect x="383.80" y="444.50" width="7.20" height="1.80" rx="0.90" fill="#323232"/>
<rect x="357.60" y="446.90" width="7.20" height="1.80" rx="0.90" fill="#252525"/>
<rect x="366.40" y="446.90" width="7.20" height="1.80" rx="0.90" fill="#2c2c2c"/>
<rect x="375.10" y="446.90" width="7.20" height="1.80" rx="0.90" fill="#2c2c2c"/>
<rect x="383.80" y="446.90" width="7.20" height="1.80" rx="0.90" fill="#2c2c2c"/>
</g>
<rect x="358.80" y="452.20" width="66.90" height="6.80" fill="#cacaca"/>
<g filter="url(#bl)">
<rect x="357.60" y="453.50" width="7.20" height="1.40" rx="0.70" fill="#919191"/>
<rect x="366.40" y="453.50" width="7.20" height="1.40" rx="0.70" fill="#9a9a9a"/>
<rect x="375.10" y="453.50" width="7.20" height="1.40" rx="0.70" fill="#9a9a9a"/>
<rect x="383.80" y="453.50" width="7.20" height="1.40" rx="0.70" fill="#9a9a9a"/>
<rect x="392.00" y="453.50" width="7.20" height="1.40" rx="0.70" fill="#3c3c3c"/>
<rect x="400.50" y="453.50" width="7.20" height="1.40" rx="0.70" fill="#3c3c3c"/>
<rect x="409.00" y="453.50" width="7.20" height="1.40" rx="0.70" fill="#323232"/>
<rect x="417.50" y="453.50" width="7.20" height="1.40" rx="0.70" fill="#282828"/>
<rect x="357.60" y="455.70" width="7.20" height="1.80" rx="0.90" fill="#757575"/>
<rect x="366.40" y="455.70" width="7.20" height="1.80" rx="0.90" fill="#888888"/>
<rect x="375.10" y="455.70" width="7.20" height="1.80" rx="0.90" fill="#7e7e7e"/>
<rect x="383.80" y="455.70" width="7.20" height="1.80" rx="0.90" fill="#888888"/>
<rect x="392.00" y="455.70" width="7.20" height="1.80" rx="0.90" fill="#161616"/>
<rect x="400.50" y="455.70" width="7.20" height="1.80" rx="0.90" fill="#161616"/>
<rect x="409.00" y="455.70" width="7.20" height="1.80" rx="0.90" fill="#161616"/>
<rect x="417.50" y="455.70" width="7.20" height="1.80" rx="0.90" fill="#0c0c0c"/>
</g>
<rect x="358.80" y="460.00" width="66.90" height="9.10" fill="#dedede"/>
<g filter="url(#bl)">
<rect x="357.50" y="461.60" width="7.40" height="1.20" rx="0.60" fill="#949494"/>
<rect x="366.30" y="461.60" width="7.40" height="1.20" rx="0.60" fill="#949494"/>
<rect x="375.00" y="461.60" width="7.40" height="1.20" rx="0.60" fill="#949494"/>
<rect x="383.70" y="461.60" width="7.40" height="1.20" rx="0.60" fill="#949494"/>
<rect x="391.90" y="461.60" width="7.40" height="1.20" rx="0.60" fill="#949494"/>
<rect x="400.40" y="461.60" width="7.40" height="1.20" rx="0.60" fill="#949494"/>
<rect x="408.90" y="461.60" width="7.40" height="1.20" rx="0.60" fill="#949494"/>
<rect x="417.40" y="461.60" width="7.40" height="1.20" rx="0.60" fill="#949494"/>
<rect x="357.50" y="464.10" width="7.40" height="3.40" rx="1.20" fill="#0c0c0c"/>
<rect x="366.30" y="464.10" width="7.40" height="3.40" rx="1.20" fill="#0c0c0c"/>
<rect x="375.00" y="464.10" width="7.40" height="3.40" rx="1.20" fill="#0c0c0c"/>
<rect x="383.70" y="464.10" width="7.40" height="3.40" rx="1.20" fill="#0c0c0c"/>
<rect x="391.90" y="464.10" width="7.40" height="3.40" rx="1.20" fill="#0c0c0c"/>
<rect x="400.40" y="464.10" width="7.40" height="3.40" rx="1.20" fill="#0c0c0c"/>
<rect x="408.90" y="464.10" width="7.40" height="3.40" rx="1.20" fill="#0c0c0c"/>
<rect x="417.40" y="464.10" width="7.40" height="3.40" rx="1.20" fill="#0c0c0c"/>
</g>
<rect x="358.80" y="471.30" width="66.90" height="9.40" fill="#b2b2b2"/>
<g filter="url(#bl)">
<rect x="357.40" y="473.70" width="7.60" height="3.40" rx="1.20" fill="#141414"/>
<rect x="366.20" y="473.70" width="7.60" height="3.40" rx="1.20" fill="#141414"/>
<rect x="374.90" y="473.70" width="7.60" height="3.40" rx="1.20" fill="#141414"/>
<rect x="383.60" y="473.70" width="7.60" height="3.40" rx="1.20" fill="#141414"/>
<rect x="391.80" y="473.70" width="7.60" height="3.40" rx="1.20" fill="#141414"/>
<rect x="400.30" y="473.70" width="7.60" height="3.40" rx="1.20" fill="#141414"/>
<rect x="408.80" y="473.70" width="7.60" height="3.40" rx="1.20" fill="#141414"/>
<rect x="417.30" y="473.70" width="7.60" height="3.40" rx="1.20" fill="#141414"/>
</g>
<line x1="362.20" y1="483.60" x2="425.40" y2="483.60" stroke="#5a5a5a" stroke-width="1.6"/>
<text x="392.30" y="491.59" font-size="6.05" text-anchor="middle" textLength="54.60" lengthAdjust="spacingAndGlyphs" stroke="#231f20" stroke-width="0.06" transform="rotate(0.05 392.30 489.50)">U937 Cas9-HA-GSPT1</text>
<line x1="355.60" y1="391.60" x2="355.60" y2="414.20" stroke="#231f20" stroke-width="0.8"/>
<line x1="355.60" y1="419.00" x2="355.60" y2="479.80" stroke="#231f20" stroke-width="0.8"/>
<text x="349.40" y="404.81" font-size="5.83" text-anchor="middle" textLength="20.00" lengthAdjust="spacingAndGlyphs" stroke="#231f20" stroke-width="0.06" transform="rotate(-89.95 349.40 402.80)">α-HA IP</text>
<text x="349.70" y="451.41" font-size="5.83" text-anchor="middle" textLength="44.00" lengthAdjust="spacingAndGlyphs" stroke="#231f20" stroke-width="0.06" transform="rotate(-89.95 349.70 449.40)">Whole Cell Lysate</text>
<text x="428.80" y="399.49" font-size="6.05" textLength="14.74" lengthAdjust="spacingAndGlyphs" stroke="#231f20" stroke-width="0.06" transform="rotate(0.05 428.80 397.40)">CRBN</text>
<text x="428.80" y="411.29" font-size="6.05" textLength="26.01" lengthAdjust="spacingAndGlyphs" stroke="#231f20" stroke-width="0.06" transform="rotate(0.05 428.80 409.20)">HA-GSPT1</text>
<text x="428.80" y="425.69" font-size="6.05" textLength="14.74" lengthAdjust="spacingAndGlyphs" stroke="#231f20" stroke-width="0.06" transform="rotate(0.05 428.80 423.60)">CRBN</text>
<text x="428.80" y="438.49" font-size="6.05" textLength="26.01" lengthAdjust="spacingAndGlyphs" stroke="#231f20" stroke-width="0.06" transform="rotate(0.05 428.80 436.40)">HA-GSPT1</text>
<text x="428.80" y="448.09" font-size="6.05" textLength="13.29" lengthAdjust="spacingAndGlyphs" stroke="#231f20" stroke-width="0.06" transform="rotate(0.05 428.80 446.00)">TSC1</text>
<text x="428.80" y="458.09" font-size="6.05" textLength="29.20" lengthAdjust="spacingAndGlyphs" stroke="#231f20" stroke-width="0.06" transform="rotate(0.05 428.80 456.00)">pT389-S6K1</text>
<text x="428.80" y="467.09" font-size="6.05" textLength="12.72" lengthAdjust="spacingAndGlyphs" stroke="#231f20" stroke-width="0.06" transform="rotate(0.05 428.80 465.00)">S6K1</text>
<text x="428.80" y="478.09" font-size="6.05" textLength="11.56" lengthAdjust="spacingAndGlyphs" stroke="#231f20" stroke-width="0.06" transform="rotate(0.05 428.80 476.00)">Actin</text>
</g>
<rect x="0.00" y="0.00" width="520.00" height="1.00" fill="#000"/>
<rect x="0.00" y="0.00" width="1.00" height="500.00" fill="#000"/>
<rect x="518.00" y="0.00" width="1.00" height="500.00" fill="#7a7a7a"/>
<rect x="0.00" y="498.00" width="520.00" height="1.00" fill="#7a7a7a"/>
<rect x="519.00" y="0.00" width="1.00" height="500.00" fill="#000"/>
<rect x="0.00" y="499.00" width="520.00" height="1.00" fill="#000"/>
<rect x="1.00" y="1.00" width="518.00" height="0.30" fill="#000"/>
<rect x="1.00" y="1.00" width="0.30" height="498.00" fill="#000"/>
</svg></body></html>
